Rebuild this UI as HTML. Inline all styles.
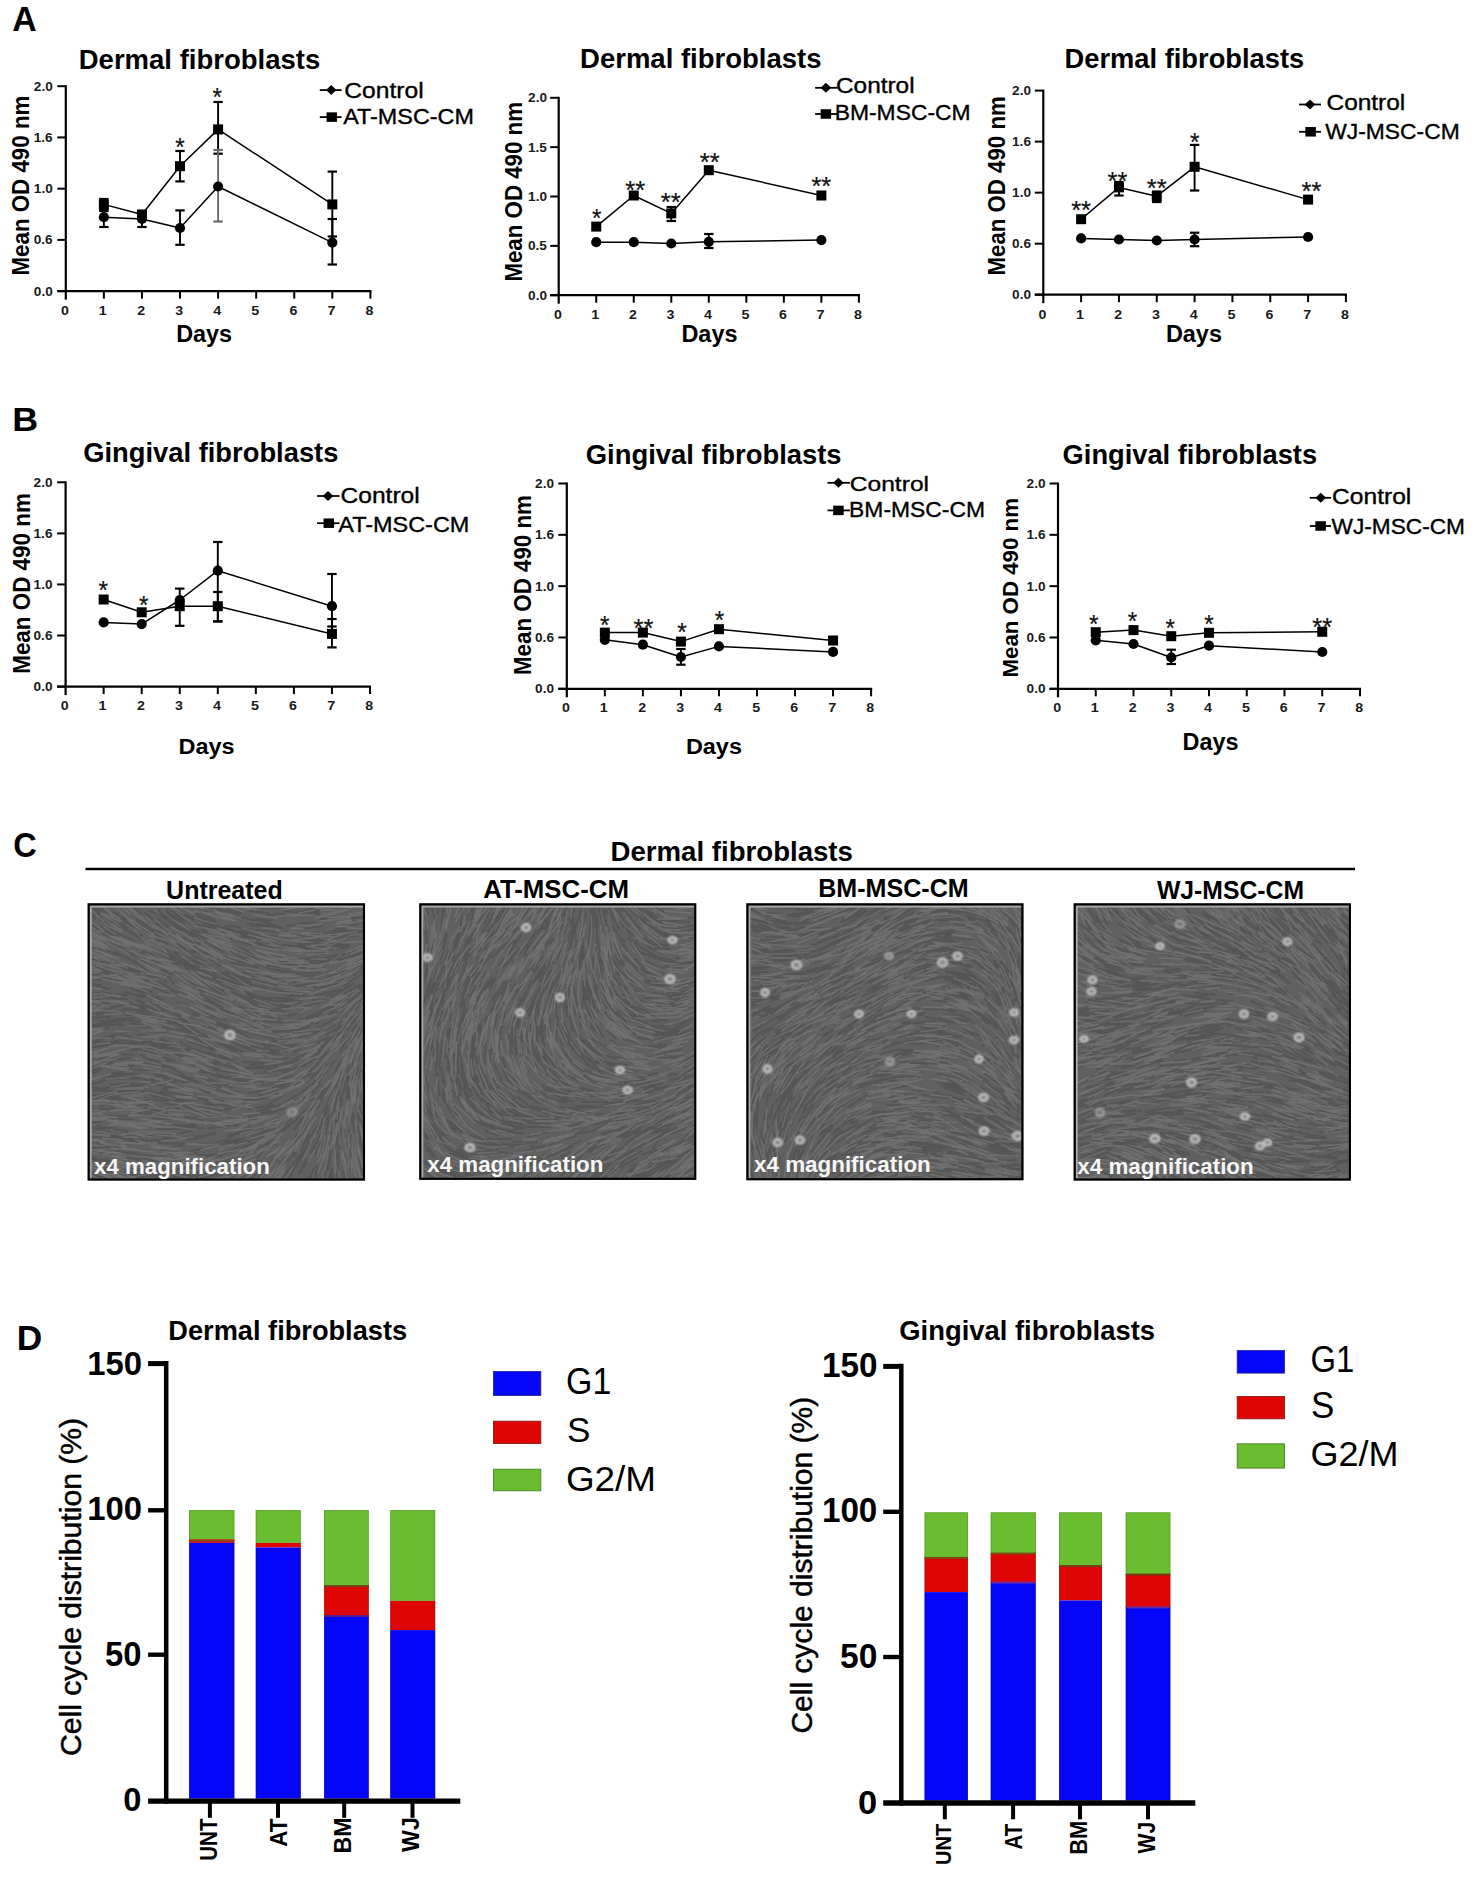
<!DOCTYPE html>
<html><head><meta charset="utf-8"><title>Figure</title>
<style>html,body{margin:0;padding:0;background:#fff;}body{width:1480px;height:1877px;overflow:hidden;font-family:"Liberation Sans", sans-serif;}svg text{font-family:"Liberation Sans", sans-serif;}</style>
</head><body>
<svg width="1480" height="1877" viewBox="0 0 1480 1877" style="display:block;font-family:'Liberation Sans', sans-serif">
<defs><filter id="soft2" x="-5%" y="-5%" width="110%" height="110%"><feGaussianBlur stdDeviation="1.1"/></filter><filter id="soft" x="-5%" y="-5%" width="110%" height="110%"><feGaussianBlur stdDeviation="0.6"/></filter><clipPath id="clip0"><rect x="89.7" y="905.4" width="273.3" height="273.1"/></clipPath><clipPath id="clip1"><rect x="421.3" y="905.4" width="272.9" height="272.4"/></clipPath><clipPath id="clip2"><rect x="748.4" y="905.4" width="273" height="272.8"/></clipPath><clipPath id="clip3"><rect x="1075.7" y="905.4" width="273.2" height="273.1"/></clipPath></defs>
<rect width="1480" height="1877" fill="#fff"/>
<text x="12.15" y="31.2" font-size="35.35" font-weight="bold" fill="#000" textLength="24.47" lengthAdjust="spacingAndGlyphs" >A</text>
<text x="12.18" y="430.5" font-size="32.58" font-weight="bold" fill="#000" textLength="25.93" lengthAdjust="spacingAndGlyphs" >B</text>
<text x="13.2" y="857.2" font-size="35.41" font-weight="bold" fill="#000" textLength="23.48" lengthAdjust="spacingAndGlyphs" >C</text>
<text x="16.82" y="1350.1" font-size="35.35" font-weight="bold" fill="#000" textLength="25.47" lengthAdjust="spacingAndGlyphs" >D</text>
<g>
<line x1="65.8" y1="85.2" x2="65.8" y2="299.6" stroke="#000" stroke-width="2.2" stroke-linecap="butt"/>
<line x1="57.3" y1="291.1" x2="371.5" y2="291.1" stroke="#000" stroke-width="2.2" stroke-linecap="butt"/>
<line x1="57.3" y1="291.1" x2="65.8" y2="291.1" stroke="#000" stroke-width="2.0" stroke-linecap="butt"/>
<text x="33.83" y="295.5" font-size="12.9" font-weight="bold" fill="#1a1a1a" textLength="18.92" lengthAdjust="spacingAndGlyphs" >0.0</text>
<line x1="57.3" y1="239.88" x2="65.8" y2="239.88" stroke="#000" stroke-width="2.0" stroke-linecap="butt"/>
<text x="33.76" y="244.28" font-size="12.9" font-weight="bold" fill="#1a1a1a" textLength="18.92" lengthAdjust="spacingAndGlyphs" >0.6</text>
<line x1="57.3" y1="188.65" x2="65.8" y2="188.65" stroke="#000" stroke-width="2.0" stroke-linecap="butt"/>
<text x="33.83" y="193.05" font-size="12.9" font-weight="bold" fill="#1a1a1a" textLength="18.92" lengthAdjust="spacingAndGlyphs" >1.0</text>
<line x1="57.3" y1="137.43" x2="65.8" y2="137.43" stroke="#000" stroke-width="2.0" stroke-linecap="butt"/>
<text x="33.76" y="141.83" font-size="12.9" font-weight="bold" fill="#1a1a1a" textLength="18.92" lengthAdjust="spacingAndGlyphs" >1.6</text>
<line x1="57.3" y1="86.2" x2="65.8" y2="86.2" stroke="#000" stroke-width="2.0" stroke-linecap="butt"/>
<text x="33.83" y="90.6" font-size="12.9" font-weight="bold" fill="#1a1a1a" textLength="18.92" lengthAdjust="spacingAndGlyphs" >2.0</text>
<text x="61.06" y="314.6" font-size="12.9" font-weight="bold" fill="#1a1a1a" textLength="7.89" lengthAdjust="spacingAndGlyphs" >0</text>
<line x1="103.88" y1="291.1" x2="103.88" y2="298.6" stroke="#000" stroke-width="2.0" stroke-linecap="butt"/>
<text x="98.83" y="314.6" font-size="13.09" font-weight="bold" fill="#1a1a1a" textLength="8.01" lengthAdjust="spacingAndGlyphs" >1</text>
<line x1="141.95" y1="291.1" x2="141.95" y2="298.6" stroke="#000" stroke-width="2.0" stroke-linecap="butt"/>
<text x="137.23" y="314.6" font-size="12.9" font-weight="bold" fill="#1a1a1a" textLength="7.89" lengthAdjust="spacingAndGlyphs" >2</text>
<line x1="180.02" y1="291.1" x2="180.02" y2="298.6" stroke="#000" stroke-width="2.0" stroke-linecap="butt"/>
<text x="175.37" y="314.6" font-size="12.9" font-weight="bold" fill="#1a1a1a" textLength="7.89" lengthAdjust="spacingAndGlyphs" >3</text>
<line x1="218.1" y1="291.1" x2="218.1" y2="298.6" stroke="#000" stroke-width="2.0" stroke-linecap="butt"/>
<text x="213.23" y="314.6" font-size="13.09" font-weight="bold" fill="#1a1a1a" textLength="8.01" lengthAdjust="spacingAndGlyphs" >4</text>
<line x1="256.17" y1="291.1" x2="256.17" y2="298.6" stroke="#000" stroke-width="2.0" stroke-linecap="butt"/>
<text x="251.36" y="314.6" font-size="13.09" font-weight="bold" fill="#1a1a1a" textLength="8.01" lengthAdjust="spacingAndGlyphs" >5</text>
<line x1="294.25" y1="291.1" x2="294.25" y2="298.6" stroke="#000" stroke-width="2.0" stroke-linecap="butt"/>
<text x="289.49" y="314.6" font-size="12.9" font-weight="bold" fill="#1a1a1a" textLength="7.89" lengthAdjust="spacingAndGlyphs" >6</text>
<line x1="332.32" y1="291.1" x2="332.32" y2="298.6" stroke="#000" stroke-width="2.0" stroke-linecap="butt"/>
<text x="327.53" y="314.6" font-size="13.09" font-weight="bold" fill="#1a1a1a" textLength="8.01" lengthAdjust="spacingAndGlyphs" >7</text>
<line x1="370.4" y1="291.1" x2="370.4" y2="298.6" stroke="#000" stroke-width="2.0" stroke-linecap="butt"/>
<text x="365.64" y="314.6" font-size="12.9" font-weight="bold" fill="#1a1a1a" textLength="7.89" lengthAdjust="spacingAndGlyphs" >8</text>
<text x="78.74" y="68.6" font-size="28" font-weight="bold" fill="#000" textLength="241.57" lengthAdjust="spacingAndGlyphs" >Dermal fibroblasts</text>
<text transform="translate(29.1,274) rotate(-90)" x="-1.51" y="0" font-size="23.23" font-weight="bold" fill="#000" textLength="179.87" lengthAdjust="spacingAndGlyphs" >Mean OD 490 nm</text>
<text x="176.22" y="341.7" font-size="23.27" font-weight="bold" fill="#000" textLength="55.83" lengthAdjust="spacingAndGlyphs" >Days</text>
<line x1="319.8" y1="90.1" x2="341.6" y2="90.1" stroke="#000" stroke-width="1.8" stroke-linecap="butt"/>
<path d="M325.95 90.1L331.2 85.1L336.45 90.1L331.2 95.1Z" fill="#000"/>
<line x1="319.8" y1="117.1" x2="341.6" y2="117.1" stroke="#000" stroke-width="1.8" stroke-linecap="butt"/>
<rect x="326.55" y="112.35" width="10.5" height="9.5" fill="#000"/>
<text x="344.37" y="97.6" font-size="22.21" font-weight="normal" fill="#000" textLength="79.26" lengthAdjust="spacingAndGlyphs" stroke="#000" stroke-width="0.35">Control</text>
<text x="343.24" y="124" font-size="22.22" font-weight="normal" fill="#000" textLength="130.67" lengthAdjust="spacingAndGlyphs" stroke="#000" stroke-width="0.35">AT-MSC-CM</text>
<line x1="103.88" y1="199" x2="103.88" y2="209.5" stroke="#000" stroke-width="1.9" stroke-linecap="butt"/>
<line x1="99.17" y1="199" x2="108.58" y2="199" stroke="#000" stroke-width="2.2" stroke-linecap="butt"/>
<line x1="99.17" y1="209.5" x2="108.58" y2="209.5" stroke="#000" stroke-width="2.2" stroke-linecap="butt"/>
<line x1="103.88" y1="211" x2="103.88" y2="227" stroke="#000" stroke-width="1.9" stroke-linecap="butt"/>
<line x1="99.17" y1="211" x2="108.58" y2="211" stroke="#000" stroke-width="2.2" stroke-linecap="butt"/>
<line x1="99.17" y1="227" x2="108.58" y2="227" stroke="#000" stroke-width="2.2" stroke-linecap="butt"/>
<line x1="141.95" y1="211" x2="141.95" y2="227" stroke="#000" stroke-width="1.9" stroke-linecap="butt"/>
<line x1="137.25" y1="211" x2="146.65" y2="211" stroke="#000" stroke-width="2.2" stroke-linecap="butt"/>
<line x1="137.25" y1="227" x2="146.65" y2="227" stroke="#000" stroke-width="2.2" stroke-linecap="butt"/>
<line x1="180.02" y1="151" x2="180.02" y2="181.4" stroke="#000" stroke-width="1.9" stroke-linecap="butt"/>
<line x1="175.32" y1="151" x2="184.72" y2="151" stroke="#000" stroke-width="2.2" stroke-linecap="butt"/>
<line x1="175.32" y1="181.4" x2="184.72" y2="181.4" stroke="#000" stroke-width="2.2" stroke-linecap="butt"/>
<line x1="180.02" y1="210.4" x2="180.02" y2="244.8" stroke="#000" stroke-width="1.9" stroke-linecap="butt"/>
<line x1="175.32" y1="210.4" x2="184.72" y2="210.4" stroke="#000" stroke-width="2.2" stroke-linecap="butt"/>
<line x1="175.32" y1="244.8" x2="184.72" y2="244.8" stroke="#000" stroke-width="2.2" stroke-linecap="butt"/>
<line x1="218.1" y1="102" x2="218.1" y2="153.7" stroke="#000" stroke-width="1.9" stroke-linecap="butt"/>
<line x1="213.4" y1="102" x2="222.8" y2="102" stroke="#000" stroke-width="2.2" stroke-linecap="butt"/>
<line x1="213.4" y1="153.7" x2="222.8" y2="153.7" stroke="#000" stroke-width="2.2" stroke-linecap="butt"/>
<line x1="218.1" y1="150" x2="218.1" y2="221.5" stroke="#6a6a6a" stroke-width="1.9" stroke-linecap="butt"/>
<line x1="213.4" y1="150" x2="222.8" y2="150" stroke="#6a6a6a" stroke-width="2.2" stroke-linecap="butt"/>
<line x1="213.4" y1="221.5" x2="222.8" y2="221.5" stroke="#6a6a6a" stroke-width="2.2" stroke-linecap="butt"/>
<line x1="332.32" y1="171.6" x2="332.32" y2="236.5" stroke="#000" stroke-width="1.9" stroke-linecap="butt"/>
<line x1="327.62" y1="171.6" x2="337.02" y2="171.6" stroke="#000" stroke-width="2.2" stroke-linecap="butt"/>
<line x1="327.62" y1="236.5" x2="337.02" y2="236.5" stroke="#000" stroke-width="2.2" stroke-linecap="butt"/>
<line x1="332.32" y1="219" x2="332.32" y2="264.5" stroke="#000" stroke-width="1.9" stroke-linecap="butt"/>
<line x1="327.62" y1="219" x2="337.02" y2="219" stroke="#000" stroke-width="2.2" stroke-linecap="butt"/>
<line x1="327.62" y1="264.5" x2="337.02" y2="264.5" stroke="#000" stroke-width="2.2" stroke-linecap="butt"/>
<polyline points="103.88,217.2 141.95,218.9 180.02,228 218.1,186.5 332.32,242.6" fill="none" stroke="#000" stroke-width="1.5" stroke-linejoin="round"/>
<polyline points="103.88,204.4 141.95,214.5 180.02,166.2 218.1,129.4 332.32,204.4" fill="none" stroke="#000" stroke-width="1.5" stroke-linejoin="round"/>
<circle cx="103.88" cy="217.2" r="5.1" fill="#000"/>
<circle cx="141.95" cy="218.9" r="5.1" fill="#000"/>
<circle cx="180.02" cy="228" r="5.1" fill="#000"/>
<circle cx="218.1" cy="186.5" r="5.1" fill="#000"/>
<circle cx="332.32" cy="242.6" r="5.1" fill="#000"/>
<rect x="98.88" y="199.4" width="10" height="10" fill="#000"/>
<rect x="136.95" y="209.5" width="10" height="10" fill="#000"/>
<rect x="175.02" y="161.2" width="10" height="10" fill="#000"/>
<rect x="213.1" y="124.4" width="10" height="10" fill="#000"/>
<rect x="327.32" y="199.4" width="10" height="10" fill="#000"/>
<text x="175.3" y="156.49" font-size="25.14" font-weight="normal" fill="#111" textLength="9.43" lengthAdjust="spacingAndGlyphs" stroke="#111" stroke-width="0.2">*</text>
<text x="212.38" y="105.89" font-size="25.14" font-weight="normal" fill="#111" textLength="9.43" lengthAdjust="spacingAndGlyphs" stroke="#111" stroke-width="0.2">*</text>
</g>
<g>
<line x1="558.7" y1="96.8" x2="558.7" y2="303.7" stroke="#000" stroke-width="2.2" stroke-linecap="butt"/>
<line x1="550.2" y1="295.2" x2="860" y2="295.2" stroke="#000" stroke-width="2.2" stroke-linecap="butt"/>
<line x1="550.2" y1="295.2" x2="558.7" y2="295.2" stroke="#000" stroke-width="2.0" stroke-linecap="butt"/>
<text x="528.13" y="299.6" font-size="12.9" font-weight="bold" fill="#1a1a1a" textLength="18.92" lengthAdjust="spacingAndGlyphs" >0.0</text>
<line x1="550.2" y1="245.85" x2="558.7" y2="245.85" stroke="#000" stroke-width="2.0" stroke-linecap="butt"/>
<text x="527.96" y="250.25" font-size="12.9" font-weight="bold" fill="#1a1a1a" textLength="18.92" lengthAdjust="spacingAndGlyphs" >0.5</text>
<line x1="550.2" y1="196.5" x2="558.7" y2="196.5" stroke="#000" stroke-width="2.0" stroke-linecap="butt"/>
<text x="528.13" y="200.9" font-size="12.9" font-weight="bold" fill="#1a1a1a" textLength="18.92" lengthAdjust="spacingAndGlyphs" >1.0</text>
<line x1="550.2" y1="147.15" x2="558.7" y2="147.15" stroke="#000" stroke-width="2.0" stroke-linecap="butt"/>
<text x="527.96" y="151.55" font-size="13.09" font-weight="bold" fill="#1a1a1a" textLength="18.92" lengthAdjust="spacingAndGlyphs" >1.5</text>
<line x1="550.2" y1="97.8" x2="558.7" y2="97.8" stroke="#000" stroke-width="2.0" stroke-linecap="butt"/>
<text x="528.13" y="102.2" font-size="12.9" font-weight="bold" fill="#1a1a1a" textLength="18.92" lengthAdjust="spacingAndGlyphs" >2.0</text>
<text x="553.96" y="319" font-size="12.9" font-weight="bold" fill="#1a1a1a" textLength="7.89" lengthAdjust="spacingAndGlyphs" >0</text>
<line x1="596.23" y1="295.2" x2="596.23" y2="302.7" stroke="#000" stroke-width="2.0" stroke-linecap="butt"/>
<text x="591.18" y="319" font-size="13.09" font-weight="bold" fill="#1a1a1a" textLength="8.01" lengthAdjust="spacingAndGlyphs" >1</text>
<line x1="633.75" y1="295.2" x2="633.75" y2="302.7" stroke="#000" stroke-width="2.0" stroke-linecap="butt"/>
<text x="629.03" y="319" font-size="12.9" font-weight="bold" fill="#1a1a1a" textLength="7.89" lengthAdjust="spacingAndGlyphs" >2</text>
<line x1="671.27" y1="295.2" x2="671.27" y2="302.7" stroke="#000" stroke-width="2.0" stroke-linecap="butt"/>
<text x="666.62" y="319" font-size="12.9" font-weight="bold" fill="#1a1a1a" textLength="7.89" lengthAdjust="spacingAndGlyphs" >3</text>
<line x1="708.8" y1="295.2" x2="708.8" y2="302.7" stroke="#000" stroke-width="2.0" stroke-linecap="butt"/>
<text x="703.93" y="319" font-size="13.09" font-weight="bold" fill="#1a1a1a" textLength="8.01" lengthAdjust="spacingAndGlyphs" >4</text>
<line x1="746.33" y1="295.2" x2="746.33" y2="302.7" stroke="#000" stroke-width="2.0" stroke-linecap="butt"/>
<text x="741.51" y="319" font-size="13.09" font-weight="bold" fill="#1a1a1a" textLength="8.01" lengthAdjust="spacingAndGlyphs" >5</text>
<line x1="783.85" y1="295.2" x2="783.85" y2="302.7" stroke="#000" stroke-width="2.0" stroke-linecap="butt"/>
<text x="779.09" y="319" font-size="12.9" font-weight="bold" fill="#1a1a1a" textLength="7.89" lengthAdjust="spacingAndGlyphs" >6</text>
<line x1="821.38" y1="295.2" x2="821.38" y2="302.7" stroke="#000" stroke-width="2.0" stroke-linecap="butt"/>
<text x="816.58" y="319" font-size="13.09" font-weight="bold" fill="#1a1a1a" textLength="8.01" lengthAdjust="spacingAndGlyphs" >7</text>
<line x1="858.9" y1="295.2" x2="858.9" y2="302.7" stroke="#000" stroke-width="2.0" stroke-linecap="butt"/>
<text x="854.14" y="319" font-size="12.9" font-weight="bold" fill="#1a1a1a" textLength="7.89" lengthAdjust="spacingAndGlyphs" >8</text>
<text x="580.04" y="68.1" font-size="27.86" font-weight="bold" fill="#000" textLength="241.47" lengthAdjust="spacingAndGlyphs" >Dermal fibroblasts</text>
<text transform="translate(522.4,280.1) rotate(-90)" x="-1.5" y="0" font-size="24.09" font-weight="bold" fill="#000" textLength="179.56" lengthAdjust="spacingAndGlyphs" >Mean OD 490 nm</text>
<text x="681.41" y="342" font-size="23.71" font-weight="bold" fill="#000" textLength="56.14" lengthAdjust="spacingAndGlyphs" >Days</text>
<line x1="815.1" y1="87.8" x2="837.2" y2="87.8" stroke="#000" stroke-width="1.8" stroke-linecap="butt"/>
<path d="M820.65 87.8L825.9 82.8L831.15 87.8L825.9 92.8Z" fill="#000"/>
<line x1="815.1" y1="114" x2="837.2" y2="114" stroke="#000" stroke-width="1.8" stroke-linecap="butt"/>
<rect x="820.65" y="109.25" width="10.5" height="9.5" fill="#000"/>
<text x="835.98" y="93" font-size="21.38" font-weight="normal" fill="#000" textLength="78.64" lengthAdjust="spacingAndGlyphs" stroke="#000" stroke-width="0.35">Control</text>
<text x="834.71" y="120" font-size="22.22" font-weight="normal" fill="#000" textLength="135.89" lengthAdjust="spacingAndGlyphs" stroke="#000" stroke-width="0.35">BM-MSC-CM</text>
<line x1="671.27" y1="207" x2="671.27" y2="221" stroke="#000" stroke-width="1.9" stroke-linecap="butt"/>
<line x1="666.57" y1="207" x2="675.98" y2="207" stroke="#000" stroke-width="2.2" stroke-linecap="butt"/>
<line x1="666.57" y1="221" x2="675.98" y2="221" stroke="#000" stroke-width="2.2" stroke-linecap="butt"/>
<line x1="708.8" y1="234" x2="708.8" y2="248" stroke="#000" stroke-width="1.9" stroke-linecap="butt"/>
<line x1="704.1" y1="234" x2="713.5" y2="234" stroke="#000" stroke-width="2.2" stroke-linecap="butt"/>
<line x1="704.1" y1="248" x2="713.5" y2="248" stroke="#000" stroke-width="2.2" stroke-linecap="butt"/>
<polyline points="596.23,242.2 633.75,242.2 671.27,243.5 708.8,241.8 821.38,240.1" fill="none" stroke="#000" stroke-width="1.5" stroke-linejoin="round"/>
<polyline points="596.23,226.6 633.75,195.5 671.27,213.4 708.8,170.2 821.38,195.5" fill="none" stroke="#000" stroke-width="1.5" stroke-linejoin="round"/>
<circle cx="596.23" cy="242.2" r="5.1" fill="#000"/>
<circle cx="633.75" cy="242.2" r="5.1" fill="#000"/>
<circle cx="671.27" cy="243.5" r="5.1" fill="#000"/>
<circle cx="708.8" cy="241.8" r="5.1" fill="#000"/>
<circle cx="821.38" cy="240.1" r="5.1" fill="#000"/>
<rect x="591.23" y="221.6" width="10" height="10" fill="#000"/>
<rect x="628.75" y="190.5" width="10" height="10" fill="#000"/>
<rect x="666.27" y="208.4" width="10" height="10" fill="#000"/>
<rect x="703.8" y="165.2" width="10" height="10" fill="#000"/>
<rect x="816.38" y="190.5" width="10" height="10" fill="#000"/>
<text x="592" y="226.89" font-size="25.14" font-weight="normal" fill="#111" textLength="9.43" lengthAdjust="spacingAndGlyphs" stroke="#111" stroke-width="0.2">*</text>
<text x="625.3" y="198.89" font-size="25.14" font-weight="normal" fill="#111" textLength="19.85" lengthAdjust="spacingAndGlyphs" stroke="#111" stroke-width="0.2">**</text>
<text x="660.83" y="210.89" font-size="25.14" font-weight="normal" fill="#111" textLength="19.85" lengthAdjust="spacingAndGlyphs" stroke="#111" stroke-width="0.2">**</text>
<text x="699.85" y="171.29" font-size="25.14" font-weight="normal" fill="#111" textLength="19.85" lengthAdjust="spacingAndGlyphs" stroke="#111" stroke-width="0.2">**</text>
<text x="811.43" y="194.89" font-size="25.14" font-weight="normal" fill="#111" textLength="19.85" lengthAdjust="spacingAndGlyphs" stroke="#111" stroke-width="0.2">**</text>
</g>
<g>
<line x1="1043.3" y1="89.6" x2="1043.3" y2="303.2" stroke="#000" stroke-width="2.2" stroke-linecap="butt"/>
<line x1="1034.8" y1="294.7" x2="1347" y2="294.7" stroke="#000" stroke-width="2.2" stroke-linecap="butt"/>
<line x1="1034.8" y1="294.7" x2="1043.3" y2="294.7" stroke="#000" stroke-width="2.0" stroke-linecap="butt"/>
<text x="1012.13" y="299.1" font-size="12.9" font-weight="bold" fill="#1a1a1a" textLength="18.92" lengthAdjust="spacingAndGlyphs" >0.0</text>
<line x1="1034.8" y1="243.67" x2="1043.3" y2="243.67" stroke="#000" stroke-width="2.0" stroke-linecap="butt"/>
<text x="1012.06" y="248.07" font-size="12.9" font-weight="bold" fill="#1a1a1a" textLength="18.92" lengthAdjust="spacingAndGlyphs" >0.6</text>
<line x1="1034.8" y1="192.65" x2="1043.3" y2="192.65" stroke="#000" stroke-width="2.0" stroke-linecap="butt"/>
<text x="1012.13" y="197.05" font-size="12.9" font-weight="bold" fill="#1a1a1a" textLength="18.92" lengthAdjust="spacingAndGlyphs" >1.0</text>
<line x1="1034.8" y1="141.62" x2="1043.3" y2="141.62" stroke="#000" stroke-width="2.0" stroke-linecap="butt"/>
<text x="1012.06" y="146.03" font-size="12.9" font-weight="bold" fill="#1a1a1a" textLength="18.92" lengthAdjust="spacingAndGlyphs" >1.6</text>
<line x1="1034.8" y1="90.6" x2="1043.3" y2="90.6" stroke="#000" stroke-width="2.0" stroke-linecap="butt"/>
<text x="1012.13" y="95" font-size="12.9" font-weight="bold" fill="#1a1a1a" textLength="18.92" lengthAdjust="spacingAndGlyphs" >2.0</text>
<text x="1038.56" y="319" font-size="12.9" font-weight="bold" fill="#1a1a1a" textLength="7.89" lengthAdjust="spacingAndGlyphs" >0</text>
<line x1="1081.12" y1="294.7" x2="1081.12" y2="302.2" stroke="#000" stroke-width="2.0" stroke-linecap="butt"/>
<text x="1076.08" y="319" font-size="13.09" font-weight="bold" fill="#1a1a1a" textLength="8.01" lengthAdjust="spacingAndGlyphs" >1</text>
<line x1="1118.95" y1="294.7" x2="1118.95" y2="302.2" stroke="#000" stroke-width="2.0" stroke-linecap="butt"/>
<text x="1114.23" y="319" font-size="12.9" font-weight="bold" fill="#1a1a1a" textLength="7.89" lengthAdjust="spacingAndGlyphs" >2</text>
<line x1="1156.78" y1="294.7" x2="1156.78" y2="302.2" stroke="#000" stroke-width="2.0" stroke-linecap="butt"/>
<text x="1152.13" y="319" font-size="12.9" font-weight="bold" fill="#1a1a1a" textLength="7.89" lengthAdjust="spacingAndGlyphs" >3</text>
<line x1="1194.6" y1="294.7" x2="1194.6" y2="302.2" stroke="#000" stroke-width="2.0" stroke-linecap="butt"/>
<text x="1189.73" y="319" font-size="13.09" font-weight="bold" fill="#1a1a1a" textLength="8.01" lengthAdjust="spacingAndGlyphs" >4</text>
<line x1="1232.42" y1="294.7" x2="1232.42" y2="302.2" stroke="#000" stroke-width="2.0" stroke-linecap="butt"/>
<text x="1227.61" y="319" font-size="13.09" font-weight="bold" fill="#1a1a1a" textLength="8.01" lengthAdjust="spacingAndGlyphs" >5</text>
<line x1="1270.25" y1="294.7" x2="1270.25" y2="302.2" stroke="#000" stroke-width="2.0" stroke-linecap="butt"/>
<text x="1265.49" y="319" font-size="12.9" font-weight="bold" fill="#1a1a1a" textLength="7.89" lengthAdjust="spacingAndGlyphs" >6</text>
<line x1="1308.08" y1="294.7" x2="1308.08" y2="302.2" stroke="#000" stroke-width="2.0" stroke-linecap="butt"/>
<text x="1303.28" y="319" font-size="13.09" font-weight="bold" fill="#1a1a1a" textLength="8.01" lengthAdjust="spacingAndGlyphs" >7</text>
<line x1="1345.9" y1="294.7" x2="1345.9" y2="302.2" stroke="#000" stroke-width="2.0" stroke-linecap="butt"/>
<text x="1341.14" y="319" font-size="12.9" font-weight="bold" fill="#1a1a1a" textLength="7.89" lengthAdjust="spacingAndGlyphs" >8</text>
<text x="1064.56" y="68.1" font-size="27.86" font-weight="bold" fill="#000" textLength="239.65" lengthAdjust="spacingAndGlyphs" >Dermal fibroblasts</text>
<text transform="translate(1005.2,274) rotate(-90)" x="-1.5" y="0" font-size="23.51" font-weight="bold" fill="#000" textLength="179.26" lengthAdjust="spacingAndGlyphs" >Mean OD 490 nm</text>
<text x="1165.92" y="342" font-size="23.71" font-weight="bold" fill="#000" textLength="56.04" lengthAdjust="spacingAndGlyphs" >Days</text>
<line x1="1299.1" y1="104.5" x2="1321" y2="104.5" stroke="#000" stroke-width="1.8" stroke-linecap="butt"/>
<path d="M1304.75 104.5L1310 99.5L1315.25 104.5L1310 109.5Z" fill="#000"/>
<line x1="1299.1" y1="131.8" x2="1321" y2="131.8" stroke="#000" stroke-width="1.8" stroke-linecap="butt"/>
<rect x="1305.35" y="127.05" width="10.5" height="9.5" fill="#000"/>
<text x="1326.48" y="109.9" font-size="21.79" font-weight="normal" fill="#000" textLength="78.84" lengthAdjust="spacingAndGlyphs" stroke="#000" stroke-width="0.35">Control</text>
<text x="1325.19" y="138.5" font-size="21.79" font-weight="normal" fill="#000" textLength="134.49" lengthAdjust="spacingAndGlyphs" stroke="#000" stroke-width="0.35">WJ-MSC-CM</text>
<line x1="1118.95" y1="182" x2="1118.95" y2="195.5" stroke="#000" stroke-width="1.9" stroke-linecap="butt"/>
<line x1="1114.25" y1="182" x2="1123.65" y2="182" stroke="#000" stroke-width="2.2" stroke-linecap="butt"/>
<line x1="1114.25" y1="195.5" x2="1123.65" y2="195.5" stroke="#000" stroke-width="2.2" stroke-linecap="butt"/>
<line x1="1156.78" y1="191.5" x2="1156.78" y2="202" stroke="#000" stroke-width="1.9" stroke-linecap="butt"/>
<line x1="1152.08" y1="191.5" x2="1161.48" y2="191.5" stroke="#000" stroke-width="2.2" stroke-linecap="butt"/>
<line x1="1152.08" y1="202" x2="1161.48" y2="202" stroke="#000" stroke-width="2.2" stroke-linecap="butt"/>
<line x1="1194.6" y1="144.9" x2="1194.6" y2="190.5" stroke="#000" stroke-width="1.9" stroke-linecap="butt"/>
<line x1="1189.9" y1="144.9" x2="1199.3" y2="144.9" stroke="#000" stroke-width="2.2" stroke-linecap="butt"/>
<line x1="1189.9" y1="190.5" x2="1199.3" y2="190.5" stroke="#000" stroke-width="2.2" stroke-linecap="butt"/>
<line x1="1194.6" y1="232.7" x2="1194.6" y2="246.2" stroke="#000" stroke-width="1.9" stroke-linecap="butt"/>
<line x1="1189.9" y1="232.7" x2="1199.3" y2="232.7" stroke="#000" stroke-width="2.2" stroke-linecap="butt"/>
<line x1="1189.9" y1="246.2" x2="1199.3" y2="246.2" stroke="#000" stroke-width="2.2" stroke-linecap="butt"/>
<polyline points="1081.12,238.4 1118.95,239.5 1156.78,240.5 1194.6,239.5 1308.08,237" fill="none" stroke="#000" stroke-width="1.5" stroke-linejoin="round"/>
<polyline points="1081.12,219.2 1118.95,187.4 1156.78,196.2 1194.6,166.8 1308.08,199.6" fill="none" stroke="#000" stroke-width="1.5" stroke-linejoin="round"/>
<circle cx="1081.12" cy="238.4" r="5.1" fill="#000"/>
<circle cx="1118.95" cy="239.5" r="5.1" fill="#000"/>
<circle cx="1156.78" cy="240.5" r="5.1" fill="#000"/>
<circle cx="1194.6" cy="239.5" r="5.1" fill="#000"/>
<circle cx="1308.08" cy="237" r="5.1" fill="#000"/>
<rect x="1076.12" y="214.2" width="10" height="10" fill="#000"/>
<rect x="1113.95" y="182.4" width="10" height="10" fill="#000"/>
<rect x="1151.78" y="191.2" width="10" height="10" fill="#000"/>
<rect x="1189.6" y="161.8" width="10" height="10" fill="#000"/>
<rect x="1303.08" y="194.6" width="10" height="10" fill="#000"/>
<text x="1071.18" y="219.29" font-size="25.14" font-weight="normal" fill="#111" textLength="19.85" lengthAdjust="spacingAndGlyphs" stroke="#111" stroke-width="0.2">**</text>
<text x="1107.5" y="190.49" font-size="25.14" font-weight="normal" fill="#111" textLength="19.85" lengthAdjust="spacingAndGlyphs" stroke="#111" stroke-width="0.2">**</text>
<text x="1146.83" y="196.59" font-size="25.14" font-weight="normal" fill="#111" textLength="19.85" lengthAdjust="spacingAndGlyphs" stroke="#111" stroke-width="0.2">**</text>
<text x="1189.88" y="150.89" font-size="25.14" font-weight="normal" fill="#111" textLength="9.43" lengthAdjust="spacingAndGlyphs" stroke="#111" stroke-width="0.2">*</text>
<text x="1301.63" y="199.89" font-size="25.14" font-weight="normal" fill="#111" textLength="19.85" lengthAdjust="spacingAndGlyphs" stroke="#111" stroke-width="0.2">**</text>
</g>
<g>
<line x1="65.6" y1="481.3" x2="65.6" y2="695.1" stroke="#000" stroke-width="2.2" stroke-linecap="butt"/>
<line x1="57.1" y1="686.6" x2="371.1" y2="686.6" stroke="#000" stroke-width="2.2" stroke-linecap="butt"/>
<line x1="57.1" y1="686.6" x2="65.6" y2="686.6" stroke="#000" stroke-width="2.0" stroke-linecap="butt"/>
<text x="33.63" y="691" font-size="12.9" font-weight="bold" fill="#1a1a1a" textLength="18.92" lengthAdjust="spacingAndGlyphs" >0.0</text>
<line x1="57.1" y1="635.52" x2="65.6" y2="635.52" stroke="#000" stroke-width="2.0" stroke-linecap="butt"/>
<text x="33.56" y="639.92" font-size="12.9" font-weight="bold" fill="#1a1a1a" textLength="18.92" lengthAdjust="spacingAndGlyphs" >0.6</text>
<line x1="57.1" y1="584.45" x2="65.6" y2="584.45" stroke="#000" stroke-width="2.0" stroke-linecap="butt"/>
<text x="33.63" y="588.85" font-size="12.9" font-weight="bold" fill="#1a1a1a" textLength="18.92" lengthAdjust="spacingAndGlyphs" >1.0</text>
<line x1="57.1" y1="533.38" x2="65.6" y2="533.38" stroke="#000" stroke-width="2.0" stroke-linecap="butt"/>
<text x="33.56" y="537.77" font-size="12.9" font-weight="bold" fill="#1a1a1a" textLength="18.92" lengthAdjust="spacingAndGlyphs" >1.6</text>
<line x1="57.1" y1="482.3" x2="65.6" y2="482.3" stroke="#000" stroke-width="2.0" stroke-linecap="butt"/>
<text x="33.63" y="486.7" font-size="12.9" font-weight="bold" fill="#1a1a1a" textLength="18.92" lengthAdjust="spacingAndGlyphs" >2.0</text>
<text x="60.86" y="709.8" font-size="12.9" font-weight="bold" fill="#1a1a1a" textLength="7.89" lengthAdjust="spacingAndGlyphs" >0</text>
<line x1="103.65" y1="686.6" x2="103.65" y2="694.1" stroke="#000" stroke-width="2.0" stroke-linecap="butt"/>
<text x="98.6" y="709.8" font-size="13.09" font-weight="bold" fill="#1a1a1a" textLength="8.01" lengthAdjust="spacingAndGlyphs" >1</text>
<line x1="141.7" y1="686.6" x2="141.7" y2="694.1" stroke="#000" stroke-width="2.0" stroke-linecap="butt"/>
<text x="136.98" y="709.8" font-size="12.9" font-weight="bold" fill="#1a1a1a" textLength="7.89" lengthAdjust="spacingAndGlyphs" >2</text>
<line x1="179.75" y1="686.6" x2="179.75" y2="694.1" stroke="#000" stroke-width="2.0" stroke-linecap="butt"/>
<text x="175.1" y="709.8" font-size="12.9" font-weight="bold" fill="#1a1a1a" textLength="7.89" lengthAdjust="spacingAndGlyphs" >3</text>
<line x1="217.8" y1="686.6" x2="217.8" y2="694.1" stroke="#000" stroke-width="2.0" stroke-linecap="butt"/>
<text x="212.93" y="709.8" font-size="13.09" font-weight="bold" fill="#1a1a1a" textLength="8.01" lengthAdjust="spacingAndGlyphs" >4</text>
<line x1="255.85" y1="686.6" x2="255.85" y2="694.1" stroke="#000" stroke-width="2.0" stroke-linecap="butt"/>
<text x="251.04" y="709.8" font-size="13.09" font-weight="bold" fill="#1a1a1a" textLength="8.01" lengthAdjust="spacingAndGlyphs" >5</text>
<line x1="293.9" y1="686.6" x2="293.9" y2="694.1" stroke="#000" stroke-width="2.0" stroke-linecap="butt"/>
<text x="289.14" y="709.8" font-size="12.9" font-weight="bold" fill="#1a1a1a" textLength="7.89" lengthAdjust="spacingAndGlyphs" >6</text>
<line x1="331.95" y1="686.6" x2="331.95" y2="694.1" stroke="#000" stroke-width="2.0" stroke-linecap="butt"/>
<text x="327.15" y="709.8" font-size="13.09" font-weight="bold" fill="#1a1a1a" textLength="8.01" lengthAdjust="spacingAndGlyphs" >7</text>
<line x1="370" y1="686.6" x2="370" y2="694.1" stroke="#000" stroke-width="2.0" stroke-linecap="butt"/>
<text x="365.24" y="709.8" font-size="12.9" font-weight="bold" fill="#1a1a1a" textLength="7.89" lengthAdjust="spacingAndGlyphs" >8</text>
<text x="83.21" y="461.6" font-size="28" font-weight="bold" fill="#000" textLength="255.2" lengthAdjust="spacingAndGlyphs" >Gingival fibroblasts</text>
<text transform="translate(30,672.3) rotate(-90)" x="-1.51" y="0" font-size="24.52" font-weight="bold" fill="#000" textLength="180.68" lengthAdjust="spacingAndGlyphs" >Mean OD 490 nm</text>
<text x="178.52" y="753.6" font-size="22.69" font-weight="bold" fill="#000" textLength="56.04" lengthAdjust="spacingAndGlyphs" >Days</text>
<line x1="317.1" y1="496" x2="339.5" y2="496" stroke="#000" stroke-width="1.8" stroke-linecap="butt"/>
<path d="M322.75 496L328 491L333.25 496L328 501Z" fill="#000"/>
<line x1="317.1" y1="523.2" x2="339.5" y2="523.2" stroke="#000" stroke-width="1.8" stroke-linecap="butt"/>
<rect x="323.55" y="518.45" width="10.5" height="9.5" fill="#000"/>
<text x="340.57" y="503.1" font-size="22.07" font-weight="normal" fill="#000" textLength="79.15" lengthAdjust="spacingAndGlyphs" stroke="#000" stroke-width="0.35">Control</text>
<text x="338.24" y="531.9" font-size="22.22" font-weight="normal" fill="#000" textLength="131.18" lengthAdjust="spacingAndGlyphs" stroke="#000" stroke-width="0.35">AT-MSC-CM</text>
<line x1="179.75" y1="588.6" x2="179.75" y2="625.8" stroke="#000" stroke-width="1.9" stroke-linecap="butt"/>
<line x1="175.05" y1="588.6" x2="184.45" y2="588.6" stroke="#000" stroke-width="2.2" stroke-linecap="butt"/>
<line x1="175.05" y1="625.8" x2="184.45" y2="625.8" stroke="#000" stroke-width="2.2" stroke-linecap="butt"/>
<line x1="217.8" y1="542" x2="217.8" y2="621.4" stroke="#000" stroke-width="1.9" stroke-linecap="butt"/>
<line x1="213.1" y1="542" x2="222.5" y2="542" stroke="#000" stroke-width="2.2" stroke-linecap="butt"/>
<line x1="213.1" y1="621.4" x2="222.5" y2="621.4" stroke="#000" stroke-width="2.2" stroke-linecap="butt"/>
<line x1="217.8" y1="592" x2="217.8" y2="621.4" stroke="#000" stroke-width="1.9" stroke-linecap="butt"/>
<line x1="213.1" y1="592" x2="222.5" y2="592" stroke="#000" stroke-width="2.2" stroke-linecap="butt"/>
<line x1="213.1" y1="621.4" x2="222.5" y2="621.4" stroke="#000" stroke-width="2.2" stroke-linecap="butt"/>
<line x1="331.95" y1="574" x2="331.95" y2="626.5" stroke="#000" stroke-width="1.9" stroke-linecap="butt"/>
<line x1="327.25" y1="574" x2="336.65" y2="574" stroke="#000" stroke-width="2.2" stroke-linecap="butt"/>
<line x1="327.25" y1="626.5" x2="336.65" y2="626.5" stroke="#000" stroke-width="2.2" stroke-linecap="butt"/>
<line x1="331.95" y1="619" x2="331.95" y2="647.4" stroke="#000" stroke-width="1.9" stroke-linecap="butt"/>
<line x1="327.25" y1="619" x2="336.65" y2="619" stroke="#000" stroke-width="2.2" stroke-linecap="butt"/>
<line x1="327.25" y1="647.4" x2="336.65" y2="647.4" stroke="#000" stroke-width="2.2" stroke-linecap="butt"/>
<polyline points="103.65,622.4 141.7,624.1 179.75,600 217.8,570.7 331.95,606.2" fill="none" stroke="#000" stroke-width="1.5" stroke-linejoin="round"/>
<polyline points="103.65,599.5 141.7,612.3 179.75,606.2 217.8,606.2 331.95,633.9" fill="none" stroke="#000" stroke-width="1.5" stroke-linejoin="round"/>
<circle cx="103.65" cy="622.4" r="5.1" fill="#000"/>
<circle cx="141.7" cy="624.1" r="5.1" fill="#000"/>
<circle cx="179.75" cy="600" r="5.1" fill="#000"/>
<circle cx="217.8" cy="570.7" r="5.1" fill="#000"/>
<circle cx="331.95" cy="606.2" r="5.1" fill="#000"/>
<rect x="98.65" y="594.5" width="10" height="10" fill="#000"/>
<rect x="136.7" y="607.3" width="10" height="10" fill="#000"/>
<rect x="174.75" y="601.2" width="10" height="10" fill="#000"/>
<rect x="212.8" y="601.2" width="10" height="10" fill="#000"/>
<rect x="326.95" y="628.9" width="10" height="10" fill="#000"/>
<text x="98.43" y="598.89" font-size="25.14" font-weight="normal" fill="#111" textLength="9.43" lengthAdjust="spacingAndGlyphs" stroke="#111" stroke-width="0.2">*</text>
<text x="138.98" y="613.89" font-size="25.14" font-weight="normal" fill="#111" textLength="9.43" lengthAdjust="spacingAndGlyphs" stroke="#111" stroke-width="0.2">*</text>
</g>
<g>
<line x1="566.8" y1="482.5" x2="566.8" y2="697.3" stroke="#000" stroke-width="2.2" stroke-linecap="butt"/>
<line x1="558.3" y1="688.8" x2="872.2" y2="688.8" stroke="#000" stroke-width="2.2" stroke-linecap="butt"/>
<line x1="558.3" y1="688.8" x2="566.8" y2="688.8" stroke="#000" stroke-width="2.0" stroke-linecap="butt"/>
<text x="535.13" y="693.2" font-size="12.9" font-weight="bold" fill="#1a1a1a" textLength="18.92" lengthAdjust="spacingAndGlyphs" >0.0</text>
<line x1="558.3" y1="637.47" x2="566.8" y2="637.47" stroke="#000" stroke-width="2.0" stroke-linecap="butt"/>
<text x="535.06" y="641.87" font-size="12.9" font-weight="bold" fill="#1a1a1a" textLength="18.92" lengthAdjust="spacingAndGlyphs" >0.6</text>
<line x1="558.3" y1="586.15" x2="566.8" y2="586.15" stroke="#000" stroke-width="2.0" stroke-linecap="butt"/>
<text x="535.13" y="590.55" font-size="12.9" font-weight="bold" fill="#1a1a1a" textLength="18.92" lengthAdjust="spacingAndGlyphs" >1.0</text>
<line x1="558.3" y1="534.83" x2="566.8" y2="534.83" stroke="#000" stroke-width="2.0" stroke-linecap="butt"/>
<text x="535.06" y="539.23" font-size="12.9" font-weight="bold" fill="#1a1a1a" textLength="18.92" lengthAdjust="spacingAndGlyphs" >1.6</text>
<line x1="558.3" y1="483.5" x2="566.8" y2="483.5" stroke="#000" stroke-width="2.0" stroke-linecap="butt"/>
<text x="535.13" y="487.9" font-size="12.9" font-weight="bold" fill="#1a1a1a" textLength="18.92" lengthAdjust="spacingAndGlyphs" >2.0</text>
<text x="562.06" y="712" font-size="12.9" font-weight="bold" fill="#1a1a1a" textLength="7.89" lengthAdjust="spacingAndGlyphs" >0</text>
<line x1="604.84" y1="688.8" x2="604.84" y2="696.3" stroke="#000" stroke-width="2.0" stroke-linecap="butt"/>
<text x="599.79" y="712" font-size="13.09" font-weight="bold" fill="#1a1a1a" textLength="8.01" lengthAdjust="spacingAndGlyphs" >1</text>
<line x1="642.88" y1="688.8" x2="642.88" y2="696.3" stroke="#000" stroke-width="2.0" stroke-linecap="butt"/>
<text x="638.15" y="712" font-size="12.9" font-weight="bold" fill="#1a1a1a" textLength="7.89" lengthAdjust="spacingAndGlyphs" >2</text>
<line x1="680.91" y1="688.8" x2="680.91" y2="696.3" stroke="#000" stroke-width="2.0" stroke-linecap="butt"/>
<text x="676.26" y="712" font-size="12.9" font-weight="bold" fill="#1a1a1a" textLength="7.89" lengthAdjust="spacingAndGlyphs" >3</text>
<line x1="718.95" y1="688.8" x2="718.95" y2="696.3" stroke="#000" stroke-width="2.0" stroke-linecap="butt"/>
<text x="714.08" y="712" font-size="13.09" font-weight="bold" fill="#1a1a1a" textLength="8.01" lengthAdjust="spacingAndGlyphs" >4</text>
<line x1="756.99" y1="688.8" x2="756.99" y2="696.3" stroke="#000" stroke-width="2.0" stroke-linecap="butt"/>
<text x="752.17" y="712" font-size="13.09" font-weight="bold" fill="#1a1a1a" textLength="8.01" lengthAdjust="spacingAndGlyphs" >5</text>
<line x1="795.02" y1="688.8" x2="795.02" y2="696.3" stroke="#000" stroke-width="2.0" stroke-linecap="butt"/>
<text x="790.27" y="712" font-size="12.9" font-weight="bold" fill="#1a1a1a" textLength="7.89" lengthAdjust="spacingAndGlyphs" >6</text>
<line x1="833.06" y1="688.8" x2="833.06" y2="696.3" stroke="#000" stroke-width="2.0" stroke-linecap="butt"/>
<text x="828.27" y="712" font-size="13.09" font-weight="bold" fill="#1a1a1a" textLength="8.01" lengthAdjust="spacingAndGlyphs" >7</text>
<line x1="871.1" y1="688.8" x2="871.1" y2="696.3" stroke="#000" stroke-width="2.0" stroke-linecap="butt"/>
<text x="866.34" y="712" font-size="12.9" font-weight="bold" fill="#1a1a1a" textLength="7.89" lengthAdjust="spacingAndGlyphs" >8</text>
<text x="585.8" y="464.2" font-size="28.14" font-weight="bold" fill="#000" textLength="255.8" lengthAdjust="spacingAndGlyphs" >Gingival fibroblasts</text>
<text transform="translate(531.4,673.5) rotate(-90)" x="-1.51" y="0" font-size="23.8" font-weight="bold" fill="#000" textLength="179.97" lengthAdjust="spacingAndGlyphs" >Mean OD 490 nm</text>
<text x="685.92" y="753.6" font-size="22.69" font-weight="bold" fill="#000" textLength="56.04" lengthAdjust="spacingAndGlyphs" >Days</text>
<line x1="827.5" y1="482.8" x2="849.9" y2="482.8" stroke="#000" stroke-width="1.8" stroke-linecap="butt"/>
<path d="M833.15 482.8L838.4 477.8L843.65 482.8L838.4 487.8Z" fill="#000"/>
<line x1="827.5" y1="510.4" x2="849.9" y2="510.4" stroke="#000" stroke-width="1.8" stroke-linecap="butt"/>
<rect x="833.15" y="505.65" width="10.5" height="9.5" fill="#000"/>
<text x="849.77" y="490.5" font-size="20.97" font-weight="normal" fill="#000" textLength="79.26" lengthAdjust="spacingAndGlyphs" stroke="#000" stroke-width="0.35">Control</text>
<text x="849.11" y="517.3" font-size="22.22" font-weight="normal" fill="#000" textLength="135.89" lengthAdjust="spacingAndGlyphs" stroke="#000" stroke-width="0.35">BM-MSC-CM</text>
<line x1="680.91" y1="649" x2="680.91" y2="664.7" stroke="#000" stroke-width="1.9" stroke-linecap="butt"/>
<line x1="676.21" y1="649" x2="685.61" y2="649" stroke="#000" stroke-width="2.2" stroke-linecap="butt"/>
<line x1="676.21" y1="664.7" x2="685.61" y2="664.7" stroke="#000" stroke-width="2.2" stroke-linecap="butt"/>
<polyline points="604.84,639.8 642.88,644.7 680.91,657 718.95,646.4 833.06,651.9" fill="none" stroke="#000" stroke-width="1.5" stroke-linejoin="round"/>
<polyline points="604.84,632.6 642.88,632.6 680.91,641.6 718.95,629.2 833.06,640.5" fill="none" stroke="#000" stroke-width="1.5" stroke-linejoin="round"/>
<circle cx="604.84" cy="639.8" r="5.1" fill="#000"/>
<circle cx="642.88" cy="644.7" r="5.1" fill="#000"/>
<circle cx="680.91" cy="657" r="5.1" fill="#000"/>
<circle cx="718.95" cy="646.4" r="5.1" fill="#000"/>
<circle cx="833.06" cy="651.9" r="5.1" fill="#000"/>
<rect x="599.84" y="627.6" width="10" height="10" fill="#000"/>
<rect x="637.88" y="627.6" width="10" height="10" fill="#000"/>
<rect x="675.91" y="636.6" width="10" height="10" fill="#000"/>
<rect x="713.95" y="624.2" width="10" height="10" fill="#000"/>
<rect x="828.06" y="635.5" width="10" height="10" fill="#000"/>
<text x="600.11" y="634.49" font-size="25.14" font-weight="normal" fill="#111" textLength="9.43" lengthAdjust="spacingAndGlyphs" stroke="#111" stroke-width="0.2">*</text>
<text x="633.53" y="636.89" font-size="25.14" font-weight="normal" fill="#111" textLength="19.85" lengthAdjust="spacingAndGlyphs" stroke="#111" stroke-width="0.2">**</text>
<text x="677.19" y="641.39" font-size="25.14" font-weight="normal" fill="#111" textLength="9.43" lengthAdjust="spacingAndGlyphs" stroke="#111" stroke-width="0.2">*</text>
<text x="714.83" y="629.29" font-size="25.14" font-weight="normal" fill="#111" textLength="9.43" lengthAdjust="spacingAndGlyphs" stroke="#111" stroke-width="0.2">*</text>
</g>
<g>
<line x1="1058" y1="482.5" x2="1058" y2="697.3" stroke="#000" stroke-width="2.2" stroke-linecap="butt"/>
<line x1="1049.5" y1="688.8" x2="1361.1" y2="688.8" stroke="#000" stroke-width="2.2" stroke-linecap="butt"/>
<line x1="1049.5" y1="688.8" x2="1058" y2="688.8" stroke="#000" stroke-width="2.0" stroke-linecap="butt"/>
<text x="1026.63" y="693.2" font-size="12.9" font-weight="bold" fill="#1a1a1a" textLength="18.92" lengthAdjust="spacingAndGlyphs" >0.0</text>
<line x1="1049.5" y1="637.47" x2="1058" y2="637.47" stroke="#000" stroke-width="2.0" stroke-linecap="butt"/>
<text x="1026.56" y="641.87" font-size="12.9" font-weight="bold" fill="#1a1a1a" textLength="18.92" lengthAdjust="spacingAndGlyphs" >0.6</text>
<line x1="1049.5" y1="586.15" x2="1058" y2="586.15" stroke="#000" stroke-width="2.0" stroke-linecap="butt"/>
<text x="1026.63" y="590.55" font-size="12.9" font-weight="bold" fill="#1a1a1a" textLength="18.92" lengthAdjust="spacingAndGlyphs" >1.0</text>
<line x1="1049.5" y1="534.83" x2="1058" y2="534.83" stroke="#000" stroke-width="2.0" stroke-linecap="butt"/>
<text x="1026.56" y="539.23" font-size="12.9" font-weight="bold" fill="#1a1a1a" textLength="18.92" lengthAdjust="spacingAndGlyphs" >1.6</text>
<line x1="1049.5" y1="483.5" x2="1058" y2="483.5" stroke="#000" stroke-width="2.0" stroke-linecap="butt"/>
<text x="1026.63" y="487.9" font-size="12.9" font-weight="bold" fill="#1a1a1a" textLength="18.92" lengthAdjust="spacingAndGlyphs" >2.0</text>
<text x="1053.26" y="712" font-size="12.9" font-weight="bold" fill="#1a1a1a" textLength="7.89" lengthAdjust="spacingAndGlyphs" >0</text>
<line x1="1095.75" y1="688.8" x2="1095.75" y2="696.3" stroke="#000" stroke-width="2.0" stroke-linecap="butt"/>
<text x="1090.7" y="712" font-size="13.09" font-weight="bold" fill="#1a1a1a" textLength="8.01" lengthAdjust="spacingAndGlyphs" >1</text>
<line x1="1133.5" y1="688.8" x2="1133.5" y2="696.3" stroke="#000" stroke-width="2.0" stroke-linecap="butt"/>
<text x="1128.78" y="712" font-size="12.9" font-weight="bold" fill="#1a1a1a" textLength="7.89" lengthAdjust="spacingAndGlyphs" >2</text>
<line x1="1171.25" y1="688.8" x2="1171.25" y2="696.3" stroke="#000" stroke-width="2.0" stroke-linecap="butt"/>
<text x="1166.6" y="712" font-size="12.9" font-weight="bold" fill="#1a1a1a" textLength="7.89" lengthAdjust="spacingAndGlyphs" >3</text>
<line x1="1209" y1="688.8" x2="1209" y2="696.3" stroke="#000" stroke-width="2.0" stroke-linecap="butt"/>
<text x="1204.13" y="712" font-size="13.09" font-weight="bold" fill="#1a1a1a" textLength="8.01" lengthAdjust="spacingAndGlyphs" >4</text>
<line x1="1246.75" y1="688.8" x2="1246.75" y2="696.3" stroke="#000" stroke-width="2.0" stroke-linecap="butt"/>
<text x="1241.94" y="712" font-size="13.09" font-weight="bold" fill="#1a1a1a" textLength="8.01" lengthAdjust="spacingAndGlyphs" >5</text>
<line x1="1284.5" y1="688.8" x2="1284.5" y2="696.3" stroke="#000" stroke-width="2.0" stroke-linecap="butt"/>
<text x="1279.74" y="712" font-size="12.9" font-weight="bold" fill="#1a1a1a" textLength="7.89" lengthAdjust="spacingAndGlyphs" >6</text>
<line x1="1322.25" y1="688.8" x2="1322.25" y2="696.3" stroke="#000" stroke-width="2.0" stroke-linecap="butt"/>
<text x="1317.45" y="712" font-size="13.09" font-weight="bold" fill="#1a1a1a" textLength="8.01" lengthAdjust="spacingAndGlyphs" >7</text>
<line x1="1360" y1="688.8" x2="1360" y2="696.3" stroke="#000" stroke-width="2.0" stroke-linecap="butt"/>
<text x="1355.24" y="712" font-size="12.9" font-weight="bold" fill="#1a1a1a" textLength="7.89" lengthAdjust="spacingAndGlyphs" >8</text>
<text x="1062.61" y="464.2" font-size="28.14" font-weight="bold" fill="#000" textLength="254.49" lengthAdjust="spacingAndGlyphs" >Gingival fibroblasts</text>
<text transform="translate(1017.7,676) rotate(-90)" x="-1.5" y="0" font-size="22.94" font-weight="bold" fill="#000" textLength="179.46" lengthAdjust="spacingAndGlyphs" >Mean OD 490 nm</text>
<text x="1182.62" y="749.6" font-size="23.42" font-weight="bold" fill="#000" textLength="56.04" lengthAdjust="spacingAndGlyphs" >Days</text>
<line x1="1309.8" y1="497.8" x2="1331" y2="497.8" stroke="#000" stroke-width="1.8" stroke-linecap="butt"/>
<path d="M1315.45 497.8L1320.7 492.8L1325.95 497.8L1320.7 502.8Z" fill="#000"/>
<line x1="1309.8" y1="526" x2="1331" y2="526" stroke="#000" stroke-width="1.8" stroke-linecap="butt"/>
<rect x="1315.35" y="521.25" width="10.5" height="9.5" fill="#000"/>
<text x="1332.07" y="503.5" font-size="21.38" font-weight="normal" fill="#000" textLength="79.26" lengthAdjust="spacingAndGlyphs" stroke="#000" stroke-width="0.35">Control</text>
<text x="1331.49" y="534" font-size="21.51" font-weight="normal" fill="#000" textLength="133.48" lengthAdjust="spacingAndGlyphs" stroke="#000" stroke-width="0.35">WJ-MSC-CM</text>
<line x1="1171.25" y1="649.7" x2="1171.25" y2="664" stroke="#000" stroke-width="1.9" stroke-linecap="butt"/>
<line x1="1166.55" y1="649.7" x2="1175.95" y2="649.7" stroke="#000" stroke-width="2.2" stroke-linecap="butt"/>
<line x1="1166.55" y1="664" x2="1175.95" y2="664" stroke="#000" stroke-width="2.2" stroke-linecap="butt"/>
<polyline points="1095.75,640.3 1133.5,644 1171.25,657.5 1209,645.7 1322.25,652" fill="none" stroke="#000" stroke-width="1.5" stroke-linejoin="round"/>
<polyline points="1095.75,632.2 1133.5,630.1 1171.25,636.2 1209,632.8 1322.25,631.8" fill="none" stroke="#000" stroke-width="1.5" stroke-linejoin="round"/>
<circle cx="1095.75" cy="640.3" r="5.1" fill="#000"/>
<circle cx="1133.5" cy="644" r="5.1" fill="#000"/>
<circle cx="1171.25" cy="657.5" r="5.1" fill="#000"/>
<circle cx="1209" cy="645.7" r="5.1" fill="#000"/>
<circle cx="1322.25" cy="652" r="5.1" fill="#000"/>
<rect x="1090.75" y="627.2" width="10" height="10" fill="#000"/>
<rect x="1128.5" y="625.1" width="10" height="10" fill="#000"/>
<rect x="1166.25" y="631.2" width="10" height="10" fill="#000"/>
<rect x="1204" y="627.8" width="10" height="10" fill="#000"/>
<rect x="1317.25" y="626.8" width="10" height="10" fill="#000"/>
<text x="1089.03" y="632.89" font-size="25.14" font-weight="normal" fill="#111" textLength="9.43" lengthAdjust="spacingAndGlyphs" stroke="#111" stroke-width="0.2">*</text>
<text x="1127.78" y="630.49" font-size="25.14" font-weight="normal" fill="#111" textLength="9.43" lengthAdjust="spacingAndGlyphs" stroke="#111" stroke-width="0.2">*</text>
<text x="1165.53" y="637.29" font-size="25.14" font-weight="normal" fill="#111" textLength="9.43" lengthAdjust="spacingAndGlyphs" stroke="#111" stroke-width="0.2">*</text>
<text x="1204.28" y="632.89" font-size="25.14" font-weight="normal" fill="#111" textLength="9.43" lengthAdjust="spacingAndGlyphs" stroke="#111" stroke-width="0.2">*</text>
<text x="1312.3" y="635.59" font-size="25.14" font-weight="normal" fill="#111" textLength="19.85" lengthAdjust="spacingAndGlyphs" stroke="#111" stroke-width="0.2">**</text>
</g>
<line x1="85.5" y1="869" x2="1355" y2="869" stroke="#000" stroke-width="2.3" stroke-linecap="butt"/>
<text x="610.54" y="860.7" font-size="26.76" font-weight="bold" fill="#000" textLength="242.38" lengthAdjust="spacingAndGlyphs" >Dermal fibroblasts</text>
<text x="166.1" y="899" font-size="25.52" font-weight="bold" fill="#000" textLength="116.63" lengthAdjust="spacingAndGlyphs" >Untreated</text>
<text x="483.15" y="898.4" font-size="25.52" font-weight="bold" fill="#000" textLength="145.91" lengthAdjust="spacingAndGlyphs" >AT-MSC-CM</text>
<text x="818.21" y="896.6" font-size="25.81" font-weight="bold" fill="#000" textLength="150.45" lengthAdjust="spacingAndGlyphs" >BM-MSC-CM</text>
<text x="1157" y="899" font-size="26.24" font-weight="bold" fill="#000" textLength="147.03" lengthAdjust="spacingAndGlyphs" >WJ-MSC-CM</text>
<rect x="87.7" y="903.4" width="277.3" height="277.1" fill="#606060"/>
<g clip-path="url(#clip0)"><g filter="url(#soft)"><path d="M99 1021l27 -0M192 1177l12 -5M303 954l22 -1M135 1091l20 1M270 969l22 3M108 1020l26 -2M238 1149l17 -6M343 1045l13 -20M155 1010l24 1M293 939l16 1M329 1144l7 -27M123 948l13 9M194 1001l20 9M90 1151l26 4M257 919l13 3M122 926l15 11M177 1002l13 5M108 997l17 2M122 1054l12 1M177 945l24 9M363 1153l-5 -26M91 904l10 14M365 1177l-6 -18M336 1146l3 -20M297 1118l15 -14M186 1006l23 17M298 944l27 -0M81 1167l21 11M138 969l15 8M331 1006l18 -8M230 1046l11 5M208 1103l22 3M235 970l16 5M200 1071l21 5M347 1111l4 -27M117 933l18 8M324 947l25 -2M346 1023l11 -17M174 953l15 10M169 1074l21 4M149 911l25 8M148 936l23 17M193 917l26 12M319 1033l16 -8M148 929l12 9M161 1039l14 6M231 952l19 7M310 1017l19 -10M256 1012l17 7M122 918l21 17M206 942l17 10M348 995l15 -11M220 902l16 5M142 1064l21 3M171 1179l14 -5M248 1109l26 -4M306 1074l22 -18M176 926l23 14M76 1126l25 -4M150 920l14 9M182 1035l24 2M149 1109l17 1M271 1093l17 -5M129 1173l29 4M148 959l29 5M114 1129l21 4M90 895l9 19M308 903l26 1M159 1004l18 5M90 923l21 17M126 1003l28 8M234 1104l13 -2M94 1160l14 1M152 1082l16 6M333 1047l11 -11M106 998l14 1M192 1014l20 7M111 1043l23 0M198 1170l27 -5M213 1064l11 4M150 931l14 5M289 1033l21 -6M166 933l12 12M242 1008l15 6M257 1153l18 -9M82 1045l23 -7M88 1000l19 -5M136 1173l18 -1M347 1047l10 -11M182 959l29 7M327 1120l11 -28M87 1087l19 2M178 1169l14 -1M199 911l17 11M83 1018l27 -1M145 1109l28 3M278 991l17 0M84 967l20 2M217 1163l15 -4M170 990l18 5M99 904l13 18M101 927l20 7M261 1114l26 -7M183 1107l16 1M166 1005l25 17M103 1038l26 -6M129 1171l22 3M301 1172l5 -13M134 969l20 10M131 988l15 4M234 1079l13 2M342 995l19 -11M135 1107l15 -4M326 1035l13 -8M250 1005l21 2M209 1128l29 -3M93 1159l19 2M136 1013l27 5M187 933l14 9M91 1135l14 2M238 1018l23 6M140 1114l26 3M198 925l18 8M297 1048l12 -5M367 1119l-6 -26M119 1121l29 2M157 1129l15 0M170 909l12 9M295 938l21 -5M318 936l29 -6M235 1000l25 7M143 1079l30 3M119 1074l20 -0M89 897l11 15M134 1074l20 5M253 1151l23 -12M175 1080l19 5M229 1011l13 10M117 954l21 9M159 910l25 13M207 1108l20 2M284 1103l23 -14M222 973l22 9M139 1108l29 2M335 1090l8 -23M314 1030l22 -12M334 944l12 -0M88 1096l23 -2M307 1142l15 -24M139 932l12 5M161 929l13 5M148 976l22 12M249 911l19 2M141 1141l13 3M348 905l21 0M304 976l29 -1M251 926l26 0M190 1151l13 -2M215 1001l24 14M258 998l18 3M198 1119l22 -2M158 1097l27 3M125 992l15 5M181 1176l26 -1M139 1009l12 5M205 939l22 6M287 1022l16 -3M267 1085l19 -7M277 1080l16 -4M334 958l22 -8M226 943l24 9M275 1046l24 -1M265 1009l25 7M190 903l17 9M287 1172l13 -17M295 1137l15 -18M252 1132l26 -3M178 1139l17 -0M280 980l16 2M175 1161l27 -1M315 1084l7 -10M115 965l25 6M330 1084l11 -24M268 1054l24 -7M120 1040l13 -0M313 906l27 -1M198 1172l12 -6M333 1002l26 -15M248 994l27 7M198 1016l20 9M148 1042l29 4M237 1077l26 5M164 901l14 7M246 1076l23 -3M208 1115l14 -0M177 1134l25 -6M194 1076l27 11M238 1162l18 -9M213 1016l13 4M263 935l29 4M147 1106l15 2M99 1082l23 -8M86 897l9 22M321 1041l12 -6M297 1006l23 -3M297 1063l16 -6M247 1185l17 -21M264 1071l28 -1M237 1133l27 -8M151 1141l26 -4M296 959l25 -0M133 971l25 6M139 1060l27 7M130 948l22 11M92 1176l17 8M177 1046l12 3M150 1119l20 -0M91 959l15 -0M352 1162l-3 -13M230 1076l28 9M357 967l12 -5M89 1123l24 -4M347 1099l3 -17M115 1036l15 1M130 905l23 18M198 927l28 6M213 1075l14 4M320 981l18 -8M211 986l26 10M138 1034l17 4M336 929l17 3M83 1128l18 -2M201 1159l15 -5M137 921l10 10M274 1134l19 -12M94 1129l18 -2M212 1146l17 -3M242 903l21 4M316 995l24 -5M215 1041l19 10M103 970l26 6M243 1062l21 1M111 1042l21 -4M315 945l22 -2M194 1139l21 -6M166 1020l28 8M220 1177l23 -17M97 1025l21 -4M251 1133l25 -12M149 1051l28 5M156 984l22 9M210 1049l14 5M147 921l17 14M274 1032l22 -2M220 1004l20 11M210 977l28 11M201 917l17 8M284 945l18 2M219 1110l25 -3M117 1145l12 -1M190 1120l28 2M159 1007l20 9M202 952l17 4M164 1137l27 0M90 1061l21 -2M222 1093l19 0M225 926l16 10M212 1022l22 7M163 1176l27 -3M366 1158l-8 -18M127 1078l23 1M294 990l24 -3M131 1042l22 -0M195 934l14 5M306 1082l21 -17M178 947l16 6M182 913l26 11M87 1157l26 8M348 1054l11 -27M321 1047l19 -18M162 1057l13 4M309 1003l16 -4M172 940l21 12M317 1133l5 -14M346 1049l11 -12M243 1003l16 4M226 974l24 9M99 948l26 9M221 982l11 7M187 1155l26 0M267 1089l18 -3M178 1076l15 3M91 947l15 3M126 1135l22 2M75 1133l26 3M143 929l24 11M183 1110l27 2M267 1114l24 -12M223 1163l14 -4M230 1180l18 -16M137 987l14 5M202 1164l18 -3M302 1061l23 -11M310 936l17 -3M275 1027l14 1M79 1173l23 11M216 1021l14 6M346 1092l3 -16M160 949l20 12M286 993l15 3M312 970l13 -1M346 1050l8 -19M118 1025l29 2M75 1135l27 3M197 991l16 12M202 1057l17 6M337 1158l4 -29M246 983l21 6M326 912l15 -2M239 1014l20 9M227 930l26 9M231 962l21 8M94 1027l27 -3M274 932l27 -0M119 1119l13 -0M161 1098l19 3M317 953l25 -7M177 1109l29 -2M296 936l29 -2M243 933l12 5M271 1007l14 4M84 1000l14 -4M308 1099l12 -15M248 924l18 1M177 1029l21 8M79 1034l29 -6M216 972l21 8M294 1156l14 -22M327 1175l4 -24M175 1054l19 4M184 965l11 12M203 1058l16 6M232 1166l17 -6M352 1011l19 -18M159 972l11 6M129 1070l28 0M96 1131l27 -7M258 1163l14 -8M173 915l18 8M153 1030l11 5M282 994l14 1M194 1049l21 7M146 1100l26 1M150 1049l29 -2M180 1179l16 -2M220 1055l14 5M337 949l12 -2M173 1125l20 1M254 1010l26 9M254 962l15 6M252 981l28 10M149 1108l26 8M267 1070l20 -2M298 1148l11 -11M344 906l28 1M99 996l28 3M303 1099l9 -9M351 1000l22 -17M265 942l25 6M172 955l24 17M100 908l15 15M258 1053l22 1M162 1016l29 7M75 1075l28 -6M107 1135l26 4M226 986l28 9M354 975l20 -13M249 1093l18 -3M330 1042l20 -15M224 1044l20 8M252 1136l27 -7M115 941l14 9M97 1015l30 -5M120 1092l19 1M82 955l21 7M148 1135l14 -0M253 1004l12 5M260 1133l16 -9M273 1006l24 0M214 1158l24 -10M190 1028l25 12M287 1015l13 -1M137 920l25 10M267 1105l18 -10M311 1152l7 -13M153 987l15 6M159 1143l26 1M182 1028l19 9M233 916l17 3M296 986l24 -4M321 919l20 0M127 1158l22 2M139 1136l15 -1M343 1027l17 -17M267 915l27 -1M122 1155l18 1M86 1014l21 -10M200 1090l13 4M225 982l18 4M321 1078l13 -17M145 1158l12 4M92 993l20 5M100 1058l14 0M219 927l23 6M121 943l25 15M107 1147l14 0M228 1040l17 8M318 1051l22 -17M266 965l25 4M162 1150l14 1M94 971l23 2M172 1129l20 -1M100 969l25 4M135 990l28 10M337 1123l5 -23M279 1001l15 -2M350 1167l-4 -25M301 1152l8 -16M293 974l27 -2M336 1105l8 -24M311 1019l12 -7M297 904l21 2M207 994l15 6M153 1097l20 1M307 954l17 0M326 1016l20 -7M127 1049l12 0M176 925l19 12M261 921l22 7M181 1042l21 12M311 1100l17 -14M90 994l14 -2M88 1012l25 1M193 1179l22 -8M272 978l14 5M224 1149l14 -5M179 1173l29 -4M202 930l15 6M330 1038l19 -19M207 1053l22 10M160 1075l15 7M341 981l14 -9M303 936l17 -4M185 1168l24 -7M323 1059l14 -17M190 1036l24 13M315 1134l13 -24M336 1123l3 -27M252 977l12 6M99 1091l30 0M168 899l20 11M298 914l27 0M233 960l25 7M293 913l21 -4M188 1042l22 6M172 1177l13 -1M207 994l13 8M199 951l20 15M289 1179l13 -25M322 1114l11 -21M167 911l11 10M105 942l25 8M309 940l14 -2M335 1114l10 -27M315 942l12 -3M300 1034l12 -4M324 1045l18 -15M244 937l15 3M100 1106l13 -3M258 1099l19 -7M353 971l17 -8M101 1172l26 3M264 1167l21 -11M105 1170l24 7M298 1162l16 -23M246 1068l26 -0M84 1111l12 -2M138 1021l14 3M321 1145l5 -13M360 1122l-3 -12M203 1013l22 7M318 1108l4 -12M340 1034l18 -17M199 1178l23 -5M154 972l19 2M294 1130l15 -23M252 1001l20 9M338 1026l20 -20M331 907l17 0M267 1114l24 -8M148 1170l24 1M100 919l10 7M266 976l25 6M204 1104l13 3M137 1140l26 1M120 1086l23 0M183 1081l21 6M345 1012l19 -16M106 968l25 9M139 1008l18 3M313 970l12 -2M113 1036l15 0M207 1166l21 -6M357 1148l-5 -13M140 921l13 10M165 955l22 10M80 1087l21 -5M214 1070l24 3M182 1155l15 -2M91 1026l14 -3M262 909l29 -3M363 1083l0 -16M346 998l16 -11M306 904l23 -1M141 930l26 13M96 967l15 3M324 1177l5 -16M84 983l17 2M303 1091l17 -13M338 1178l-2 -15M150 965l17 7M206 1086l25 7M125 1169l26 -1M356 1161l-4 -16M141 961l16 4M239 1170l20 -10M85 1092l15 -2M250 1104l27 -11M241 1143l27 -8M158 919l10 7M281 1182l7 -10M224 988l18 8M101 1077l24 -2M129 1161l22 0M138 1125l26 -1M300 967l14 2M109 1079l16 -0M280 964l17 1M166 1087l17 0M356 1132l-6 -17M94 1047l15 -2M220 1044l17 7M187 1035l16 6M291 1006l20 0M258 979l12 3M161 915l20 16M346 918l17 -0M228 1135l15 -2M148 1172l14 1M352 1079l1 -17M340 936l26 -6M120 1138l17 4M311 1153l10 -20M165 1140l27 -3M105 961l27 10M344 1141l-2 -30M186 1137l14 -1M322 1154l2 -14M323 1063l12 -17M175 971l13 3M99 1110l15 -2M256 1159l13 -15M104 1064l27 4M137 1000l17 7M241 1017l22 12M175 959l23 11M179 1101l29 -2M229 1036l21 12M128 1154l22 2M80 1043l28 -1M114 1079l26 -1M224 1030l12 6M151 1046l15 0M284 1106l22 -11M204 925l12 5M354 1004l21 -16M165 944l13 9M208 1017l25 16M122 947l12 6M176 1092l18 5M278 1001l23 0M258 1111l28 -8M261 998l29 -0M301 911l18 0M224 1163l23 -5M151 1002l17 8M303 949l24 -3M145 914l13 11M330 932l28 -8M101 1147l25 -3M82 1101l23 -3M344 1012l25 -17M364 1107l-1 -15M229 1090l12 3M245 994l18 5M124 1009l24 2M298 1023l22 -10M341 1082l9 -15M314 1190l3 -24M318 1043l15 -8M286 1069l25 -13M109 979l14 2M257 930l21 1M345 1180l-4 -30M316 1024l23 -18M92 1174l21 6M303 914l20 -3M205 1101l25 3M111 950l19 9M149 1156l16 -0M226 1143l19 -5M139 1031l27 1M194 946l12 8M292 1069l14 -4M242 1177l15 -12M156 1076l22 5M226 1143l24 -1M352 920l12 3M259 1096l28 -7M197 1174l17 -5M308 906l16 1M325 1051l15 -10M347 937l25 -5M365 1190l-4 -23M331 977l13 -7M216 1060l22 4M145 1112l16 2M173 1114l16 3M249 951l13 4M160 1040l27 11M276 1021l15 2M251 920l21 -0M125 1091l20 -3M192 955l12 6M138 1011l23 8M332 932l21 -1M155 1164l26 -3M266 1066l29 -4M90 1068l24 -6M355 1029l8 -9M328 1109l4 -14M330 1188l1 -18M259 1174l15 -16M222 1064l15 5M131 1050l17 1M340 1053l8 -17M280 964l20 -3M134 962l22 13M98 1004l12 -2M144 997l14 0M209 1099l28 4M351 956l14 -4M329 1027l12 -10M191 1064l15 8M287 996l24 -1M157 952l24 13M86 995l24 -2M191 997l24 14M245 1004l11 7M352 917l19 3M188 1126l14 -2M211 959l10 7M158 1095l21 5M313 964l27 -5M102 1167l18 3M313 1000l18 -6M263 1025l19 3M283 911l16 1M131 947l22 8M126 1044l18 0M163 1089l21 4M308 1069l19 -17M111 1074l12 -2M126 1133l21 -0M228 1144l15 -3M101 1077l14 -2M325 1187l7 -19M138 922l25 13M206 1122l20 -1M147 1093l18 6M214 908l25 6M282 1089l18 -7M293 960l25 -3M212 1002l20 11M309 1063l18 -14M296 1101l19 -19M195 1042l14 5M238 952l19 7M339 960l12 -4M165 1104l16 2M259 1095l15 -1M95 970l13 4M204 1000l23 12M105 1097l26 -1M339 1018l14 -11M295 1142l12 -16M232 1028l22 6M332 1181l0 -12M158 1100l25 1M199 990l21 7M159 1052l26 5M281 1005l15 2M161 1172l19 -0M307 1017l24 -9M131 1023l25 5M326 973l21 -7M244 1100l13 0M184 932l16 13M134 1046l14 2M94 1109l14 0M94 1098l22 -5M157 1064l17 4M143 929l17 13M150 1174l28 2M133 1176l22 8M152 1072l15 4M208 1079l23 8M179 1094l25 4M354 1183l-6 -25M279 1175l15 -23M176 1126l27 -2M140 994l13 5M315 988l17 -1M321 1010l11 -4M274 1066l21 -4M320 940l27 -4M303 949l21 -5M293 1082l21 -9M182 928l16 8M294 1031l19 -8M143 1090l27 6M358 1038l13 -23M203 905l19 7M242 965l16 8M251 1185l11 -12M311 1109l17 -24M154 1074l13 2M282 1132l17 -15M88 1148l24 -3M239 1007l17 2M234 1160l21 -7M354 1086l4 -20M170 1148l13 -3M182 962l23 8M299 1174l9 -14M228 1117l29 2M311 1018l20 -8M161 1095l22 5M301 965l29 -3M102 1116l26 -0M332 996l21 -12M225 937l26 8M299 1123l10 -15M124 929l17 8M265 925l16 3M171 964l22 14M187 981l15 7M256 1034l18 5M153 972l12 6M210 1002l23 15M340 1094l7 -16M338 1170l1 -21M196 1180l12 -4M287 1033l19 -0M140 1005l19 4M109 916l18 12M191 945l26 13M211 1020l26 13M301 1157l8 -14M94 1090l24 -4M233 1085l16 0M158 1024l15 6M173 1128l23 -1M262 1051l23 -1M198 1143l26 3M276 998l25 6M84 1146l12 2M294 1062l22 -13M76 975l24 0M134 1050l22 4M174 1103l22 6M104 969l20 7M272 1060l16 -2M129 1020l28 5M157 959l13 6M202 982l18 11M236 1030l15 9M321 914l25 -2M261 956l23 2M158 931l11 10M319 940l16 -3M342 1008l22 -19M319 1130l8 -24M276 991l24 1M298 1038l25 -8M321 1099l11 -17M284 1073l12 -4M87 1158l17 2M116 1151l24 3M191 911l25 16M270 1042l21 -4M197 974l15 7M223 1182l13 -9M87 1156l20 6M279 962l22 -3M308 1181l6 -13M294 1052l19 -12M291 1065l13 -7M188 1017l16 9M203 1064l18 6M210 991l13 4M299 1036l18 -5M244 1186l17 -19M304 1094l16 -13M191 966l26 12M166 1019l24 12M172 1068l12 7M115 1060l15 -2M238 976l25 7M135 935l13 9M184 1118l28 -1M269 1005l15 7M227 957l13 8M200 919l15 7M160 978l17 7M113 912l13 7M142 1177l25 -2M111 1085l18 -1M358 1094l3 -24M251 997l14 7M262 1044l15 2M208 1052l23 10M166 937l19 12M105 1091l26 4M126 1015l14 0M98 994l29 1M238 935l16 2M103 1098l26 2M271 1005l18 3M165 1041l24 9M290 1061l17 -8M135 1170l13 0M228 925l28 6M276 1167l7 -11M291 947l21 -2M354 1132l-1 -24M328 1102l9 -18M334 1111l5 -20M179 1179l24 -1M154 1025l13 5M241 996l28 8M175 934l18 9M88 979l13 1M159 1107l24 -0M210 1072l15 5M124 977l25 3M240 931l26 6M351 1079l9 -25M102 1011l29 -9M152 1057l18 4M306 910l19 -3M277 1086l13 -3M96 1177l26 6M149 1044l29 6M310 962l27 -7M201 951l18 8M111 971l26 7M248 1002l12 4M102 1098l13 -4M211 945l18 8M247 1027l28 4M248 1117l19 -6M203 1052l27 8M280 971l24 3M319 962l18 -4M252 1167l21 -12M226 1077l15 4M226 972l24 9M87 983l22 6M190 1020l28 10M86 1135l24 -3M84 996l18 4M192 930l24 8M100 1137l27 1M79 1172l18 7M347 1177l-3 -13M97 1024l14 -0M169 1015l25 7M237 1011l19 12M276 1111l21 -10M236 1011l16 4M154 1044l13 0M251 1065l26 2M107 962l23 6M188 957l11 6M167 900l21 17M202 954l24 12M165 1072l23 6M315 1156l10 -26M321 1143l10 -25M146 1006l13 6M251 1046l27 5M121 920l15 10M228 909l13 4M243 1047l17 6M363 1127l-3 -21M138 1060l20 1M194 1095l23 9M216 1168l18 -8M110 1038l13 -0M190 937l10 7M280 1041l26 -2M185 1172l20 -1M167 908l27 12M252 977l27 9M216 1178l13 -6M279 1127l12 -8M213 972l14 5M317 944l21 2M217 1065l24 14M145 935l18 12M224 983l25 11M201 969l23 11M203 928l19 8M84 1074l14 -2M145 913l11 8M87 1049l21 -5M273 936l14 2M315 942l25 -9M138 934l20 11M148 971l25 11M78 1075l22 -8M103 928l14 9M141 1055l25 11M129 1066l18 -2M244 1134l19 -6M139 1113l20 5M146 919l22 8M268 947l19 1M149 905l19 13M222 978l19 7M250 1043l20 4M243 1084l21 1M111 1154l22 0M301 929l20 -3M83 913l14 17M131 994l14 3M287 926l27 -4M125 1174l21 4M207 974l16 12M92 975l29 7M327 1125l5 -12M131 1096l14 1M214 1006l20 8M256 943l26 7M151 1135l22 -1M97 1143l24 6M268 1052l21 -2M339 1181l-2 -17M353 1124l-0 -19M96 1163l22 8M331 997l10 -6M328 1010l17 -11M280 947l26 0M228 1138l23 -12M322 1128l8 -15M344 1008l15 -11M344 986l18 -12M195 913l25 14M148 1016l24 8M345 958l14 -3M180 1161l17 -2M193 1098l17 3M105 932l14 5M145 969l15 5M264 1021l23 2M185 1078l13 4M151 958l12 7M351 1142l-2 -12M202 1019l14 5M320 987l22 -4M170 919l16 13M299 968l23 -0M210 1168l17 -8M240 997l16 6M235 957l12 3M122 1084l23 0M217 1142l13 -2M238 959l22 11M160 1092l19 1" stroke="#4a4a4a" stroke-width="1.9" stroke-linecap="round" fill="none" opacity="0.55"/><path d="M97 1044l13 -1M111 964l22 2M317 986l17 -4M258 1005l13 3M162 1063l26 4M219 1150l28 -8M117 1036l25 5M267 1072l26 -8M92 1102l25 -9M88 1032l13 -2M185 1144l22 1M150 1016l29 5M146 1037l12 1M353 1107l-2 -24M329 1131l2 -14M140 946l11 5M87 1145l16 1M323 1185l0 -14M307 946l21 4M226 1178l16 -6M222 1121l26 -3M309 1116l11 -15M146 1092l28 7M138 961l21 10M255 1129l27 -8M122 1123l29 -1M275 949l28 3M360 1093l-1 -14M223 1170l22 -16M147 1065l14 2M241 1161l16 -14M204 949l12 9M171 1046l14 2M289 1051l25 -14M219 1096l21 -0M339 984l21 -17M96 965l24 9M263 940l15 6M364 1144l-4 -21M282 910l12 -2M99 1174l13 5M150 935l26 8M234 1097l24 1M257 1127l13 -2M231 1165l19 -9M89 956l25 6M173 902l22 13M336 934l21 -2M272 1186l13 -21M96 934l13 10M325 1097l8 -15M153 1169l16 3M81 1011l15 -5M104 1014l17 0M288 1091l16 -10M275 1084l28 -4M113 1052l26 -6M270 1098l14 -4M232 1077l21 1M215 1048l24 8M280 960l21 1M294 1078l13 -7M233 904l23 6M218 1028l26 9M83 1031l20 -2M132 1062l29 6M330 1108l8 -19M205 982l15 9M306 935l28 2M365 1075l0 -17M156 1163l21 0M333 1143l1 -29M282 1029l17 -1M205 993l27 12M235 1009l14 6M340 1187l-1 -15M141 973l25 4M180 989l25 16M318 965l19 -4M316 908l28 4M182 1161l29 -1M221 1089l23 7M87 1120l24 0M254 1098l21 -3M240 905l29 2M145 967l15 10M197 972l15 5M267 956l21 4M306 968l17 -2M142 1018l15 1M117 908l20 20M335 1000l23 -11M184 991l15 8M343 967l24 -13M177 1159l28 -2M286 914l29 1M175 974l14 10M74 1112l29 2M356 1177l-5 -19M302 1116l16 -16M296 925l16 1M170 1174l17 3M273 1027l23 0M261 935l22 4M147 966l19 12M215 961l26 14M318 1163l5 -13M339 1011l14 -9M246 1074l14 2M257 956l23 7M300 1059l17 -8M124 1097l18 -1M180 1013l14 12M80 1153l19 0M86 1059l12 -6M121 982l14 -1M135 931l14 15M332 1087l12 -23M307 955l21 -2M279 1160l19 -17M244 1055l19 2M203 1019l17 12M208 950l13 5M217 912l24 6M215 1001l24 13M127 1178l28 -5M92 1001l28 -0M217 1161l20 -6M125 1163l15 1M254 999l21 8M248 1009l29 8M198 947l24 12M244 1087l13 0M218 1154l23 -5M106 1001l23 2M118 1162l14 2M190 970l18 14M347 1113l1 -13M90 1117l29 4M220 1079l17 4M294 1108l22 -13M143 928l15 10M272 977l26 -1M348 966l16 -6M286 993l16 1M266 1185l12 -21M240 986l12 5M111 1160l12 2M272 1110l18 -5M99 1141l13 5M320 1140l5 -23M292 960l12 -0M179 985l22 16M198 1118l22 -1M302 951l26 -0M215 1124l18 0M160 960l13 6M273 1127l16 -11M320 911l28 -1M140 1031l26 0M123 1137l15 -0M115 1031l15 1M121 942l19 10M357 1112l2 -14M284 1024l14 -0M187 1122l23 0M189 1106l22 5M278 1157l19 -20M162 1073l25 8M194 1025l23 8M298 1014l11 -6M342 1056l13 -17M312 1054l11 -12M113 1174l17 4M196 1096l16 2M141 1125l14 0M209 1056l17 7M205 980l25 11M186 971l11 5M160 1034l24 4M96 1131l14 3M84 1165l13 4M178 941l12 9M267 1156l13 -9M201 1150l16 -4M207 940l21 6M208 1057l18 4M252 1078l24 3M218 1033l23 10M181 1033l15 3M307 986l21 -3M261 1127l16 -8M92 1104l13 0M339 1086l8 -27M269 1071l23 -5M129 906l18 16M235 972l17 6M90 1062l26 -3M78 1016l28 -11M261 961l12 3M100 1143l25 3M89 1119l25 -2M203 1165l24 -7M307 926l15 -2M182 1062l14 2M248 1018l29 2M96 1171l17 4M245 988l19 2M302 982l20 -1M88 1133l22 3M270 1164l15 -16M337 973l18 -10M294 1032l26 -3M329 1054l9 -13M181 1058l14 3M106 1079l23 -1M87 1173l20 10M349 1124l2 -16M102 913l18 9M246 1009l14 8M259 1011l29 3M147 994l23 14M258 1185l19 -17M243 1114l17 -1M143 937l22 12M142 1160l14 4M313 1088l16 -22M143 915l12 8M124 976l14 5M109 1169l21 11M145 956l29 6M321 921l29 -3M122 898l10 12M235 937l23 9M245 1038l23 5M134 914l20 14M317 1157l8 -27M130 1134l19 0M200 1039l23 14M180 1107l27 10M229 907l15 5M91 927l10 6M276 931l13 3M155 932l20 10M285 947l19 3M189 1165l16 -2M308 1162l6 -11M146 1018l21 4M82 933l23 17M321 914l24 -3M246 971l29 4M113 1067l17 1M114 936l15 8M316 1079l9 -13M250 1032l16 3M80 1002l22 -1M156 1116l27 4M195 1104l29 5M172 1090l27 1M284 1038l28 -5M292 1073l17 -15M244 1006l25 4M185 987l18 11M114 1064l29 -2M348 963l10 -7M346 1128l-7 -20M175 1067l24 3M184 1057l29 4M360 1005l8 -13M218 928l24 12M123 983l15 2M176 1181l19 -3M77 987l24 2M151 1085l22 -5M288 932l21 1M97 898l16 19M105 1153l20 1M243 1175l12 -11M164 1152l23 1M147 1009l17 5M142 945l27 12M229 1008l13 5M129 978l23 7M104 976l20 4M178 1104l16 -1M200 934l26 11M246 959l20 7M185 1084l19 3M168 1084l18 6M167 961l14 10M331 1148l3 -12M189 1083l27 6M113 1155l13 2M161 1003l21 11M277 975l18 -1M162 911l10 8M134 1156l24 2M154 919l22 18M253 1025l18 7M291 916l17 -1M230 968l17 9M274 1093l20 -7M162 1147l18 2M122 1089l26 -2M181 956l13 8M171 1031l13 4M104 1101l14 1M227 902l22 8M146 933l20 18M318 1173l9 -26M308 995l18 -6M231 1074l28 6M119 984l24 4M103 907l20 15M296 1024l20 -6M265 1136l15 -8M129 919l25 15M352 1087l5 -24M348 1045l9 -16M267 1025l18 4M232 1007l25 12M149 925l19 9M109 1047l19 -2M225 1101l30 1M186 943l21 15M146 1003l14 7M326 1087l17 -23M175 1115l14 0M277 916l22 -1M262 971l26 6M110 1124l17 2M321 1064l18 -23M219 1147l15 -3M207 941l25 13M140 1151l15 1M188 996l15 11M92 941l16 6M224 1173l20 -9M250 1081l26 -3M160 1114l23 2M94 998l20 -3M177 934l15 14M124 915l21 14M338 1075l11 -19M192 1144l28 1M124 975l19 5M256 956l22 4M171 934l24 15M166 1110l24 1M89 1080l22 -6M339 1070l11 -20M119 937l23 13M229 1085l25 1M293 989l20 -1M114 898l21 15M291 928l13 1M338 1012l21 -15M292 969l23 2M171 1153l13 2M91 1065l27 -11M148 1020l25 7M134 1058l27 7M159 994l15 2M240 1151l17 -6M327 1186l1 -14M117 1106l24 2M281 1153l12 -11M222 965l11 5M114 1038l15 1M213 931l27 8M330 1114l5 -16M189 1053l23 8M272 1182l14 -13M181 1004l28 12M151 1072l15 2M328 918l23 -2M77 1110l23 -0M283 1009l21 -2M254 1053l17 2M219 1030l26 11M303 970l20 -0M315 918l26 -6M106 1001l20 2M268 1030l25 -5M223 966l18 6M95 950l17 6M252 1147l23 -12M202 1001l17 8M181 1058l27 11M170 918l18 11M82 1072l25 -9M198 1037l24 5M269 1057l14 -0M111 924l11 7M88 1099l29 -8M174 1042l13 11M322 1062l8 -10M315 977l21 -5M236 1000l27 10M227 1014l16 5M304 1075l13 -15M254 915l23 3M302 1046l15 -8M330 964l25 -6M153 1154l13 0M159 964l21 8M311 945l19 0M138 1051l24 6M304 933l28 8M286 1043l20 -3M100 936l25 11M245 1180l17 -17M148 1107l17 3M235 1123l12 -3M112 1065l24 -3M172 1136l15 2M219 1049l13 7M135 1014l16 3M81 1164l22 2M120 973l20 8M236 966l24 4M347 917l26 -5M333 906l19 2M268 945l15 2M369 1135l-10 -24M136 1075l13 3M355 1103l1 -27M314 1138l9 -25M348 1064l13 -26M142 955l20 7M182 1119l29 4M257 1143l22 -15M83 928l19 12M179 1138l14 -1M265 1129l12 -4M344 1011l18 -14M346 1055l14 -23M128 1166l16 -1M318 1057l18 -22M200 1173l22 -9M336 1047l6 -11M199 1108l25 6M353 1162l-1 -22M255 978l21 5M304 1101l14 -21M240 1134l14 -3M284 950l17 1M131 986l17 6M190 1006l13 8M252 1124l24 -9M286 982l21 -4M292 914l18 1M97 1057l19 -3M258 1181l17 -20M176 1009l14 7M268 1157l11 -8M265 1065l17 -3M116 1089l28 0M257 1152l22 -11M247 1135l15 -5M297 1006l26 -6M116 976l21 8M110 964l18 4M139 1135l12 2M194 918l22 6M136 1140l28 8M208 938l24 6M190 976l18 11M128 975l29 5M282 1105l11 -5M147 996l27 12M179 1153l14 -0M208 1180l20 -4M238 1042l12 4M352 1036l14 -22M134 1064l27 3M326 1059l17 -16M139 968l12 6M205 1064l20 4M211 1011l15 6M119 1154l16 2M303 1137l6 -11M92 911l12 11M331 981l24 -9M133 1126l14 2M78 1141l21 -2M101 913l16 11M313 1139l9 -22M355 1067l7 -24M179 982l20 11M99 930l19 10M257 1166l22 -18M271 1145l10 -11M151 985l13 4M343 1127l6 -25M85 964l17 7M300 1053l17 -5M346 953l20 -9M273 1178l12 -13M279 1187l14 -20M150 970l13 9M243 1086l17 -2M176 935l24 17M127 925l21 12M335 1006l23 -15M260 977l27 7M257 950l29 6M145 916l9 11M115 1121l21 1M160 1006l14 6M254 1032l24 5M203 934l13 3M143 1023l18 5M94 962l27 7M343 1061l13 -24M337 1039l13 -15M182 932l12 9M87 1035l16 -4M115 1123l27 6M143 1068l16 3M131 1113l19 -4M142 1037l21 -2M311 959l16 0M176 1086l14 5M152 1029l14 1M116 937l26 9M238 1028l24 2M343 1020l12 -7M360 1157l-9 -26M107 969l26 5M97 1151l24 2M222 1088l22 7M79 1039l22 -7M143 1020l18 6M284 1004l14 -2M91 939l13 5M176 1097l21 2M179 1172l23 -3M129 1115l27 1M240 953l23 11M127 1095l17 2M111 1160l17 5M214 971l13 7M150 1122l21 2M90 942l23 9M101 1066l26 -1M260 1060l22 1M153 1020l12 1M258 1098l15 -5M120 962l23 9M169 1101l13 4M347 1153l-2 -14M280 1051l13 -2M261 963l25 3M346 1172l-3 -20M362 1167l-4 -23M295 1025l14 -1M293 941l15 1M129 1116l14 -1M150 1105l20 6M209 1101l15 2M168 965l27 13M126 1110l20 0M77 1119l28 -8M152 1002l18 5M194 1076l15 7M280 1119l20 -13M225 991l24 12M348 1116l-0 -13M174 1119l16 2M173 907l11 7M208 1010l15 9M335 1118l4 -22M220 1036l24 4M352 1102l3 -12M194 926l26 5M300 962l19 4M136 985l15 3M115 1164l25 9M295 1151l7 -14M340 1179l-6 -21M196 1067l19 6M81 999l16 -2M244 1160l22 -11M149 1134l29 3M299 1098l19 -14M146 953l20 11M104 955l15 4M212 1170l21 -9M277 1180l10 -17M116 1142l27 2M335 1022l16 -15M117 1002l22 6M227 1009l26 11M212 1039l18 4M208 991l25 9M179 1158l18 -3M87 954l13 7M281 1106l21 -7M200 953l17 8M247 1178l12 -8M108 943l21 11M195 1005l26 13M131 943l12 5M196 1124l28 -2M349 1149l0 -15M83 1125l12 0M232 1110l28 -9M182 970l21 16M169 1113l15 2M336 926l15 1M238 1017l24 9M319 1033l21 -14M279 963l19 0M197 1058l18 8M208 932l22 9M285 940l16 -1M102 1138l20 2M170 1163l27 -1M170 941l21 15M332 1082l14 -18M103 1154l25 6M356 1170l-2 -22M208 1036l20 8M326 1006l14 -2M233 987l13 7M352 1105l-2 -23M180 1069l16 3M228 956l26 8M363 1098l-1 -13M234 907l23 -1M129 1132l16 5M347 1026l17 -21M149 939l27 11M260 947l18 3M124 943l14 4M193 1050l18 8M307 971l19 -1M262 1144l22 -18M101 993l19 4M143 940l25 13M94 933l12 8M171 927l19 10M263 928l16 2M272 1189l14 -20M195 938l25 17M211 953l25 9M208 938l23 8M91 1102l18 -2M176 1096l17 1M106 1104l15 1M184 1087l18 5M336 1136l7 -29M133 1047l19 0M153 1041l24 3M295 1103l13 -10M158 1012l20 6M175 984l24 8M261 1093l16 -5M351 1062l7 -26M304 1115l10 -14M322 1153l3 -17M152 1158l27 2M292 1007l20 1M84 1013l18 -3M250 951l21 9M332 972l16 -8M246 1042l17 5M112 1175l16 4M303 1137l11 -17M140 1075l22 4M153 1114l13 -3M104 923l18 10M351 954l17 -8M179 994l16 6M111 1087l18 -3M344 1012l17 -17M143 1124l19 -3M354 1103l-0 -21M269 974l23 2M233 939l14 2M249 1123l19 -7M179 1021l19 14M348 1186l-3 -27M80 1151l24 -1M331 1000l12 -5M118 982l28 5M296 980l25 2M229 1070l24 6M129 1167l27 2M141 958l18 11M289 1154l11 -15M224 941l19 10M174 1127l23 3M141 1021l15 7M248 935l27 6M202 1088l13 4M141 1143l15 0M231 1024l12 2M289 1067l23 -12M240 1083l13 -0M227 1104l27 4M150 923l15 8M279 935l18 1M354 963l19 -4M98 1165l20 2M126 1013l23 6M147 1056l18 4M254 1078l14 1M138 1082l12 -0M169 933l24 12M114 1105l12 3M187 1039l20 7M199 960l20 13M154 925l22 17M151 940l27 11M195 911l17 3M338 935l12 -2M86 943l13 5M303 1024l25 -9M346 1022l8 -11M278 980l20 -0M154 1078l20 7M213 1103l28 -0M366 1176l-7 -22M305 1061l14 -5M209 1099l13 4M91 952l18 8M260 1014l15 1M357 1044l12 -22M323 980l17 -5M315 1098l14 -17M122 1102l18 1M191 905l12 4M348 969l13 -5M143 976l26 14M83 1101l22 -1M151 1010l21 8M344 1143l-2 -29M276 1173l16 -24M285 990l26 2M110 936l27 11M256 950l13 4M190 1173l24 -10M216 1010l17 6M173 901l16 11M313 1072l14 -13M231 1006l13 4M107 1067l25 4M156 1157l16 2M286 1082l25 -15M350 914l25 -4M257 1051l12 0M299 913l16 -3M220 1069l29 5M224 1008l14 5M86 980l15 -3M338 922l14 -2M108 1126l27 -1M299 965l27 4M251 1139l26 -9M271 1144l12 -11M328 973l13 -5M102 979l26 5M325 948l14 0M267 1150l9 -8M281 1126l10 -10M279 963l28 0M346 1177l-6 -27M212 1115l30 2M323 1013l23 -10M217 979l27 9M341 943l28 -2M321 1138l3 -16M127 1124l30 2M239 1152l18 -5M241 1023l17 8M243 1053l18 2M235 957l17 7M298 1028l12 -5M187 1158l13 -1M88 1038l23 0M128 948l22 12M254 1010l29 4M109 995l12 1M278 986l17 2M232 1131l30 -4M232 1008l14 6M214 910l19 7M290 1087l18 -15M283 958l14 0M128 1105l14 3M150 1147l25 3M352 1177l-1 -18M80 1134l28 2M180 931l19 11M294 1114l17 -20M111 1148l29 2M144 1049l20 5M199 1177l12 -3M223 947l22 9M290 1035l19 -2M329 962l12 -7M242 928l25 7M193 1108l18 7M165 1052l12 5M360 1178l-5 -24M339 1032l10 -14M93 936l13 10M243 940l12 0M111 1166l12 4M114 1045l28 1M205 1083l21 0M83 995l19 -1M328 1105l7 -16M240 1120l27 -4M136 927l20 12M341 1093l5 -20M197 1017l18 6M348 928l19 1M148 901l11 13M334 1147l3 -24M146 1123l14 3M210 940l11 8M335 1173l0 -23M279 936l22 1M124 1104l29 -3M195 1075l12 3M165 1072l16 6M123 976l15 1M170 1009l19 8M195 1161l21 -4M115 1149l20 0M169 1090l24 5M138 1132l16 -0M301 1132l13 -20M150 1047l19 6M171 908l22 16M322 990l25 -8M161 975l10 8M197 1164l23 -5M320 935l21 -1M330 1036l11 -6M292 940l24 -2M194 944l13 6M182 1053l26 6M325 1171l4 -26M104 1145l22 1M303 1159l11 -23M121 1135l18 -3M320 1008l24 -13M157 1148l13 1M305 1056l15 -12M104 937l24 10M80 967l21 4M337 1119l2 -17M163 1107l18 -1M238 1129l11 -6M310 947l26 -6M93 932l14 11M340 1144l-1 -18M353 1112l0 -14M363 1142l-3 -16M223 983l21 8M279 1035l13 -2M323 1157l7 -20M352 935l18 -1M174 1156l15 -1M91 1057l28 -6M223 1175l26 -13M240 1164l16 -5M342 978l14 -8M336 924l14 -2M205 1121l21 6M280 1093l21 -8M81 1056l27 -8M240 1018l23 9M324 1160l5 -25M200 968l15 3M141 1022l17 5M275 992l14 2M110 1111l14 -1M211 1093l15 1M362 1069l4 -23M357 1020l16 -17M348 923l25 -3M84 919l9 9M314 1022l22 -8M78 972l21 0M301 934l21 -1M343 1165l-1 -15M252 987l21 5M101 1172l11 6M309 1127l7 -10M223 964l16 8M297 1137l10 -24M281 967l30 -1M360 1053l8 -25M274 1159l16 -19M104 927l11 7M137 1102l16 2M121 1144l15 -1M160 1053l22 0M184 899l11 9M118 903l12 11M151 968l17 7M278 1041l28 -2M328 939l14 -4M256 1075l12 -0M101 1116l16 1M182 1165l24 -3M297 954l24 0M288 962l16 -1M328 1095l12 -20M237 1067l15 6M342 1024l17 -21M274 1080l26 -0M141 1119l21 2M365 1192l-6 -23M179 907l16 6M125 1026l22 0M235 1177l15 -10M81 936l17 9M237 1179l21 -17M227 1061l17 8M183 975l14 9M133 1122l26 5M322 1008l25 -12M215 912l20 9M206 929l23 9M349 1075l7 -13M237 1028l24 6M349 1168l-1 -19M326 948l25 -13M216 1122l30 -1M282 1021l28 -1M96 1010l25 2M102 1067l26 -5M88 977l29 -2M292 1035l14 -1M248 1148l27 -13M107 1121l23 3M290 1050l23 -6M300 1062l18 -14M178 1023l23 3M210 1099l17 5M252 981l21 6M174 965l24 17M85 1140l20 1M300 1097l12 -11M239 1166l15 -14M342 1044l10 -12M344 1127l3 -24M91 1029l13 -1M122 1096l23 6M300 999l25 -2M349 1085l6 -22M203 913l27 7M227 1169l22 -12M330 1050l15 -20M274 965l23 4M151 1116l21 2M273 1080l20 -9M161 1141l25 -2M80 997l27 9M153 1127l25 -0M292 1143l12 -14M215 1051l17 7M146 960l27 11M220 929l20 6M151 1158l27 6M182 1017l26 9M298 1087l11 -8M347 961l21 -8M358 1145l-3 -25M253 1089l18 -1M357 920l13 0M318 1058l14 -14M209 936l23 12M119 1146l14 4M200 1016l16 6M229 996l22 9M197 987l22 9M205 1055l19 6M125 949l26 10M114 1094l26 -2M256 1022l28 7M297 1152l10 -19M265 1041l27 8M113 1170l22 8M230 974l19 12M154 1132l22 2M224 1131l17 -2M91 922l12 8M229 1015l26 9M128 1160l22 4M285 948l12 0M363 1101l-2 -29M313 1038l12 -6M121 1096l29 -3" stroke="#7c7c7c" stroke-width="1.4" stroke-linecap="round" fill="none" opacity="0.6"/>
</g><g filter="url(#soft2)">
<ellipse cx="230" cy="1035" rx="4.5" ry="4.1" fill="#8a8a8a" stroke="#cdcdcd" stroke-width="2" opacity="1"/>
<ellipse cx="292" cy="1112" rx="4.4" ry="3.8" fill="#8a8a8a" stroke="#cdcdcd" stroke-width="2" opacity="0.5"/>
</g></g>
<path d="M90.7 1178.5V906.4H363" fill="none" stroke="#a9a9a9" stroke-width="2"/>
<rect x="88.7" y="904.4" width="275.3" height="275.1" fill="none" stroke="#000" stroke-width="2.1"/>
<text x="94.03" y="1174.3" font-size="22.48" font-weight="bold" fill="#f6f6f6" textLength="175.82" lengthAdjust="spacingAndGlyphs" >x4 magnification</text>
<rect x="419.3" y="903.4" width="276.9" height="276.4" fill="#606060"/>
<g clip-path="url(#clip1)"><g filter="url(#soft)"><path d="M629 1087l21 -5M641 921l24 14M572 1049l25 15M446 1081l9 27M556 1152l25 -11M475 986l-7 20M543 958l-15 14M675 987l21 -7M649 1046l13 0M549 959l-13 19M495 1104l21 10M637 914l14 14M622 973l18 14M644 944l16 8M678 958l13 1M524 918l-12 17M453 1153l27 7M472 1064l3 18M553 1074l14 9M497 1109l12 4M545 1110l13 1M474 1150l19 1M671 1080l14 -3M591 910l2 27M432 1130l13 10M685 1173l20 -10M487 965l-17 21M600 896l7 19M637 905l21 16M534 1170l21 -7M635 965l26 14M431 1124l19 18M617 1057l14 5M450 1146l13 7M587 996l6 29M589 1152l23 -9M447 1056l5 26M585 1003l6 19M476 922l-12 25M682 1180l17 -5M544 1089l13 7M635 1149l11 -6M443 902l-2 29M597 932l3 24M582 1093l23 3M545 1113l22 -1M653 1105l15 -5M601 1153l18 -11M518 1031l-1 17M462 1063l3 29M634 1016l18 4M470 1000l-3 12M597 1010l7 15M654 983l16 3M437 972l-6 19M614 1133l24 -10M479 940l-16 24M518 1126l14 1M441 1094l10 18M611 934l7 24M608 952l1 13M518 1035l3 23M430 1045l-3 19M651 1029l27 1M454 1170l23 -2M653 1090l25 -6M587 950l-5 13M618 1082l28 -2M444 1008l-8 23M659 1168l16 -9M665 1061l28 -7M451 1122l10 10M603 1010l8 11M442 1041l-3 29M607 1069l16 4M528 1181l16 -10M610 949l13 19M422 1140l7 12M538 1142l12 -5M554 1064l20 14M677 1094l18 -9M459 1149l18 6M547 960l-8 21M531 1039l9 28M577 945l-4 26M574 930l-5 20M546 910l-12 20M607 1063l21 2M681 1001l26 -8M455 960l-5 11M561 921l-10 24M546 1184l10 -10M495 979l-19 19M434 1029l-0 16M505 909l-12 26M496 946l-13 20M600 1170l9 -9M597 1177l16 -16M660 920l29 2M585 958l-0 13M481 1143l23 5M505 1114l27 8M622 986l24 18M664 1027l16 -6M582 1102l25 0M568 1041l9 13M438 1074l1 21M659 936l27 -2M521 1037l13 23M578 1108l19 -1M644 974l15 8M618 1012l7 10M551 905l-10 13M566 1090l20 8M621 1167l16 -9M542 1019l1 21M486 1163l16 -5M460 960l-9 12M425 926l2 17M679 1023l23 -6M453 1151l24 4M634 989l10 6M637 1177l15 -12M612 1181l17 -12M615 1099l27 -1M565 996l-0 12M624 1091l24 -3M565 1129l19 -8M623 1003l23 8M518 1012l-2 23M569 1188l17 -18M655 1105l15 -5M677 1082l27 -12M567 1108l17 -1M690 984l11 -6M519 1183l14 -13M519 1005l-10 25M489 1111l27 8M591 1017l12 20M571 985l-4 16M420 1129l15 16M679 1079l16 -10M527 1050l13 24M454 968l-11 19M513 1083l10 11M601 908l7 28M503 1148l28 -4M556 1000l1 27M538 1007l2 16M572 1117l14 0M487 979l-7 16M477 1016l-3 29M562 908l-15 19M486 1063l6 11M566 1118l14 -1M683 1149l16 -8M637 967l18 12M454 1134l19 11M517 938l-11 21M545 1026l1 12M537 941l-13 16M675 928l24 -3M659 1158l23 -14M429 953l-2 14M546 926l-14 12M428 1147l8 11M678 1062l28 -8M422 1081l8 25M639 1015l29 6M650 1153l17 -7M631 1080l26 -7M593 974l8 28M656 1108l21 -9M476 1077l8 12M618 1020l17 14M433 924l-3 24M684 1093l24 -17M444 994l-3 25M444 1097l6 15M583 1049l20 12M506 1148l13 -3M644 1028l17 2M478 986l-8 11M691 1064l10 -8M427 1173l16 11M612 1122l24 -5M586 1183l9 -9M583 978l3 25M561 1107l29 6M496 1172l20 -9M573 1129l18 -6M506 907l-12 19M444 989l-3 12M593 1149l25 -9M503 986l-14 16M534 999l-3 19M418 1160l14 7M586 912l-1 12M527 1096l16 6M564 911l-9 16M464 1142l12 6M585 1152l15 -9M531 981l-8 23M657 1033l26 -2M479 968l-16 19M483 1095l15 15M653 1129l21 -5M650 940l20 9M598 1074l13 4M549 1156l13 -5M655 1121l20 -6M594 903l4 23M568 988l-4 22M512 1023l-0 19M485 1157l18 -3M601 1134l22 -5M493 1111l21 6M601 1000l22 19M655 1138l21 -9M585 990l5 22M549 1019l1 13M546 1055l10 13M451 976l-6 14M633 901l13 18M567 990l1 21M423 1003l-2 26M422 1091l4 14M620 1149l13 -8M673 1029l18 -9M463 927l-8 21M609 934l1 13M633 1089l26 -8M588 1037l13 15M658 1179l19 -6M481 1173l16 -3M534 1025l-2 16M531 1106l21 5M441 1000l-6 25M452 1015l-4 16M536 1179l15 -10M637 1056l25 3M516 897l-14 22M612 902l12 25M529 1116l20 1M549 1057l15 13M570 1165l13 -10M624 903l19 19M473 916l-9 14M582 932l1 23M561 1165l19 -14M622 1093l16 -3M521 950l-12 12M586 1004l5 24M528 973l-15 24M634 1134l27 -9M515 1095l13 10M631 1115l20 -3M576 997l-1 17M466 960l-8 13M640 1017l19 5M644 1162l12 -8M563 1049l9 13M544 932l-16 15M476 1095l23 16M501 1060l6 21M571 1070l25 13M572 1134l22 -3M652 1049l29 -5M490 900l-13 22M623 955l21 20M669 959l13 -1M491 1086l14 17M604 1094l18 2M420 903l-0 27M498 1169l13 -3M658 1004l28 -8M517 1117l22 -1M648 972l27 7M636 1176l25 -16M638 1092l17 -3M516 953l-19 20M576 901l-5 20M631 1166l28 -10M486 1018l-8 20M448 1036l-4 23M573 985l5 23M520 962l-7 12M525 1178l19 -11M562 993l-1 15M581 923l-7 25M454 1047l-3 17M459 960l-13 25M683 993l13 -3M455 966l-16 23M591 909l-1 21M613 1090l20 2M572 1084l19 8M549 1184l15 -22M545 966l-12 17M492 904l-7 19M436 1029l-3 28M626 1008l11 8M530 903l-6 14M559 898l-13 26M606 1146l25 -11M488 911l-17 22M593 954l1 28M503 1172l28 -10M527 1163l24 -11M479 920l-12 26M539 1040l4 14M473 1141l25 8M635 959l15 14M539 1051l7 20M622 1139l20 -14M628 1108l14 -2M483 1125l23 5M617 1070l29 7M491 1122l26 5M589 1172l20 -15M535 910l-13 17M582 960l4 24M589 986l6 23M480 1025l-2 16M473 1087l9 15M520 1178l22 -12M597 922l-0 21M534 1003l-5 12M662 1006l21 -3M538 1052l5 13M561 1030l7 23M606 1001l12 15M571 1025l8 12M499 923l-15 22M437 1135l13 16M526 1023l1 18M520 1046l8 26M499 1133l24 0M626 1143l25 -16M557 1019l2 13M569 900l-6 16M633 1004l21 12M427 1133l8 13M599 972l5 21M664 960l22 3M644 1177l19 -8M433 1101l4 17M545 898l-4 13M663 959l29 3M615 1126l24 -9M625 922l12 19M576 1051l23 16M666 966l17 3M457 1096l8 14M450 1154l26 5M542 931l-15 23M491 1034l-1 29M422 1074l-1 14M509 1155l24 -6M658 1044l21 3M562 1158l11 -9M636 970l17 9M539 961l-10 16M464 1005l-1 30M592 908l-2 27M563 925l-9 16M454 1071l3 13M446 1147l13 7M639 1094l13 -2M592 1107l18 -1M617 1081l29 -2M603 1061l27 7M561 971l-9 17M605 1160l19 -13M421 1089l10 25M460 952l-8 13M542 930l-15 24M685 1145l17 -9M550 1100l23 2M645 981l19 4M662 984l24 4M573 946l-1 21M641 948l23 12M490 1109l11 7M418 1156l18 15M463 1146l23 7M435 939l-5 25M592 1066l12 9M482 1174l17 -4M512 900l-16 23M420 1165l16 19M473 1120l11 6M530 1119l28 0M667 996l23 -0M643 937l12 10M484 1035l1 12M536 1087l12 11M634 1094l27 -5M467 962l-5 13M480 1149l27 4M478 900l-5 11M648 1006l18 2M611 1157l11 -6M499 929l-14 14M503 1165l24 -10M583 1049l16 14M436 1169l20 8M538 1003l-4 25M543 951l-12 17M510 924l-14 22M640 1125l21 -9M495 1003l-11 22M456 988l-5 13M481 1112l13 8M614 960l7 13M448 1094l10 21M564 1022l5 16M586 970l-2 16M453 1136l18 8M610 1040l19 16M652 1140l25 -13M471 978l-9 17M438 1023l-7 27M435 1049l1 27M453 1045l2 22M540 987l-12 24M437 999l-7 19M561 1176l18 -17M510 941l-18 16M462 1088l16 24M542 959l-14 19M446 893l-3 24M531 1013l-0 18M448 1066l0 16M547 957l-7 11M653 1035l27 -2M576 1166l19 -8M483 911l-3 12M681 982l14 -7M635 1132l25 -12M651 955l20 6M600 1096l20 -4M593 1052l26 7M423 926l-3 14M586 1015l7 15M573 958l-2 17M450 947l-7 18M464 971l-10 20M587 984l-2 17M430 900l6 25M601 1163l15 -14M630 1173l12 -11M509 977l-17 23M423 912l-2 18M526 992l-6 11M535 1135l14 -3M681 918l25 -0M444 945l-11 21M564 1139l12 -3M677 1089l21 -12M644 998l16 0M478 1029l-5 29M671 1036l21 -6M660 1076l26 -10M523 1007l-6 23M496 897l-7 15M478 957l-13 27M536 1008l-2 28M458 1031l-3 12M553 981l-4 12M561 1098l12 4M599 953l9 25M515 1041l7 25M482 1015l-4 13M484 1055l8 23M464 1073l3 29M585 1070l26 9M460 1071l6 16M620 1081l12 3M574 924l-9 27M432 949l-6 20M606 983l6 14M507 1105l13 9M553 950l-12 23M468 1081l4 14M439 1039l-4 13M566 1033l16 23M523 1046l4 15M430 1038l-3 18M594 914l1 13M610 1006l16 15M630 1185l24 -17M517 928l-17 15M443 1141l24 15M586 1065l27 9M606 983l7 12M519 948l-14 18M452 1029l-3 21M485 1131l12 4M680 932l28 -6M623 1039l17 4M569 917l-5 17M464 1160l28 1M609 907l5 14M635 900l18 13M590 1073l14 4M522 900l-7 14M605 1135l15 -5M567 957l-4 16M542 1056l14 18M430 983l-6 20M662 933l22 5M581 911l-8 22M580 1039l20 16M574 1064l15 12M494 1064l12 25M534 898l-8 16M509 1122l14 2M689 938l13 -2M507 999l-12 10M436 1169l27 7M544 895l-8 21M628 1101l29 0M510 980l-16 22M471 1104l11 11M463 977l-14 26M653 993l15 2M551 952l-9 15M615 900l16 25M676 907l27 1M646 980l14 5M528 944l-9 10M553 1079l17 7M681 1113l24 -12M611 1162l24 -11M657 1055l25 -6M572 1181l12 -9M647 947l26 11M458 964l-12 27M530 1051l16 25M604 1077l15 4M606 1178l18 -12M452 1002l-7 12M473 1037l-0 25M471 1018l-11 27M481 1138l14 2M456 1155l14 5M661 968l30 -4M561 955l-22 17M455 1128l23 10M623 1096l19 -1M611 1138l24 -7M451 1128l20 17M581 1165l18 -8M500 1093l17 15M592 1183l8 -10M598 897l6 22M613 918l6 11M569 1042l15 15M522 1127l29 0M636 1091l20 -4M600 1007l13 14M529 1107l20 7M616 994l20 16M670 1134l25 -10M552 1049l4 12M457 1177l15 -2M626 1103l12 -4M581 908l-7 27M611 1113l15 -3M494 913l-12 21M622 939l10 9M462 907l-1 19M457 1077l5 13M689 1058l13 -6M438 1044l-1 22M534 910l-20 22M458 1045l-0 29M483 960l-13 14M463 927l-4 11M476 1056l3 19M559 911l-7 14M511 917l-14 12M528 1137l20 -5M583 1091l20 3M681 1067l16 -9M644 961l22 10M548 1146l13 -6M542 1179l12 -14M611 1140l21 -12M596 948l3 16M432 940l-5 17M688 1138l14 -6M477 1076l16 23M642 1085l12 -2M541 1043l7 22M588 980l3 13M481 943l-13 13M491 1076l8 12M643 1091l16 -3M438 909l-2 15M460 1146l27 8M611 897l15 19M576 1072l11 5M622 1081l14 -3M515 984l-6 14M614 987l16 24M595 1017l17 17M436 939l-8 18M619 912l10 20M514 962l-9 12M623 1081l16 -3M627 1172l25 -14M461 929l-6 13M554 1139l12 -1M437 1165l21 9M474 903l-9 20M602 1105l22 -4M505 1012l-5 21M430 982l-9 25M447 1009l-10 19M672 1099l20 -14M486 1152l21 2M543 1086l18 7M470 948l-13 19M620 994l16 14M479 973l-12 18M632 1003l15 9M473 1040l-2 18M439 976l-8 18M551 952l-17 20M428 962l-3 16M500 1057l5 15M545 1098l20 4M584 901l-2 15M632 1183l21 -15M610 1134l16 -9M646 1118l23 -10M602 929l-0 15M433 1135l20 10M551 970l-14 24M651 1171l22 -13M447 934l-6 26M442 1080l2 16M540 1014l-0 23M465 1174l26 -6M636 1105l25 -6M556 1117l15 0M472 939l-9 13M432 962l-9 22M463 931l-10 18M434 993l-5 27M500 1079l15 20M464 1090l9 10M611 1175l19 -20M550 922l-9 11M568 1031l2 15M665 1168l13 -8M552 990l-8 24M615 978l18 20M518 1179l21 -13M455 986l-9 27M584 962l-1 28M575 1120l15 -7M463 1145l23 2M564 1085l18 6M607 1064l15 6M505 927l-14 20M656 1006l25 0M563 1071l14 10M602 897l4 28M579 1006l2 21M492 1118l18 8M666 1037l26 -6M621 1066l15 4M427 1022l-6 18M422 905l2 25M421 1085l0 25M564 1097l14 0M638 1116l12 -3M507 1040l2 17M513 1142l18 -1M580 955l-3 15M422 908l1 26M528 1097l12 7M633 1091l29 -8M585 1038l8 11M583 1096l25 0M470 1056l5 23M615 971l12 15M451 1008l-3 13M626 1181l10 -8M662 1011l24 -1M677 1029l18 -7M427 896l1 18M487 949l-9 16M486 973l-9 17M516 1171l18 -10M590 1183l13 -11M648 923l16 6M520 1020l-7 24M519 1147l17 -6M494 1007l-14 24M502 1169l12 -5M471 1167l27 -6M649 930l22 7M417 1116l14 22M657 927l17 1M618 1007l12 13M563 948l-10 15M547 1157l25 -10M615 1158l18 -8M546 920l-10 12M438 949l-3 12M557 921l-6 13M540 1015l1 17M517 1090l15 6M488 1026l-7 21M613 926l14 25M553 938l-13 15M586 974l1 16M582 906l-1 21M582 1174l11 -9M610 1015l11 10M623 1010l16 10M480 1166l17 -4M462 977l-4 12M507 984l-7 15M649 1078l27 -4M560 975l-4 21M574 918l-11 24M459 1080l1 16M498 920l-11 12M561 1088l21 8M662 1151l18 -8M499 1004l-6 29M521 1122l28 2M636 1111l12 -4M494 927l-9 11M494 980l-9 21M615 1117l11 -5M521 936l-14 20M589 1125l29 -6M558 1092l26 7M546 1131l17 -2M498 925l-14 24M427 1109l11 21M494 1107l22 11M492 978l-12 17M447 1120l8 10M560 1040l7 18M649 1163l10 -8M464 1027l-3 15M600 957l2 26M480 1106l21 17M626 1079l19 1M588 1143l15 -3M540 1030l7 26M457 1023l-5 14M580 1088l14 3M512 1100l15 9M566 1002l1 15M514 1175l22 -10M635 1149l10 -7M546 930l-15 23M622 994l15 15M609 936l3 14M579 1175l18 -12M645 919l11 8M583 945l-1 16M574 1050l18 18M523 1171l19 -12M621 906l19 23M620 916l11 21M572 921l-6 15M640 1166l13 -10M448 953l-9 26M553 1052l10 20M475 1121l19 5M420 900l7 21M608 950l6 29M505 906l-8 15M620 1180l11 -7M662 1035l27 -4M441 1068l4 19M467 955l-10 16M500 1119l21 10M548 927l-5 11M472 1056l4 12M596 1114l27 -1M571 1135l15 -7M478 923l-13 25M592 1131l14 -7M670 1024l15 -2M550 1071l10 11M586 970l-0 13M666 993l26 -3M537 1055l8 13M421 1129l8 14M481 1066l9 23M611 1113l25 -6M439 983l-6 13M618 1138l17 -8M606 909l7 22M453 1116l15 12M496 928l-18 24M429 1071l-2 24M458 937l-7 11M594 986l9 25M553 994l-3 13M552 1054l12 13M561 983l-8 20M556 1114l15 -1M481 992l-12 25M528 1093l25 8M636 1022l21 5M531 945l-14 22M526 994l-5 21M439 1163l18 3M475 918l-9 17M632 1115l15 -4M590 1007l4 11M524 930l-17 17M536 1143l17 -6M639 1183l13 -13M646 994l27 3M669 1166l21 -18M564 1172l14 -11M596 900l8 28M613 942l11 24M630 1018l18 5M667 1104l27 -8M476 1066l6 22M562 1027l7 17M596 1184l17 -15M552 955l-11 27M670 998l22 -4M426 1077l1 12M468 984l-8 22M598 991l11 20M522 1031l-2 23M550 1069l15 16M650 916l13 8M651 1133l16 -9M491 1128l25 4M610 1172l18 -9M544 1087l21 14M416 1137l17 20M445 929l-1 14M644 1129l27 -13M557 1110l25 4M569 1071l14 8M650 962l15 11M560 920l-15 24M536 1028l2 29M504 916l-18 22M663 1105l11 -5M592 895l1 20M465 971l-5 15M589 1021l7 11M602 1014l9 9M678 946l12 2M508 1072l11 14M599 895l2 20M534 931l-10 26M494 1031l1 23M446 1042l0 14M563 1182l21 -17M601 1081l27 5M639 1027l21 5M492 1050l3 13M659 1026l19 -2M558 1017l-2 26M543 926l-16 18M654 1029l22 0M409 1171l21 14M581 946l-1 24M506 1074l7 12M532 1148l13 -2M592 1039l19 11M461 1065l8 26M428 1102l4 14M476 1080l10 22M431 979l-3 19M485 1039l1 19M452 1101l4 14M628 1134l20 -10M662 1009l29 -2M604 1026l11 12M437 1008l-6 14M648 1168l10 -6M649 944l30 1M452 1019l-5 29M501 1028l-3 22M642 1155l20 -9M621 1162l21 -11M683 1121l23 -19M512 1041l8 22M668 1155l20 -20M450 1085l6 11M523 1127l18 0M647 906l13 9M516 1115l22 2M510 985l-14 24M669 1107l16 -6M508 1176l25 -15M659 1039l21 -5M422 1052l-2 17M454 957l-5 20M436 1118l9 18M539 1066l8 10M509 1035l3 20M590 933l-2 15M636 1057l30 1M515 1129l14 -2M536 1023l4 23M609 893l12 25M545 1168l18 -15M633 1126l18 -6M669 1057l25 -2M465 1004l-7 28M450 1024l-3 12M656 1165l16 -7M595 1079l16 7M468 1102l17 23M478 1072l10 21M651 1141l17 -12M569 1010l3 21M451 951l-6 20M642 953l26 9M522 1027l0 21M460 1052l4 25M496 1139l15 -0M615 1015l10 13M550 973l-4 21M540 975l-7 14M591 1159l23 -16M473 970l-15 18M476 894l-4 21M576 1106l14 -0M622 1001l24 15M545 986l-10 26M502 1144l30 2M610 982l12 20M540 1040l5 20M629 938l13 16M611 957l11 23M521 1179l24 -15M597 956l5 15M503 1058l7 25M597 1124l13 -4M681 963l14 -5M613 985l9 12M685 1142l20 -10M668 1004l27 -12M683 1129l14 -9M468 994l-9 16M587 979l3 28M533 1054l4 12M472 1078l12 18M441 963l-6 11M604 1133l21 -5M604 996l11 17M516 947l-17 18M681 1061l22 -13M499 912l-11 24M570 893l-5 24M624 986l19 17M470 1032l-2 18M626 1099l18 -2M673 995l24 -6M630 983l14 8M656 947l22 5M539 1180l9 -9M584 955l-3 21M678 1076l16 -8M504 1013l-2 14M653 1133l17 -5M645 902l19 10M605 917l4 20M669 996l28 -4M604 1069l16 5M626 1177l21 -19M669 963l12 -1M580 1036l19 23M479 1138l26 10M477 1086l13 24M645 982l27 8M520 999l-3 25M585 983l-3 25M524 982l-12 17M566 985l-1 15M666 1162l26 -12M590 1180l20 -20M650 1153l12 -18M638 1128l21 -11M635 905l23 13M561 1164l13 -8M628 938l22 15M638 1038l24 3" stroke="#4a4a4a" stroke-width="1.9" stroke-linecap="round" fill="none" opacity="0.55"/><path d="M598 1139l18 -7M655 909l12 7M487 932l-11 16M552 1043l15 19M623 1052l13 3M461 1100l18 21M612 1023l16 10M611 999l8 9M677 961l15 -1M495 1031l-2 28M452 1036l-2 22M659 1075l24 -7M501 1020l-6 25M522 1027l3 15M650 1180l9 -9M626 942l9 11M502 1106l27 4M571 1042l9 13M618 1059l27 5M607 1010l10 11M586 1048l17 12M563 968l-4 15M657 1109l11 -5M557 1027l12 26M650 987l28 2M629 1099l24 -11M612 1090l21 -3M643 1100l21 -7M680 962l16 -4M632 1148l16 -9M607 927l2 14M604 946l6 21M571 1093l18 3M488 1025l-4 20M613 1129l28 -11M483 1169l17 -4M456 1178l27 -1M626 1089l17 0M562 1060l12 12M660 939l28 -1M440 965l-5 16M457 989l-6 12M630 1143l23 -13M474 1156l14 1M601 954l10 26M428 1140l16 16M496 1035l0 21M552 1058l16 14M628 1092l18 -1M684 1115l22 -18M516 1147l14 -2M536 1099l23 12M479 991l-7 12M606 982l7 25M611 933l3 22M676 946l29 -6M473 965l-9 10M632 978l11 9M631 1053l13 2M622 948l18 21M433 1020l-6 24M583 1091l27 9M667 1089l17 -12M516 1000l-9 24M455 1037l-3 19M598 990l5 19M566 1109l22 6M604 1106l21 -3M440 1108l8 20M653 923l14 3M484 933l-14 20M533 1081l9 9M501 1042l2 14M553 999l-3 15M624 924l22 20M537 1043l6 12M550 1110l19 3M427 944l-6 25M671 1175l23 -18M629 1083l13 -1M469 1047l-1 27M535 1024l0 17M649 1059l25 1M497 1130l17 5M684 1003l21 -3M542 1111l24 6M439 947l-6 13M485 958l-5 11M540 898l-7 17M632 1130l24 -13M556 1019l-2 19M566 943l-6 14M487 1120l12 3M447 1076l0 27M456 964l-6 13M622 1029l11 11M579 1040l11 14M560 930l-13 24M579 1177l11 -9M665 1090l25 -7M618 1023l13 10M618 1134l17 -9M492 1092l19 16M614 986l9 12M522 1043l4 12M523 1141l12 -1M572 893l-15 23M558 1141l21 -11M495 1160l25 -4M435 1043l0 18M600 1159l16 -13M522 1075l12 17M524 1050l3 22M508 1076l10 14M617 1073l20 5M642 962l25 10M526 962l-7 11M494 1050l14 26M545 976l-4 13M459 1008l-5 29M456 1065l-1 14M623 912l15 20M616 1186l13 -13M472 1181l17 -5M641 1015l29 -2M669 1170l10 -7M686 992l17 -6M560 920l-11 17M549 1029l5 17M514 1153l19 -2M431 1040l-5 28M605 1115l27 -7M553 1037l10 18M660 951l22 3M601 995l12 20M654 1053l26 -9M612 1138l17 -9M426 1171l21 11M524 1028l3 27M472 897l-3 15M617 997l14 13M574 1093l12 -0M660 1157l20 -11M451 1133l10 7M668 951l24 -1M432 1057l-1 13M608 941l4 13M616 1081l24 -2M504 1007l-3 18M509 1119l17 4M557 948l-6 15M657 1149l18 -9M448 1004l-7 16M553 1126l17 -3M673 1106l11 -7M442 1084l9 17M557 1059l21 13M564 1056l11 17M618 1110l12 -5M485 902l-10 19M568 966l-5 14M461 1101l7 11M618 1031l22 11M539 1037l3 16M665 992l23 -7M493 1170l14 -9M628 1068l20 -0M665 1010l23 -6M477 924l-8 11M614 1015l18 14M424 1074l3 26M447 1163l14 4M495 1029l3 17M676 1151l11 -6M591 988l13 24M680 1167l24 -15M463 1102l21 19M630 1030l23 9M527 941l-12 17M671 933l16 -1M473 1027l-5 16M549 1039l5 13M553 908l-17 19M506 1034l3 27M455 1083l2 13M566 1062l14 13M472 1022l-5 17M605 1028l12 7M609 1009l16 19M479 1083l17 23M680 1153l18 -9M661 963l15 1M587 1001l8 23M456 1133l15 11M677 1179l18 -18M644 924l18 14M612 1022l11 8M635 1012l19 6M489 1147l19 -0M517 1030l2 25M578 958l-1 19M661 929l19 1M441 947l-10 23M566 1162l21 -12M447 1072l5 17M606 1163l22 -15M547 903l-10 18M685 905l13 -2M497 1002l-5 14M679 934l18 -2M570 1071l18 10M442 994l-8 17M605 927l7 15M536 986l-16 25M649 1004l22 2M670 1067l25 -14M592 930l-3 23M496 1183l25 -12M664 1092l11 -6M540 1125l16 1M654 1018l27 -1M449 895l-2 18M590 1077l16 6M421 1115l13 23M642 1082l26 -8M555 944l-9 22M456 1034l-2 18M576 1038l20 22M612 1001l14 13M613 932l9 27M490 1013l-8 24M583 912l-4 28M565 973l-10 22M661 1007l26 2M463 1027l-1 26M490 1131l16 4M642 1166l11 -6M677 1181l17 -10M512 944l-10 21M635 1018l17 1M560 1079l18 8M569 1095l18 3M562 1029l5 13M553 1176l15 -11M609 1185l19 -16M673 1180l11 -8M625 966l17 15M568 959l-6 25M591 1006l8 17M596 954l6 29M470 1098l18 16M676 1165l22 -20M558 938l-6 11M493 1022l-4 27M519 1039l5 27M490 909l-13 18M586 1011l4 15M551 953l-11 15M455 1104l20 19M562 1116l24 4M452 963l-13 25M530 1135l12 -2M486 1065l10 26M506 926l-10 14M512 1055l9 21M432 925l-2 22M573 1116l29 2M545 936l-11 24M527 897l-10 24M462 1135l20 7M436 933l-2 23M567 987l2 28M490 1156l15 -2M450 1056l3 24M647 922l25 11M657 919l25 -0M662 978l16 2M665 1025l16 -4M635 1061l14 1M483 1166l27 -8M453 944l-9 21M525 899l-8 10M580 1042l21 20M518 1047l7 14M680 1000l27 -7M637 993l29 3M609 1092l25 -2M575 941l-5 18M568 1004l7 20M483 920l-10 17M534 1069l20 13M615 996l23 19M435 1004l-4 26M484 892l-10 26M580 1006l4 15M636 897l19 13M505 1069l16 14M547 1085l17 3M574 978l-3 19M579 924l-2 15M602 1013l9 9M606 1019l18 15M486 1089l20 20M657 1101l18 -5M572 963l-11 26M601 910l4 19M600 980l8 12M634 1171l14 -11M684 1163l22 -18M501 995l-7 15M686 1138l18 -16M489 991l-6 15M665 1124l25 -11M584 895l-2 24M521 919l-12 16M633 1174l19 -6M583 919l-3 19M493 1101l18 14M605 1027l14 9M676 1100l20 -14M532 973l-13 14M656 979l24 2M572 1181l19 -21M469 945l-15 22M634 1069l16 -2M449 1001l-1 19M548 1003l-3 20M464 1057l7 25M474 1061l9 28M600 986l11 18M555 974l-10 22M527 1181l18 -13M520 964l-11 13M611 1042l23 17M448 1087l3 13M534 1179l20 -15M489 975l-14 24M608 933l-1 27M432 994l-8 28M507 1155l14 -0M583 1124l25 -5M667 982l28 -5M426 914l2 14M437 916l-5 22M510 1058l3 12M475 1014l-7 25M571 986l1 29M585 968l0 18M664 926l13 1M533 1057l12 17M606 933l4 12M502 940l-18 17M440 999l-7 18M662 1109l22 -13M639 919l8 10M488 1122l24 6M612 963l12 15M447 958l-2 30M479 926l-5 29M434 1148l12 8M473 1024l-5 29M613 1067l20 5M641 1086l25 -6M448 1128l18 16M422 990l-5 16M544 944l-12 14M561 916l-4 22M460 898l-3 17M598 1130l16 -8M610 933l9 19M439 1017l-9 21M676 1111l15 -7M628 990l11 9M587 1075l27 7M593 1152l11 -6M532 950l-11 23M622 966l8 13M428 1011l-4 15M651 1159l21 -8M679 953l20 -0M570 1179l18 -16M655 1154l20 -13M682 1168l15 -6M479 988l-12 19M604 963l5 23M663 1111l18 -5M521 917l-9 13M481 1180l24 -8M643 1162l11 -8M499 1036l-4 26M632 1117l23 -6M464 1149l12 2M478 911l-10 24M680 959l17 -6M481 1095l19 16M467 1108l22 15M513 1063l8 14M597 1004l12 21M593 1120l21 -3M454 999l-9 25M471 1059l2 16M637 1145l11 -5M607 1047l13 6M481 1038l-0 21M634 937l20 10M684 993l24 -13M658 1000l16 1M627 1026l27 6M649 1188l21 -17M511 965l-14 19M624 1101l21 -5M595 944l-2 12M605 1146l15 -6M673 1069l25 -13M500 932l-12 19M561 1006l2 15M596 1078l28 3M518 1179l10 -10M507 1000l-7 26M628 1008l21 10M676 1111l16 -6M541 1010l-3 15M527 1020l-3 21M595 1168l10 -7M518 932l-13 16M608 1156l17 -6M544 918l-6 11M422 927l-5 29M534 908l-16 18M669 971l16 2M480 963l-10 13M489 971l-7 11M436 1028l-6 16M437 938l-5 17M548 1093l26 4M607 999l9 12M646 969l15 7M526 1173l23 -10M667 1054l16 -1M485 1181l20 -5M524 957l-8 22M664 1064l19 -5M554 1126l19 2M488 1020l-4 24M572 1119l22 -3M523 958l-16 19M597 1145l15 -6M611 1162l15 -11M563 940l-9 21M622 900l17 16M473 1012l-4 17M518 1083l22 19M603 947l5 29M686 1117l10 -8M476 1141l21 -0M539 1168l13 -4M443 949l-12 22M632 942l14 22M470 1014l-7 20M522 916l-10 15M587 952l1 14M591 1142l20 -8M430 1011l-7 22M606 1143l14 -5M455 1116l10 11M670 1025l18 -7M610 1128l18 -7M578 1007l7 16M651 983l29 1M546 1020l1 21M514 993l-9 13M547 1070l20 19M616 1032l26 12M468 1026l-6 29M668 1046l20 -5M573 1062l10 7M644 966l20 11M656 989l24 3M690 1092l10 -10M553 926l-13 19M571 1070l15 9M517 1110l20 7M456 996l-4 16M423 1167l14 10M652 1108l25 -15M686 1129l13 -11M538 1142l15 -5M468 1025l-2 15M508 1040l-0 18M453 1022l-4 25M557 1065l15 11M478 1065l10 24M606 1027l16 12M605 1118l23 -4M591 967l6 17M623 1092l22 -7M578 951l-9 27M501 1182l15 -9M497 1082l20 14M492 900l-16 22M423 1083l3 28M465 917l-4 15M601 932l7 27M672 985l29 -7M454 992l-10 15M538 914l-21 21M543 1157l17 -12M480 917l-19 23M646 1007l17 4M611 1123l18 -2M663 1062l20 -4M427 1012l-10 26M558 909l-8 18M586 942l6 27M533 1095l24 7M509 1078l14 12M467 1073l13 20M555 1069l17 16M654 1042l21 -6M586 955l-3 21M496 934l-14 13M436 1140l19 7M477 1145l18 3M578 996l2 14M423 1030l-4 24M655 988l15 3M525 1006l-4 13M463 1099l14 20M519 965l-11 15M577 1079l26 9M481 912l-12 24M555 1109l14 4M572 975l-10 23M541 1044l16 22M512 914l-16 21M508 906l-13 24M608 1045l26 4M621 1054l22 4M684 960l17 -7M647 1171l10 -8M438 1077l-3 15M548 1014l-1 13M529 1033l2 24M609 895l9 26M670 1149l18 -7M421 1087l8 19M605 972l10 25M665 917l23 1M565 1130l24 -6M564 1184l20 -15M450 910l-7 25M671 945l17 1M505 1054l9 20M626 918l17 20M484 1022l-4 26M430 1032l-9 26M544 948l-14 20M514 966l-8 14M653 1162l25 -4M671 1177l18 -12M591 915l1 22M457 1159l12 4M531 971l-13 17M468 966l-8 22M584 960l-6 27M583 963l-0 17M453 953l-6 12M634 1064l14 2M670 987l21 -6M567 921l-6 19M488 1175l21 -8M452 936l-3 13M423 903l2 12M516 948l-15 18M462 1178l24 -2M591 1093l27 -0M663 1124l20 -10M553 930l-16 24M619 1066l26 2M575 1156l21 -14M572 1059l13 8M553 1161l10 -9M476 1002l-9 15M625 1051l23 7M462 959l-7 13M594 1011l11 16M583 1183l18 -20M509 989l-14 25M538 905l-13 16M512 934l-16 14M448 1073l2 20M599 1184l17 -12M606 928l10 24M566 1067l17 8M597 1083l22 5M546 1131l29 -4M645 1027l19 4M559 902l-11 28M550 934l-12 18M550 1139l13 -3M657 951l23 -0M671 1158l20 -12M627 1121l18 -5M533 1183l20 -15M487 964l-12 20M487 1052l6 24M532 1058l4 12M505 899l-13 24M603 984l9 20M445 1036l-2 25M687 1074l14 -7M491 1036l-2 13M417 1133l8 15M647 1141l14 -8M512 910l-8 14M610 1046l22 15M597 950l-3 25M508 993l-8 12M675 1038l16 -6M448 1084l6 22M613 997l18 21M608 947l7 25M507 969l-10 20M677 1091l26 -15M568 940l-7 24M537 1151l26 -7M537 893l-15 23M606 1082l12 1M478 1033l-3 14M443 1138l13 12M604 965l13 20M667 969l21 1M464 1125l22 14M661 1050l20 -9M580 971l-2 29M578 1039l5 12M671 1014l24 -10M628 1067l23 3M462 941l-5 12M495 1047l3 16M666 1104l15 -5M659 951l17 9M514 1069l12 17M497 1093l15 9M476 1019l1 25M458 975l-5 22M486 999l-10 13M578 965l-4 12M536 1042l8 22M670 1155l18 -7M413 1159l23 18M509 982l-5 19M544 912l-10 16M436 931l-8 25M605 954l3 20M592 1072l14 4M599 1014l9 14M682 1119l26 -12M466 921l-7 11M431 1093l3 19M685 969l21 -8M683 1133l21 -11M680 955l22 -7M533 1118l21 0M424 1117l15 22M674 1060l14 -5M434 1142l10 13M516 961l-11 19M480 1169l24 -6M506 1181l11 -6M535 1006l-3 22M493 1025l-3 19M430 1171l26 7M451 1047l0 30M603 980l4 15M628 1179l12 -16M664 1050l19 -4M429 957l-0 16M446 1153l23 13M595 995l5 12M565 896l-8 28M657 903l25 6M458 1019l-7 20M561 1020l6 13M608 933l11 26M434 952l-6 27M678 1150l13 -6M443 1022l-4 20M539 945l-9 13M447 1039l0 13M444 1131l19 10M443 1121l7 11M507 1181l26 -15M629 994l20 14M520 1057l9 28M451 1104l17 24M550 952l-11 13M593 1119l15 -2M607 1139l23 -12M673 1041l21 -5M548 1131l14 -1M554 1142l20 -8M476 961l-13 21M670 967l30 -3M604 1163l13 -7M484 991l-6 15M533 1020l-3 26M421 955l-3 21M637 1126l19 -7M622 1098l16 -4M540 920l-9 15M511 932l-20 16M469 922l-4 13M566 1079l14 8M418 921l3 28M606 1180l14 -12M470 898l-15 25M451 893l-1 21M479 1013l-11 28M606 1020l10 11M678 1076l19 -14M580 1165l15 -9M627 1176l18 -11M457 1028l-4 18M432 1104l14 20M663 922l21 4M513 915l-9 9M543 1143l28 -9M580 1019l13 27M550 1030l8 21M467 1075l3 13M420 1119l9 16M637 1034l16 3M485 937l-11 20M544 1141l12 -3M644 1057l18 3M553 990l-9 27M667 1114l25 -15M589 1092l20 3M550 900l-8 15M607 1014l21 17M526 924l-19 22M474 994l-6 20M584 1010l15 23M601 1157l21 -18M452 1136l22 5M494 939l-10 20M503 1161l12 -6M607 1094l12 3M449 1013l-7 17M466 1150l18 -0M685 1018l17 -7M573 1114l25 -4M650 1126l18 -12M590 1188l19 -18M460 1097l11 15M598 1130l21 -5M539 1095l19 10M446 1093l9 18M549 933l-12 16M643 1003l22 7M637 1166l17 -10M586 922l-7 29M591 1163l15 -14M665 911l26 2M478 1153l20 -1M488 989l-9 14M676 1084l25 -7M462 896l-7 21M449 999l-7 11M514 964l-11 15M500 904l-7 14M610 904l16 23M416 1104l16 24M454 1015l-5 12M624 979l21 11M457 1178l29 1M443 1137l11 9M648 909l20 8M483 1112l18 11M430 1069l-2 12M546 1032l9 28M518 1056l7 25M602 1143l14 -6M487 1062l5 16M480 982l-11 20M680 1106l26 -13M561 1162l24 -17M614 1027l12 12M449 916l-3 15M562 1111l18 1M523 898l-9 18M501 1172l19 -8M572 965l-6 25M472 978l-7 20M524 1014l-5 22M584 935l-13 22M646 1078l19 -2M484 902l-6 15M553 1052l14 22M572 993l5 19M546 935l-13 18M571 950l-6 17M674 1151l13 -9M486 950l-7 11M624 1073l23 3M502 1081l14 8M644 929l14 10M545 931l-15 19M434 1012l-5 14M642 1127l19 -11M632 1046l26 3M608 944l4 19M472 1031l-4 14M588 975l2 12M677 909l20 -2M624 1148l11 -8M600 928l11 25M522 1179l27 -13M486 1056l11 27M641 1130l13 -7M594 1157l21 -14M499 1090l20 17M599 1068l20 8M490 999l-8 13M632 1096l12 -3M644 1147l24 -13M495 1160l27 -5M442 936l-8 18M503 950l-11 18M515 1003l-12 22M554 1140l20 -5M534 1022l0 18M612 1112l23 -2M509 985l-8 20M685 996l18 -10M434 1120l12 13M528 1083l12 7M565 974l-3 12M608 1135l12 -3M473 1000l-11 27M624 997l14 10M675 1004l27 -8M473 1112l23 13M638 970l16 10M563 1047l8 10M542 1060l12 10M512 926l-16 21M552 1153l15 -7M597 1096l18 2M415 1163l13 8M608 915l7 26M628 1116l19 -6M483 903l-10 19M585 1037l21 19M523 1139l14 0M657 1128l19 -10M682 1172l22 -12M423 912l2 18M575 971l-3 16M533 971l-13 20M570 926l-6 14M424 1127l9 16M539 1077l20 13M646 1070l15 -4M571 1151l22 -12M626 963l17 16M583 1126l22 -7M606 992l6 15M437 1028l-3 16M452 1048l-0 18M680 1015l24 -9M590 976l4 23M620 976l9 10M515 987l-8 14M497 1172l22 -10M485 1010l-12 23M584 932l-10 27M652 1155l21 -13M505 930l-11 12M530 1052l10 16M481 1060l4 13M498 1034l-1 21M672 998l22 -4M434 920l-3 22M494 1020l-3 20M613 1120l25 -4M655 1116l24 -13M631 1098l17 -4M452 1120l16 15M651 1058l12 -3M562 1120l28 1M683 1086l18 -9M607 1025l16 12M525 1059l13 16M624 982l10 11M484 934l-8 12M684 1122l14 -4M467 970l-11 18M476 997l-8 26M511 908l-12 21M683 937l21 -1M490 1016l-6 15M453 996l-8 14M445 919l-6 19M457 1042l-2 26M458 1121l18 11M562 897l-11 26M594 1073l29 7M668 1014l17 -3M641 926l24 13M544 996l-5 29M526 910l-23 19M512 905l-9 16M512 912l-16 22M609 1097l20 -4M646 995l15 2M435 942l-4 17M508 1171l23 -10M604 949l9 26M526 1000l-13 26M665 1135l23 -10M544 946l-10 22M515 1007l-6 25M491 1108l10 11M452 1161l22 4M639 1163l23 -10M670 1174l20 -11M479 1007l-4 24M627 974l13 12M572 903l-1 14M662 1011l25 -2M636 909l24 17M681 1058l24 -11M589 1141l12 -5M597 1065l15 8M484 1025l-6 29M620 1161l16 -9M459 927l-6 11M680 949l24 -8M678 1127l23 -13M589 1038l12 15M528 922l-13 17M543 930l-16 23M644 1184l21 -12M528 1054l10 17M469 1158l29 3M562 922l-8 15M563 1086l18 4M495 1009l-4 12M624 1017l27 10M538 980l-8 12M571 1011l8 27M611 904l7 17M584 1073l27 10M497 923l-16 23M567 911l-2 15M518 985l-13 16M624 1057l20 -0M561 921l-8 11M533 1010l-3 13M493 945l-15 26M623 1077l14 2M453 1170l19 2M546 895l-14 24M422 952l-3 14M593 993l8 15M673 952l24 -6M505 1117l28 2M433 1112l6 13M556 993l-2 17M583 1024l15 17M536 1121l20 -0M497 1046l2 15M508 954l-10 20M622 986l10 19M462 1160l12 2M548 1019l4 29M485 1029l-3 13M680 1067l24 -10M558 941l-10 16M427 1024l-5 17M614 1098l14 1M601 926l1 25M666 1155l25 -10M433 996l-11 20M540 1175l25 -17M648 975l21 5M493 1019l-1 29M628 1126l24 -10M432 1098l12 19M463 962l-12 26M502 1000l-12 27M608 1175l11 -10M679 1033l20 -14M653 1000l16 3M556 966l-12 21M649 937l13 10M562 912l-11 16M631 1107l24 -4" stroke="#7c7c7c" stroke-width="1.4" stroke-linecap="round" fill="none" opacity="0.6"/>
</g><g filter="url(#soft2)">
<ellipse cx="526" cy="927.5" rx="4.1" ry="3.5" fill="#8a8a8a" stroke="#cdcdcd" stroke-width="2" opacity="1"/>
<ellipse cx="672.5" cy="940" rx="3.9" ry="3.1" fill="#8a8a8a" stroke="#cdcdcd" stroke-width="2" opacity="1"/>
<ellipse cx="670" cy="979" rx="4.5" ry="3.8" fill="#8a8a8a" stroke="#cdcdcd" stroke-width="2" opacity="1"/>
<ellipse cx="427.5" cy="957.5" rx="3.9" ry="3.2" fill="#8a8a8a" stroke="#cdcdcd" stroke-width="2" opacity="1"/>
<ellipse cx="560" cy="997.5" rx="3.9" ry="3.4" fill="#8a8a8a" stroke="#cdcdcd" stroke-width="2" opacity="1"/>
<ellipse cx="520" cy="1012.5" rx="3.8" ry="3.2" fill="#8a8a8a" stroke="#cdcdcd" stroke-width="2" opacity="1"/>
<ellipse cx="627.5" cy="1090" rx="4.0" ry="3.3" fill="#8a8a8a" stroke="#cdcdcd" stroke-width="2" opacity="1"/>
<ellipse cx="620" cy="1070" rx="4.0" ry="3.0" fill="#8a8a8a" stroke="#cdcdcd" stroke-width="2" opacity="1"/>
<ellipse cx="470" cy="1147.5" rx="4.5" ry="3.6" fill="#8a8a8a" stroke="#cdcdcd" stroke-width="2" opacity="1"/>
</g></g>
<path d="M422.3 1177.8V906.4H694.2" fill="none" stroke="#a9a9a9" stroke-width="2"/>
<rect x="420.3" y="904.4" width="274.9" height="274.4" fill="none" stroke="#000" stroke-width="2.1"/>
<text x="427.33" y="1172" font-size="22.62" font-weight="bold" fill="#f6f6f6" textLength="176.03" lengthAdjust="spacingAndGlyphs" >x4 magnification</text>
<rect x="746.4" y="903.4" width="277" height="276.8" fill="#606060"/>
<g clip-path="url(#clip2)"><g filter="url(#soft)"><path d="M915 1010l25 -1M899 1132l15 1M783 1129l7 -23M947 994l27 6M909 922l18 -4M786 1115l6 -18M957 1119l17 9M909 1043l28 1M868 1072l15 -4M1014 1174l18 -2M1013 1000l2 21M753 997l21 -1M811 923l27 -5M971 1134l14 8M803 1174l10 -21M912 1123l29 1M757 1035l14 -8M1005 1004l11 24M753 952l28 3M841 1176l11 -7M905 1146l22 2M844 1122l18 -8M785 1066l16 -14M782 1059l19 -10M912 978l24 -6M737 1012l24 -9M884 1138l14 -0M991 1179l30 -2M888 930l26 -5M798 954l27 -6M943 1075l16 11M859 1163l25 -4M805 983l22 -15M752 1095l2 -16M959 1157l27 1M898 931l15 -4M862 1069l21 -13M828 1086l18 -12M903 1149l14 -1M789 947l16 -1M869 930l27 -12M801 953l15 -4M996 1145l14 3M765 980l13 -3M829 1162l12 -11M995 904l18 17M939 1017l28 5M760 988l14 -2M889 930l11 -7M792 967l28 -6M875 1163l25 4M1007 1006l10 26M802 921l17 -6M773 982l24 -3M914 1149l27 2M847 1118l16 -6M816 1138l18 -18M774 952l18 -3M887 1075l12 -4M832 978l22 -9M948 945l24 7M906 952l18 -3M887 1105l13 0M932 948l30 0M926 1029l18 -2M894 1158l26 4M812 1101l21 -21M994 980l7 14M857 1128l18 -11M956 919l21 7M792 955l27 -5M803 1140l7 -18M1011 979l7 23M895 1063l15 -1M1011 919l9 12M807 1130l8 -11M956 972l27 10M740 1011l19 -9M862 996l18 -9M837 984l17 -8M939 1082l17 5M783 1096l10 -13M819 1060l13 -14M798 928l24 -0M827 1055l20 -17M999 953l9 23M865 1025l11 -7M786 923l22 0M755 955l15 5M906 1024l29 -3M954 951l25 12M999 1147l29 7M993 1116l16 7M742 1071l15 -18M746 958l21 4M794 1168l13 -25M831 992l23 -12M895 1109l12 -2M999 918l10 13M806 1080l18 -17M867 915l11 -6M769 1153l6 -18M883 1088l25 -2M969 958l21 15M796 910l22 -1M997 970l13 15M757 1085l4 -12M818 1173l12 -19M901 1121l30 -1M964 993l14 10M998 987l12 26M772 1125l7 -20M794 917l22 -7M930 969l17 -1M804 913l26 -6M933 1153l16 7M929 999l20 -0M861 968l22 -8M950 988l28 2M979 1158l24 6M899 1133l23 4M994 1063l15 20M788 916l12 -0M780 1126l9 -13M759 1049l13 -14M830 1134l22 -15M867 1000l26 -15M756 1117l3 -29M999 1000l10 11M768 1037l18 -14M883 999l24 -10M860 1081l27 -9M921 1028l15 -1M865 1176l28 -10M876 1065l15 -9M893 907l11 -6M907 950l19 -10M1021 917l4 25M929 934l23 -0M777 975l26 -2M843 919l23 -9M968 1099l26 14M769 1048l16 -15M1010 943l5 15M915 1141l28 6M769 1062l23 -17M925 913l28 -7M919 930l17 -2M843 1087l26 -14M774 1082l19 -20M783 1126l4 -13M950 978l20 2M765 1060l14 -13M752 910l27 10M752 1061l15 -15M875 1017l25 -11M903 1002l17 -2M969 1171l25 5M803 907l20 -7M973 1175l19 2M881 926l26 -14M927 1041l15 -0M971 991l15 8M849 1025l11 -7M927 951l20 0M955 944l21 6M983 1138l20 8M774 1069l8 -14M1006 1171l23 4M895 938l15 -6M941 1086l20 8M774 1174l1 -20M895 1050l18 -0M931 1118l14 4M878 1117l14 -2M856 1182l20 -6M875 977l23 -10M851 1176l13 -5M753 1179l-4 -19M822 973l18 -10M773 961l27 -2M985 1149l18 5M753 968l17 -1M835 1004l20 -9M909 1100l28 2M841 1000l13 -9M965 969l22 17M940 1035l19 2M927 935l26 -4M825 1065l24 -10M795 1038l17 -16M784 995l26 -12M871 1040l23 -5M848 1142l14 -6M878 1076l24 -4M955 924l23 5M776 1113l13 -23M812 1072l10 -7M813 945l27 -11M789 1011l17 -12M766 1139l2 -13M768 1083l19 -21M790 1112l11 -13M971 1010l19 13M1016 894l11 24M849 986l24 -13M884 1071l15 -4M1015 999l6 19M778 1128l17 -22M923 1028l24 8M981 1134l28 11M770 960l15 1M796 959l13 -5M879 991l12 -6M792 1123l3 -13M892 1044l26 -4M776 982l21 -2M886 1069l21 -8M953 981l22 5M776 1102l13 -16M864 1062l28 -11M948 1133l11 4M847 1051l15 -4M834 945l10 -7M754 1032l11 -9M939 1162l15 1M985 1093l24 16M873 1032l18 -5M786 1087l14 -17M882 987l23 -3M911 1116l13 2M937 1160l20 5M804 1052l14 -13M884 994l17 -10M936 928l16 1M978 1135l20 10M951 1087l13 5M774 907l25 1M916 1113l18 3M914 944l24 -5M1014 1173l17 -2M786 1136l7 -20M766 920l21 4M758 1154l4 -24M956 1164l29 -1M835 1143l16 -9M760 1003l19 -7M772 921l14 2M764 1044l22 -17M758 918l19 7M794 1020l26 -13M893 1179l13 -2M909 1111l13 -2M994 961l11 12M904 1009l14 -1M978 1105l16 9M925 981l22 -5M857 997l23 -12M764 1119l4 -25M804 1107l21 -19M928 994l27 1M958 1139l14 3M914 1174l21 4M824 1006l25 -12M905 1042l24 -4M763 986l19 -0M866 1137l26 -7M997 919l9 13M979 986l18 20M911 909l28 -10M1010 1142l20 4M782 1087l10 -9M762 1035l23 -14M1012 1080l11 12M787 931l25 -6M814 1003l13 -5M946 958l29 1M942 938l30 1M818 1162l15 -18M894 1077l25 1M870 916l25 -15M872 992l22 -12M844 1148l19 -7M748 1000l25 -3M845 967l13 -12M752 1014l18 -6M862 1118l15 -5M959 1055l22 15M915 1137l19 4M832 1051l16 -16M955 1133l13 3M933 912l18 -1M827 1094l20 -12M820 1036l13 -5M793 914l17 -1M929 1173l12 2M1006 1110l13 11M938 1074l22 5M835 1111l21 -15M1002 1096l16 14M1009 919l11 17M926 1017l29 6M781 953l13 -2M999 1167l27 -3M756 1173l-6 -16M777 1144l7 -29M816 974l26 -13M793 1163l4 -19M886 929l26 -10M757 1003l21 -4M843 1030l13 -9M849 1025l22 -14M778 1123l3 -23M969 1176l15 -0M750 926l12 7M1012 1169l14 0M994 1021l11 14M834 984l12 -9M825 1003l22 -18M820 934l17 -6M835 1169l15 -12M916 1031l29 2M812 937l28 -9M819 915l18 -2M887 949l20 -14M771 1047l13 -8M959 1116l13 10M806 911l26 -6M843 907l14 -7M995 952l17 24M1011 1030l12 24M928 1115l16 7M848 1107l19 -12M1017 928l8 28M917 923l14 -3M893 1102l26 -5M836 1036l17 -7M987 1139l13 4M964 1033l20 13M1007 1083l14 14M942 1009l13 2M1005 1051l14 17M989 1093l13 12M845 1078l25 -10M978 985l21 20M879 960l27 -9M996 1133l12 7M758 1150l-1 -14M880 1176l29 -1M958 1087l13 6M980 1013l18 16M807 1002l17 -10M779 1020l11 -8M996 1088l10 10M773 1157l2 -19M766 1014l15 -9M864 1037l14 -7M805 1117l9 -11M749 1051l16 -13M854 1012l17 -11M819 1094l21 -17M929 1145l28 4M791 1150l11 -27M845 991l12 -10M753 1081l8 -11M947 1153l19 2M847 934l13 -7M984 1024l11 10M813 1088l23 -16M753 1128l1 -20M880 927l26 -14M777 1042l14 -10M885 919l27 -11M776 1159l-2 -27M862 1144l22 -3M952 904l13 5M992 991l9 10M776 1174l-1 -29M831 1005l23 -12M869 989l14 -9M979 1039l13 12M803 916l23 -9M778 995l18 -2M753 1030l26 -14M751 1042l8 -9M776 1086l15 -24M992 1095l16 16M844 998l17 -10M894 922l20 -10M825 986l19 -14M884 1152l25 -1M899 961l14 -2M1006 1057l16 21M823 1134l20 -14M796 925l13 -3M778 1167l-4 -21M904 998l22 0M872 1112l22 0M993 992l8 13M871 943l15 -7M775 991l21 -6M896 1145l17 0M798 935l23 -4M764 1043l21 -16M767 1169l2 -26M786 932l21 -2M980 955l18 12M759 924l20 8M788 1078l13 -10M942 1115l15 0M849 942l11 -6M1020 975l3 20M831 1183l18 -18M983 1029l17 19M972 1120l23 8M980 999l16 18M822 1169l9 -10M902 948l11 -5M983 929l10 8M822 1173l12 -15M788 1106l11 -17M1007 1079l10 15M766 1052l12 -12M856 1065l16 -8M737 954l28 5M983 1054l9 9M827 917l14 -7M822 1030l10 -10M835 1081l18 -10M862 1144l26 -4M919 914l27 -6M832 1002l24 -12M825 1066l25 -12M797 1180l1 -14M1018 961l7 25M999 1149l29 5M781 1100l15 -21M767 913l14 1M936 1061l17 3M892 1095l22 -2M990 981l15 21M966 1062l21 16M957 992l14 2M947 1010l13 6M828 1057l13 -14M761 940l15 0M754 1140l-1 -23M786 1080l16 -17M985 1078l20 12M846 1155l20 -5M756 1124l3 -25M969 1153l23 11M1013 1056l12 19M909 1176l15 0M979 1076l22 18M909 1143l16 1M773 1040l18 -15M843 1073l16 -10M986 918l15 13M811 1139l10 -13M789 1161l5 -14M895 977l15 -7M783 903l17 1M766 1057l20 -17M999 1160l28 8M877 1000l13 -9M953 961l19 7M1019 956l3 23M912 977l15 -6M851 990l21 -10M838 968l11 -6M910 972l23 -6M946 1014l22 7M880 1000l21 -5M952 1116l13 3M906 920l24 -3M870 1061l16 -6M936 1046l24 6M945 1132l17 1M942 918l18 1M878 974l16 -7M910 1037l29 1M950 1095l15 8M821 1134l11 -9M743 1027l16 -10M737 1023l23 -7M797 936l15 -2M950 1108l23 5M982 1111l17 11M817 969l24 -8M921 1153l27 5M764 1162l-2 -17M821 1099l16 -16M1007 946l10 22M762 921l24 -0M792 1020l22 -11M758 983l25 -6M865 1085l29 -3M802 1021l10 -6M762 930l22 -2M860 1002l20 -12M908 1016l14 -1M930 910l27 -1M820 949l16 -8M949 1008l13 2M857 1021l14 -6M963 1116l20 5M946 980l13 -2M770 1096l5 -16M823 1013l19 -9M882 913l19 -9M963 1027l12 10M858 1085l23 -5M750 925l15 4M866 1154l15 -4M827 1019l17 -12M948 1151l13 3M908 1161l25 3M753 1155l-3 -12M885 991l18 -7M830 946l19 -10M1011 1047l9 24M787 1036l24 -15M961 973l15 4M971 1113l22 14M889 1090l17 -5M743 989l21 -2M772 1064l7 -10M927 1134l19 9M954 1072l14 7M902 1177l25 4M940 1044l23 3M753 1016l16 -10M834 1025l19 -11M939 933l16 -1M744 929l18 3M848 1143l26 -14M787 1104l8 -25M981 1087l10 8M898 1037l26 -6M924 1027l12 0M842 1132l16 -8M778 983l12 -4M845 983l25 -7M983 1116l23 10M779 1077l12 -15M912 916l20 -5M833 1056l20 -21M747 1020l20 -5M880 983l19 -10M776 1146l9 -27M818 1131l16 -17M917 992l27 -6M847 1167l19 -5M934 1029l18 6M779 1091l15 -24M785 1142l7 -18M895 1169l26 -2M802 906l29 -3M766 1063l12 -13M969 1019l14 12M986 1010l12 19M739 973l19 1M801 975l20 -7M969 950l22 19M851 1123l24 -9M991 981l15 21M967 916l26 7M814 1049l22 -12M861 1132l11 -6M938 1105l23 12M827 1003l25 -13M798 1135l9 -17M946 1069l12 5M853 915l22 -15M929 923l30 -5M884 997l12 -9M830 1038l22 -10M946 996l13 3M989 899l15 17M862 1087l22 -8M912 1091l14 -1M891 1134l29 -1M981 923l16 13M796 1030l15 -11M923 925l18 -6M950 913l12 -1M962 995l25 10M904 1075l13 -2M831 915l24 -7M911 1063l13 0M777 1175l3 -18M892 933l24 -8M997 980l6 13M743 899l27 11M946 972l24 7M821 1045l22 -15M972 1126l21 10M994 1107l19 17M874 1022l26 -10M818 952l23 -12M765 1157l-3 -19M747 940l13 6M882 1099l28 -7M792 1038l19 -12M967 1030l19 9M945 1084l15 5M835 1136l26 -10M938 941l21 1M874 1150l29 -0M849 1001l18 -9M940 1033l21 4M846 1123l24 -13M849 934l25 -13M741 963l26 1M766 937l19 0M918 1000l22 -7M940 940l13 1M772 956l20 1M878 1045l24 -13M929 978l24 -1M833 985l19 -9M969 1163l15 6M978 943l13 10M899 1148l14 1M805 1132l11 -10M818 1159l14 -19M1000 960l11 26M930 928l19 -1M776 1018l19 -9M948 988l14 0M822 940l24 -6M788 915l29 0M877 1076l11 -5M751 1103l2 -18M1016 1053l9 20M1020 1017l3 12M761 1061l20 -19M937 950l21 -0M876 928l14 -5M1019 970l7 21M1003 986l5 18M864 1008l22 -19M980 965l17 15M802 1071l7 -10M1005 1080l16 24M999 942l14 13M926 1108l25 5M872 931l16 -11M834 1002l21 -13M1000 1063l13 10M899 910l15 -8M743 906l16 6M963 1141l20 9M872 1019l11 -5M838 1071l23 -18M878 973l25 -11M999 1153l16 3M980 997l16 14M1009 1022l6 11M770 946l18 -1M974 997l13 7M961 1015l19 12M947 1165l23 3M806 1182l14 -19M988 1109l23 17M847 961l15 -8M1007 1111l19 11M843 926l18 -10M911 936l18 -8M911 1141l22 4M1007 1025l5 15M889 996l12 -2M923 1095l29 3M947 971l20 3M778 1063l11 -17M799 1122l6 -13M913 960l16 -1M770 993l19 -3M937 1097l26 2M860 1032l22 -6M767 1127l1 -13M977 1138l25 13M990 1117l21 15M935 1057l13 1M1006 984l4 12M976 1011l11 12M836 1159l24 -15M1009 928l13 22M1010 1092l21 15M827 1136l13 -7M915 1125l29 4M1008 1168l23 4M750 994l21 -5M816 1183l7 -10M753 1179l-6 -16M995 1104l15 12M927 942l23 -7M797 1162l4 -21M936 1081l21 4M927 923l18 -4M1019 1039l7 14M946 1177l26 0M787 1092l19 -21M782 1112l13 -21M889 1082l29 -8M906 1038l18 -5M752 1145l-4 -12M967 1156l17 4M889 989l14 -7M933 990l27 5M819 992l18 -4M780 1033l17 -8M742 998l16 -3M878 954l24 -11M852 931l16 -13M826 1064l16 -14M989 976l15 21M923 954l28 -11M917 923l12 -5M821 1124l15 -12M795 1131l9 -14M798 1151l19 -22M988 923l18 19M780 1062l9 -11M881 1017l20 -12M817 1107l22 -18M787 1193l5 -29M771 1014l19 -13M933 1000l22 3M922 916l17 -6M922 1058l13 2M776 926l13 2M887 953l25 -15M862 1132l22 -6M812 994l12 -7M952 1079l12 4M772 1054l10 -17M923 994l21 -4M863 908l15 -6M747 1077l11 -17M790 1023l22 -15M805 1089l15 -12M859 933l21 -9M936 905l12 -0M796 1008l16 -8M957 981l18 4M918 933l25 -14M926 1089l28 10M927 971l17 -5M995 990l9 12M970 1045l7 9M807 958l25 -7M833 1120l18 -10M829 1175l19 -10M782 1005l16 -9M904 912l16 -5M885 917l25 -15M957 988l15 9M763 1097l8 -21M811 1046l22 -17M889 1016l25 -8M972 918l22 14M830 1143l11 -12M784 1130l6 -14M825 1078l18 -20M1017 927l8 27M953 1101l28 9M851 931l18 -9M1008 948l14 24M754 1077l16 -25M755 1060l11 -16M955 1051l27 11M985 1074l18 17M784 935l19 -4M960 973l21 13M794 982l16 -2M963 1124l13 5M884 1048l15 -5M1010 1096l13 16M993 1080l11 9M903 945l19 -8M1021 995l2 23M946 1169l18 2M965 902l18 6M765 1011l13 -3M988 1048l16 21M946 919l27 -1M761 1078l10 -13M862 1062l11 -5M843 1166l13 -8M918 1148l18 9M919 936l19 -0M879 1165l26 -0M961 994l12 6M892 931l20 -10M825 1014l23 -12M794 954l16 -2M991 1043l19 21M975 1054l9 9M749 1137l-1 -12M841 1052l27 -13M913 1144l14 0M870 983l18 -11M801 913l21 -6M772 929l15 5M916 994l15 -5M1007 1171l22 -1M993 964l17 24M790 954l16 -3M962 945l25 7M970 920l25 10M871 1010l14 -7M751 1109l4 -15M831 1062l12 -7M802 1104l17 -23M911 923l15 -8M781 954l27 -5M788 1077l8 -12M757 1129l0 -12M894 1171l20 1M900 1133l26 10M796 973l27 -3M873 923l20 -9M968 958l16 8M832 959l12 -9M984 1104l14 11M870 912l15 -9M885 961l20 -13M989 1147l26 8M904 937l11 -6M905 1015l19 -2M889 1029l21 -8M797 988l26 -13M801 1086l11 -9M984 1080l11 10M759 989l20 -4M864 1131l20 -11M898 1072l22 -3M786 1114l9 -23M796 1137l12 -19M879 1081l28 -7M905 978l15 -3M863 1022l18 -13M908 941l17 -9M938 953l30 -1M803 1082l22 -16M958 1144l20 3M911 954l15 -2M752 1003l17 -6M950 1004l22 10M835 1171l9 -10M928 1159l15 5M883 929l12 -8M951 982l18 6M936 960l26 2M814 1030l19 -10M944 1039l17 6M760 950l29 6M941 1134l15 5M754 1150l-5 -18M800 1159l8 -19M766 1058l10 -10M888 1164l16 -2M771 943l13 -1M922 918l29 -1M812 1071l17 -12M949 972l22 8M963 912l13 3M886 1062l13 -6M971 1095l20 11M791 1173l3 -20M867 1009l20 -9M797 1151l12 -15M829 1159l10 -9M833 1003l20 -8M863 920l25 -16M986 1162l30 -2M913 924l17 -3M925 1112l17 2M846 1070l16 -10M770 1168l-6 -28M984 999l16 13M797 1113l10 -17M917 949l16 -6M804 1160l7 -10M965 1113l18 5M874 1030l18 -9M893 1030l12 -4M986 958l9 9M916 1146l30 3M976 1110l13 10M795 1041l15 -14M994 1146l22 4M770 1118l3 -13M735 969l29 -0M947 1029l16 6M819 920l26 -10M911 1128l14 0M812 1167l11 -19M1019 894l9 22M922 1063l14 1M825 1109l12 -10M832 983l23 -13M1001 1141l21 7M994 1091l21 17M849 909l22 -8M926 1170l26 1M780 1011l19 -10M796 975l21 -7M810 1102l11 -14M753 1132l2 -15M851 1010l24 -7M773 1028l16 -11M746 1088l4 -12M776 1058l16 -13M876 927l13 -5M971 1135l12 4M830 981l21 -15M819 1117l15 -14M837 1185l15 -13M750 945l18 5M870 925l23 -10M757 987l22 -6M743 977l24 3M970 976l17 10M996 1037l11 16M938 905l14 -0M788 955l17 2M921 1063l12 2M894 1056l29 -4M911 996l17 -4M834 942l26 -12M818 1144l18 -19M861 967l20 -11M748 1078l11 -22M1018 999l8 23M743 972l25 -0M841 1036l12 -10M780 1081l13 -19M931 1029l16 1M896 1055l17 -5M807 1110l21 -19M748 918l19 5M882 1153l16 -1M831 979l23 -16M927 1144l19 3M761 960l30 0M750 1081l8 -11M839 1005l11 -8M971 1126l22 16M949 913l23 -2M936 916l29 2M944 961l28 5M758 1073l8 -13M1007 1103l15 11M781 1103l9 -12M849 1044l22 -15M887 946l15 -9M836 1163l18 -10M842 1066l26 -7M1004 1055l9 13M817 973l12 -8M961 1049l17 10M962 1047l13 8M885 1134l16 -2M812 1152l14 -20M874 1139l22 -4M818 909l27 -7M826 1084l14 -16M839 1045l18 -10M854 985l26 -9M971 1118l18 6M796 916l22 -4M875 1150l16 -5M767 1032l10 -8M928 929l15 -2M866 967l22 -11M977 1122l19 6M865 941l21 -20M844 932l13 -4M973 956l16 8M860 1029l14 -9M910 1152l23 2M912 968l23 -4M814 1163l8 -17M857 1089l21 -8M873 1004l15 -8M802 1077l16 -16M942 1084l22 11M870 1048l27 -6M765 1168l-6 -13M1018 1086l6 13M798 1148l8 -17M841 922l26 -10M797 1139l12 -22M847 910l18 -9M987 1143l25 8M967 976l14 10M892 1153l23 -5" stroke="#4a4a4a" stroke-width="1.9" stroke-linecap="round" fill="none" opacity="0.55"/><path d="M884 1083l20 -1M971 968l16 9M959 1081l19 10M806 1184l9 -13M818 1147l11 -14M832 1074l25 -14M796 1001l18 -10M948 1061l23 16M1015 1057l6 15M755 1050l19 -18M859 1067l24 -8M878 939l25 -14M854 979l12 -6M916 1042l18 -2M884 1006l12 -4M939 1037l21 4M909 1129l28 6M885 992l25 -10M909 969l16 -7M877 1145l20 -4M795 967l13 -5M833 1046l15 -9M978 929l21 15M940 1047l20 4M764 914l18 1M959 1046l16 10M954 1021l13 3M761 1048l14 -14M783 996l22 -8M1013 954l8 26M924 1026l18 1M1014 1013l4 12M835 991l16 -7M869 1094l20 -7M972 1058l23 15M811 1119l12 -18M773 928l18 5M771 1185l-1 -25M867 1051l24 -8M818 911l20 -3M985 1053l16 12M902 1103l13 1M847 1139l17 -12M924 1165l19 4M766 1131l0 -25M794 964l16 0M865 972l18 -12M988 947l13 13M871 978l17 -6M966 925l15 5M803 1093l20 -20M986 1038l17 21M990 981l14 19M814 1054l13 -12M818 1157l13 -12M796 962l17 0M933 909l27 -2M767 988l19 -3M872 1085l22 -2M755 1061l8 -14M956 929l25 4M857 1151l28 -5M840 1152l17 -8M799 931l25 -9M741 956l19 2M826 1025l14 -6M966 951l15 7M801 1045l9 -8M966 1100l17 10M806 1085l16 -23M859 922l22 -12M816 1098l9 -10M818 1046l24 -10M995 1141l22 1M847 1047l16 -8M833 1184l20 -18M903 1164l16 -0M855 937l21 -12M991 922l17 15M890 919l15 -8M927 969l17 -1M816 1112l18 -22M894 1152l18 -2M885 976l13 -6M780 981l20 -3M837 945l19 -8M848 986l14 -8M1017 1007l4 14M913 1137l25 4M981 1106l12 8M970 977l16 10M897 1014l26 -4M859 1120l20 -5M952 935l17 1M919 951l21 -4M842 1097l18 -8M1011 959l5 28M886 1070l26 -5M870 1157l20 -7M789 1152l6 -16M812 1140l9 -16M1010 976l9 15M913 988l26 -3M895 1092l20 -0M964 1100l23 13M930 1129l18 4M772 1070l11 -15M945 1069l23 12M888 1013l21 -6M797 1181l8 -24M888 1039l11 -5M913 936l15 -4M782 1053l14 -14M882 1180l21 -2M796 1146l6 -18M951 990l17 2M957 988l14 6M977 943l13 9M919 918l17 -3M1005 1094l12 9M994 983l13 27M847 1045l26 -13M824 1090l25 -16M847 1113l24 -10M931 918l24 -1M774 1027l26 -14M895 1073l26 2M784 1181l3 -28M944 1155l28 4M838 938l28 -11M837 1107l24 -14M765 992l20 -10M843 959l14 -9M750 1183l-6 -21M1003 1078l12 10M900 1064l19 1M755 1155l-1 -17M881 1090l23 1M959 1177l28 3M821 1130l16 -11M998 1167l22 7M882 970l25 -15M785 1042l22 -9M888 986l15 -7M1016 928l5 21M751 1139l-1 -27M853 1083l13 -6M870 1059l19 -5M882 1118l29 -2M969 997l17 12M788 1085l16 -23M984 970l17 17M899 1101l23 -2M927 993l18 2M877 946l18 -7M901 935l12 -3M885 947l15 -6M840 1080l15 -10M943 1005l29 7M931 990l23 2M936 944l26 -1M873 1140l20 0M745 1126l4 -21M952 1147l23 3M897 1127l25 -1M906 1146l15 2M822 1103l15 -15M932 1157l26 4M873 934l23 -14M960 1005l20 13M922 1163l28 1M963 986l19 16M862 930l23 -9M952 1171l25 6M853 1036l14 -5M996 1104l20 13M909 999l16 -3M973 1084l21 14M909 1140l17 1M963 899l24 12M855 998l11 -6M916 1056l29 5M916 976l22 -7M881 995l19 -12M910 1108l18 1M938 1067l22 5M1005 1171l13 0M801 1055l21 -19M848 1033l15 -8M832 1155l23 -14M1001 1049l12 27M907 938l18 -12M856 930l13 -8M813 960l20 -9M883 985l20 -9M768 1179l-1 -15M826 1175l11 -9M788 1186l4 -16M963 1126l12 7M899 1100l29 2M904 1043l24 -3M856 1147l15 -4M848 1163l25 -12M847 947l18 -8M901 1123l16 -3M877 1146l26 -1M907 964l11 -6M988 1000l14 14M805 1024l24 -16M919 1162l26 3M1006 946l4 12M777 1025l13 -5M978 1157l20 3M760 983l22 -4M850 1142l16 -7M867 1007l15 -8M914 1169l18 2M841 991l25 -14M997 983l12 23M865 955l13 -12M906 944l20 -11M772 917l12 2M792 965l12 -6M830 1106l19 -15M921 1122l19 3M820 1126l16 -22M942 1076l20 5M950 922l25 -0M843 1006l11 -9M875 1052l14 -10M822 1025l18 -9M825 980l22 -19M907 945l21 -8M982 1041l15 15M741 943l22 5M998 933l11 17M861 1030l19 -8M958 1157l28 6M932 1118l12 2M946 1007l24 3M955 1109l16 4M919 1111l18 1M1023 951l1 22M774 1089l13 -20M798 1012l16 -11M905 1127l26 8M971 992l13 6M911 1167l24 4M984 1094l21 10M753 1107l5 -14M1011 935l9 16M782 1145l7 -23M950 1130l13 2M881 1131l27 -3M959 1111l29 3M743 1015l15 -6M774 1173l4 -24M735 993l25 -2M914 1088l20 3M744 998l23 -0M984 1004l10 13M819 1155l10 -8M941 929l15 -1M1002 965l10 25M907 1014l15 -3M965 1089l14 9M874 944l25 -17M900 1083l29 7M823 956l21 -9M978 1054l17 16M813 1051l12 -8M825 911l23 -11M868 1167l29 -0M969 1046l21 12M804 1045l12 -11M740 903l29 7M771 958l25 0M888 979l11 -5M971 989l16 15M814 997l25 -14M756 1083l15 -24M852 1135l16 -6M839 1043l16 -14M1019 926l5 28M935 1055l22 3M958 1137l29 7M932 916l16 -2M921 911l13 -3M867 1058l18 -1M833 1119l17 -9M920 1131l26 4M852 1142l11 -6M869 955l10 -9M894 988l17 -11M891 1164l27 1M888 906l11 -4M784 936l13 -1M906 1037l29 -2M919 911l15 -2M798 1014l17 -8M865 926l12 -6M931 1053l16 -0M976 959l14 12M797 1018l20 -14M813 921l28 -11M921 1105l27 0M965 1062l19 11M804 961l27 -6M986 1068l11 9M806 999l24 -15M878 1148l23 -6M778 1183l-0 -27M823 1097l12 -9M842 1169l10 -12M797 1039l11 -9M832 1129l18 -14M928 928l23 -1M760 1095l4 -13M766 965l23 2M770 933l29 4M975 1139l19 4M769 1078l16 -24M785 954l25 -2M933 991l25 3M890 991l15 -6M1015 960l4 16M924 1042l22 3M802 987l12 -8M998 1061l13 12M871 1002l16 -10M748 1187l-3 -30M790 1141l13 -22M962 1158l16 2M886 945l25 -9M819 1183l11 -20M987 913l20 12M820 938l15 -6M918 1164l16 -1M744 1022l14 -6M874 935l19 -5M778 1186l2 -18M845 919l19 -15M895 915l19 -10M1016 1064l7 16M936 1164l22 3M762 1080l9 -14M997 1039l8 13M783 1087l8 -13M754 980l26 3M894 953l27 -12M961 1116l16 9M940 961l30 -2M783 904l19 -1M910 925l20 -7M781 1094l8 -10M824 922l23 -9M739 1031l20 -14M851 974l16 -13M967 1145l21 7M954 953l20 6M831 1104l16 -11M957 1150l11 5M858 942l14 -10M968 1060l14 13M962 989l22 6M876 976l18 -9M928 946l24 -1M848 955l16 -20M754 1068l8 -16M857 1118l27 -4M766 1086l8 -12M915 1035l12 0M867 1091l23 1M845 975l13 -8M1009 1088l11 7M961 1117l12 4M746 955l22 2M985 1171l21 7M838 955l15 -6M855 954l11 -8M986 1182l19 -4M821 1160l25 -14M897 1000l25 -8M814 1123l21 -16M1010 1091l13 14M763 1052l17 -13M1014 909l9 19M793 1096l5 -11M877 1124l20 -4M895 1083l13 -2M987 998l11 12M986 1169l15 1M828 1103l14 -11M1022 922l2 27M830 1100l18 -12M956 1175l20 4M898 1102l22 1M1005 939l11 22M797 992l14 -6M773 1039l13 -7M1002 908l19 18M943 1157l12 2M929 1108l20 6M782 1081l10 -13M946 989l21 3M937 928l29 -1M874 1030l18 -8M764 1134l3 -24M904 963l21 -11M749 902l14 8M1001 1145l24 9M982 1164l24 -1M904 1160l21 6M1009 973l9 17M872 1155l30 -1M857 947l21 -10M899 1152l25 2M844 917l12 -6M979 1134l22 3M925 989l20 -5M860 1050l22 -6M1006 1000l4 17M877 1126l17 -1M815 1092l17 -13M782 987l29 -5M771 1073l13 -16M802 1186l7 -16M973 996l16 18M800 1002l20 -5M827 1015l15 -11M976 1024l20 19M826 1077l22 -10M993 898l14 11M964 1006l11 9M812 1187l11 -16M807 1025l18 -7M885 942l15 -9M753 1144l-1 -30M782 1128l8 -26M844 1179l17 -10M799 1105l14 -26M797 1001l16 -4M929 955l20 -3M877 932l21 -17M884 930l12 -6M931 915l16 -2M869 949l12 -5M809 989l20 -12M979 1126l12 5M837 930l20 -5M828 1022l19 -16M999 993l6 16M817 1052l17 -15M861 979l18 -10M1005 1076l8 12M751 1029l16 -8M802 917l12 -3M763 1159l-7 -23M945 1043l12 5M940 1016l19 5M1002 1085l16 16M928 1043l14 2M825 1123l18 -16M842 1045l23 -13M838 1090l11 -7M920 1032l28 -4M822 1102l11 -7M977 1104l15 11M865 1048l23 -12M912 1054l28 3M756 1004l14 -4M878 1073l22 -1M1014 1149l18 4M925 1023l20 1M902 1132l27 2M999 1022l8 13M955 1103l15 3M994 1160l18 3M891 1121l21 4M1000 921l16 23M932 964l19 -0M993 909l14 15M874 936l13 -5M1003 1172l20 0M876 1019l13 -5M853 1109l12 -7M830 1170l13 -10M1017 981l2 20M896 1070l23 2M906 984l22 -6M988 931l13 15M971 1067l18 12M917 921l13 -3M821 1021l12 -6M913 928l25 -6M1008 1098l9 11M834 980l16 -9M745 1054l11 -12M779 1048l11 -10M793 1033l25 -13M883 945l15 -15M1006 1057l14 17M950 987l15 5M899 937l21 -9M897 1176l25 -1M979 936l18 16M956 1106l12 3M846 1178l12 -5M963 1147l21 7M964 922l20 8M779 1058l18 -14M989 996l17 21M774 1084l9 -12M824 1071l18 -9M750 1105l8 -28M917 1161l29 3M819 1154l11 -14M939 1136l26 11M810 1147l10 -16M983 940l14 17M853 1162l18 -12M924 912l16 -6M796 1144l8 -19M845 966l19 -11M773 1090l9 -10M1016 1002l4 11M818 931l13 -3M933 942l20 3M776 1083l10 -21M852 1085l13 -5M980 936l19 17M950 1098l27 11M872 1006l20 -13M1018 980l3 12M760 1176l-4 -20M803 1060l14 -12M763 985l17 -2M929 928l20 -1M1005 1125l26 13M772 1070l17 -14M862 1154l28 -10M855 971l16 -10M938 1064l28 4M899 923l17 -9M882 1039l12 -4M959 1041l21 13M994 1110l19 11M780 995l13 -4M984 1117l20 13M789 948l18 -2M983 1023l21 18M995 948l10 15M777 992l20 -10M908 1070l18 -1M792 1021l14 -7M899 1174l18 -1M750 977l27 2M880 1069l30 2M896 1069l20 -3M802 1180l6 -18M739 965l16 -1M844 1052l22 -14M782 1051l10 -8M884 1014l27 -6M747 1110l2 -21M1015 1006l7 21M930 1174l22 5M961 1033l21 11M755 1079l13 -24M889 1061l12 -6M951 997l22 10M1010 1134l21 10M803 1022l21 -8M1005 993l13 25M781 999l17 -7M822 1177l18 -14M900 1060l27 -3M819 1016l19 -13M1022 944l1 26M839 1137l16 -9M816 1116l19 -23M824 1069l19 -6M811 1069l22 -15M827 1014l20 -7M967 956l25 8M854 930l26 -10M783 988l12 -3M993 925l10 8M958 1033l13 4M873 977l13 -10M957 1178l19 -0M858 1163l28 -9M878 994l21 -11M864 934l19 -16M749 959l24 3M944 1143l26 7M907 919l23 -6M771 984l23 -7M887 1088l15 -3M871 1072l12 -6M767 1151l5 -16M930 967l26 -1M985 1036l14 20M852 1062l16 -13M997 1045l10 11M764 1055l23 -15M769 1185l-4 -27M758 1075l15 -20M1013 906l12 14M1022 1003l1 15M930 1095l22 2M749 1119l0 -25M761 912l24 7M759 944l12 2M970 909l13 3M769 945l22 1M878 1022l24 -7M804 1166l9 -24M815 1058l20 -16M777 1141l-1 -17M853 1082l13 -4M1008 1149l28 8M808 1074l22 -17M835 1024l14 -6M796 1112l10 -20M885 978l25 -8M782 976l25 -0M788 1164l-0 -12M890 916l24 -15M1010 1095l23 18M899 1136l26 2M992 1098l15 12M806 927l26 -9M873 984l17 -8M1007 1020l13 20M883 1120l16 -1M943 1160l29 8M927 958l28 2M888 1161l16 0M907 935l26 -14M759 1101l8 -22M889 971l20 -8M932 1122l24 -0M883 1094l21 1M925 1116l15 2M914 1128l15 3M810 918l26 -9M1019 1060l6 14M952 1175l17 5M837 1006l17 -9M893 1147l28 2M800 1089l20 -23M909 985l28 -10M960 1002l28 10M861 1015l11 -5M890 1014l24 -15M1016 965l7 28M981 974l21 18M748 961l21 -1M869 1136l18 -6M983 1176l24 1M805 1049l15 -12M980 1035l9 10M951 1079l14 7M778 1067l20 -20M904 958l20 -13M821 985l22 -10M811 1016l15 -15M887 947l10 -7M870 944l16 -7M887 950l25 -11M898 1030l14 -5M970 1150l27 9M915 1050l27 5M845 1185l24 -13M790 1123l7 -15M810 1167l12 -21M893 1087l29 -8M961 1002l17 6M832 917l14 -4M961 1003l23 10M772 941l25 -3M814 911l25 -5M800 1056l13 -10M1000 968l10 25M990 1073l13 13M1016 1138l13 6M904 1135l24 2M962 1068l20 12M902 921l15 -6M873 954l24 -15M825 1128l23 -18M967 1061l23 14M825 1046l19 -13M991 1133l20 6M860 986l16 -13M861 1032l12 -7M980 909l24 15M858 1022l18 -10M816 1030l17 -12M917 993l26 6M817 1170l13 -19M1013 963l10 27M912 944l18 -5M886 1115l23 -3M833 1167l17 -11M914 977l20 -3M882 1138l24 4M980 1006l20 16M1020 1000l5 14M748 1078l15 -18M985 1084l17 13M870 1139l14 -2M823 1140l10 -9M939 993l28 9M761 976l21 -2M860 951l14 -9M947 1016l12 1M949 1134l17 4M1004 1010l11 20M988 908l14 8M768 1064l18 -21M1005 1073l9 13M761 1163l-4 -12M848 974l25 -8M889 1158l17 -4M925 991l16 -5M795 1095l8 -11M781 1032l25 -14M847 985l23 -16M838 1082l15 -8M801 1045l12 -10M990 911l17 15M881 928l19 -14M887 915l16 -8M954 978l24 11M966 1088l19 9M827 1150l13 -14M878 1161l23 -2M950 947l23 4M1013 1061l7 11M902 995l14 -2M779 932l27 0M913 1036l17 -1M918 1175l22 5M880 1061l12 -6M1005 1133l25 11M950 1179l25 0M891 1020l13 -4M907 1135l13 3M831 1065l21 -13M912 950l19 -2M887 993l21 -9M836 965l19 -8M735 898l24 11M916 1096l14 4M1019 1012l4 16M967 924l22 13M801 938l18 -7M751 962l27 5M802 1133l8 -18M919 1052l16 1M800 1178l11 -17M941 1049l21 7M885 910l26 -11M898 1068l13 -2M929 1168l19 -1M786 1070l23 -17M934 1115l24 15M832 966l20 -11M919 976l12 -1M748 915l25 8M802 1168l16 -21M765 1160l-4 -21M927 999l14 -0M779 1070l22 -17M836 1013l18 -8M879 1139l15 1M921 1069l28 3M813 1075l20 -16M947 1002l16 6M821 992l26 -13M971 946l17 9M770 965l12 0M819 1050l18 -16M878 1130l18 3M828 916l22 -10M796 951l20 -2M808 1032l25 -10M865 1059l14 -4M994 1113l17 8M956 1136l26 9M775 1013l18 -12M976 920l14 10M925 1037l27 -1M834 1030l11 -6M814 1114l16 -19M777 1136l-1 -16M790 1062l15 -14M947 905l19 -0M798 943l20 -8M987 1078l14 10M804 1143l19 -21M849 1112l22 -7M879 935l20 -13M1019 1059l6 11M998 1060l9 10M765 1160l-2 -16M846 1138l26 -14M969 1174l26 5M824 997l11 -5M812 1176l8 -15M892 1020l20 -7M900 1030l15 -3M922 1007l25 1M1003 1017l12 26M910 936l24 -4M831 972l15 -7M749 913l16 7M858 1082l14 -4M793 1179l10 -23M983 971l17 9M993 905l16 10M895 1012l16 -5M904 1112l15 -2M902 936l24 -7M800 1087l18 -19M937 1165l21 3M977 1026l13 16M780 1062l14 -20M782 1030l10 -7M781 969l25 -4M862 1004l23 -10M951 1030l23 8M930 1079l17 3M752 1098l6 -23M949 1051l17 7M861 1005l19 -11M910 977l13 -7M928 1154l24 12M883 1032l18 -8M1014 1039l2 14M853 1118l18 -7M746 946l16 7M800 921l24 -12M873 1180l20 -6M1004 1086l10 7M814 1102l18 -11M807 1001l10 -7M839 1028l21 -12M780 1055l12 -12M930 1126l20 7M760 933l29 -1M893 1001l12 -9M837 1045l12 -4M959 909l25 6M774 945l29 1M970 953l24 16M903 1006l12 -5M780 1028l20 -15M1008 1074l14 17M915 1058l25 -1M993 905l15 15M771 1082l8 -10M994 1133l17 7M983 1104l20 8M812 1012l20 -14M805 1135l11 -13M853 1077l22 -13M879 1115l18 -3M920 915l19 -7M869 1094l19 -6M897 1148l13 -1M925 1051l25 3M766 1074l12 -21M752 1119l3 -15M777 1093l14 -26M851 1066l23 -10M890 998l22 -12M847 1120l25 -15M933 1141l28 6M863 1141l25 -11M804 1132l7 -13M741 952l28 8M923 908l16 -5M760 1095l18 -24M927 1111l15 4M840 997l22 -13M846 1007l14 -9M870 1035l18 -8M790 1032l20 -16M981 953l19 21M870 1072l22 -9M764 954l20 -0M907 1120l20 6M817 960l22 -6M777 1012l13 -6M962 1026l11 5M848 942l23 -12M955 958l11 5M853 1080l19 -6M856 1018l12 -10M880 1069l18 -6M773 974l13 -2M929 1065l19 2M955 1051l25 12M900 948l21 -9M873 1009l20 -14M975 910l24 14M756 1101l6 -15M748 1086l11 -21M763 932l29 3M975 1025l20 17M840 1169l26 -8M847 996l12 -6M991 1061l19 20M887 1138l15 -1M888 1108l23 -2M948 909l13 0M842 1024l10 -6M782 932l12 -0M990 1171l28 4M949 1003l19 8M852 949l21 -11M895 1140l24 -1M754 1142l-4 -19M912 1001l24 -11M788 1155l11 -20M881 980l16 -8M825 1103l21 -11M882 995l16 -12M934 1079l13 2M812 977l16 -7M1014 1057l9 24M812 962l19 -10M990 1155l29 1M749 904l14 10M866 943l19 -8M998 1081l14 18M960 989l12 6M1018 993l3 13M892 1038l18 -6M845 1115l12 -8M884 1005l25 -16M751 1058l9 -11M840 1078l24 -9M910 944l25 -8M810 1168l11 -13M775 1171l-2 -19M750 941l21 7M750 1129l-1 -13M881 924l14 -8M733 935l27 4M795 1091l10 -16M994 976l15 15M953 944l23 4M879 1086l21 -4M916 1159l22 -1M959 1047l14 6M764 1075l7 -10M875 1031l24 -8M914 942l17 -4M893 1074l24 -1M811 999l21 -12M799 1131l10 -15M763 1158l5 -26M759 1079l7 -19M824 963l16 -9M788 1135l4 -14M854 925l11 -6M866 1099l29 -5M776 1152l3 -22M868 1178l26 -4M859 980l22 -13M795 1075l22 -14M888 972l27 -8M1004 1115l18 12M949 1002l18 4M880 1100l12 -5M801 930l25 -1M950 914l17 5M836 1171l15 -11M948 1062l19 7M959 936l14 2M863 1000l23 -13M903 908l12 -5M914 1051l27 0M834 1005l12 -5M896 1079l22 -1M757 1182l-3 -20M870 945l15 -6M802 1176l5 -23M894 1019l21 -6M885 1100l28 -4M852 962l24 -15M926 1061l13 1M880 952l24 -10M881 1069l28 -6M943 1029l13 3M878 1091l24 -6" stroke="#7c7c7c" stroke-width="1.4" stroke-linecap="round" fill="none" opacity="0.6"/>
</g><g filter="url(#soft2)">
<ellipse cx="796.5" cy="965" rx="4.6" ry="3.9" fill="#8a8a8a" stroke="#cdcdcd" stroke-width="2" opacity="1"/>
<ellipse cx="889" cy="956" rx="3.7" ry="3.1" fill="#8a8a8a" stroke="#cdcdcd" stroke-width="2" opacity="0.7"/>
<ellipse cx="942.5" cy="962.5" rx="4.5" ry="4.0" fill="#8a8a8a" stroke="#cdcdcd" stroke-width="2" opacity="1"/>
<ellipse cx="957.5" cy="956" rx="4.1" ry="3.5" fill="#8a8a8a" stroke="#cdcdcd" stroke-width="2" opacity="1"/>
<ellipse cx="765" cy="992.5" rx="3.7" ry="3.5" fill="#8a8a8a" stroke="#cdcdcd" stroke-width="2" opacity="1"/>
<ellipse cx="859" cy="1014" rx="3.8" ry="3.2" fill="#8a8a8a" stroke="#cdcdcd" stroke-width="2" opacity="1"/>
<ellipse cx="911.5" cy="1014" rx="3.9" ry="2.9" fill="#8a8a8a" stroke="#cdcdcd" stroke-width="2" opacity="1"/>
<ellipse cx="1014" cy="1012.5" rx="3.6" ry="3.1" fill="#8a8a8a" stroke="#cdcdcd" stroke-width="2" opacity="1"/>
<ellipse cx="1014" cy="1040" rx="4.0" ry="3.0" fill="#8a8a8a" stroke="#cdcdcd" stroke-width="2" opacity="1"/>
<ellipse cx="767.5" cy="1069" rx="3.7" ry="3.4" fill="#8a8a8a" stroke="#cdcdcd" stroke-width="2" opacity="1"/>
<ellipse cx="979" cy="1059" rx="3.6" ry="3.2" fill="#8a8a8a" stroke="#cdcdcd" stroke-width="2" opacity="1"/>
<ellipse cx="890" cy="1061.5" rx="4.0" ry="3.4" fill="#8a8a8a" stroke="#cdcdcd" stroke-width="2" opacity="0.6"/>
<ellipse cx="983.5" cy="1097.5" rx="4.3" ry="3.5" fill="#8a8a8a" stroke="#cdcdcd" stroke-width="2" opacity="1"/>
<ellipse cx="984" cy="1131" rx="4.3" ry="3.4" fill="#8a8a8a" stroke="#cdcdcd" stroke-width="2" opacity="1"/>
<ellipse cx="777.5" cy="1142.5" rx="4.1" ry="3.5" fill="#8a8a8a" stroke="#cdcdcd" stroke-width="2" opacity="1"/>
<ellipse cx="800" cy="1140" rx="4.0" ry="3.4" fill="#8a8a8a" stroke="#cdcdcd" stroke-width="2" opacity="1"/>
<ellipse cx="1017.5" cy="1136" rx="4.4" ry="3.8" fill="#8a8a8a" stroke="#cdcdcd" stroke-width="2" opacity="1"/>
</g></g>
<path d="M749.4 1178.2V906.4H1021.4" fill="none" stroke="#a9a9a9" stroke-width="2"/>
<rect x="747.4" y="904.4" width="275" height="274.8" fill="none" stroke="#000" stroke-width="2.1"/>
<text x="754.03" y="1172" font-size="22.62" font-weight="bold" fill="#f6f6f6" textLength="176.73" lengthAdjust="spacingAndGlyphs" >x4 magnification</text>
<rect x="1073.7" y="903.4" width="277.2" height="277.1" fill="#606060"/>
<g clip-path="url(#clip3)"><g filter="url(#soft)"><path d="M1242 901l9 12M1280 917l18 10M1162 1149l22 6M1208 924l14 10M1190 1105l21 1M1141 1160l27 11M1324 1173l16 -2M1271 953l17 10M1342 966l14 18M1273 945l11 6M1213 1160l15 8M1265 954l23 13M1216 1000l16 1M1121 979l26 5M1088 1000l13 2M1189 1062l21 -6M1227 972l18 6M1224 1092l27 -2M1108 1123l13 -2M1306 1104l17 1M1317 1173l15 -4M1164 919l23 13M1104 898l13 16M1260 959l20 11M1224 914l21 10M1286 1137l17 5M1333 1105l28 5M1160 1066l28 -2M1227 1050l19 -0M1199 1005l18 -2M1139 915l11 8M1272 901l11 12M1070 921l11 18M1258 899l10 12M1146 1064l17 -3M1304 944l11 9M1159 1076l29 -4M1076 969l15 6M1246 1015l24 2M1237 911l15 15M1292 1136l15 6M1340 907l11 6M1138 929l23 15M1081 1157l18 -5M1094 1004l20 2M1261 906l14 15M1152 949l25 5M1213 1051l18 -3M1127 942l14 3M1198 986l21 -0M1326 977l22 18M1098 939l14 9M1266 911l17 16M1093 923l12 15M1334 1162l21 -3M1140 909l14 14M1123 1089l30 -1M1157 907l18 12M1265 1044l23 12M1190 1090l23 -8M1274 1043l16 4M1133 1053l19 -3M1150 1087l16 -6M1105 1066l27 0M1088 1050l28 -8M1213 958l13 3M1110 1047l25 -7M1256 1174l19 3M1185 1016l17 -5M1230 1041l14 -0M1228 994l19 0M1118 1158l28 9M1251 1015l22 6M1192 1127l28 5M1083 1012l20 3M1148 907l14 15M1289 1112l25 8M1072 1138l14 -7M1270 956l24 14M1079 1084l26 -12M1284 952l13 16M1283 995l17 11M1267 980l21 11M1262 957l16 12M1198 1166l10 7M1211 1150l14 8M1119 939l11 5M1309 963l19 20M1082 897l14 25M1162 1033l19 -3M1266 1178l21 3M1085 1022l14 -4M1301 1021l10 8M1078 1144l29 1M1235 1075l25 7M1249 953l11 6M1304 1004l18 10M1195 983l13 -1M1251 944l23 17M1257 1023l20 6M1268 948l23 16M1296 977l17 13M1073 935l8 10M1184 995l26 4M1305 1018l22 19M1238 1104l13 3M1093 1094l21 -11M1212 1170l14 10M1068 1151l25 -10M1202 1168l23 10M1215 1101l23 3M1331 949l11 14M1097 1178l19 4M1222 931l17 9M1080 1003l29 1M1132 978l14 -1M1147 949l21 5M1105 1144l29 1M1261 1034l22 6M1109 1045l21 -11M1248 1160l14 6M1216 1050l21 -2M1201 1127l14 2M1210 1052l27 -1M1195 931l21 7M1176 940l26 5M1258 1173l13 3M1074 989l20 5M1291 913l13 16M1215 948l23 9M1192 914l11 10M1174 1061l12 -1M1126 1141l15 1M1153 1096l14 -2M1201 1053l13 -3M1166 970l14 -1M1315 1120l19 7M1159 1139l26 0M1206 1123l22 10M1078 1033l24 -8M1212 1146l17 4M1286 1069l23 7M1183 904l8 11M1184 1014l16 -5M1309 908l10 13M1227 1100l23 -0M1094 953l26 12M1078 1023l29 -5M1290 963l19 15M1101 937l27 12M1278 1043l15 7M1274 1006l25 13M1282 1056l24 11M1192 1163l18 16M1337 925l19 20M1193 1005l13 -1M1215 1145l25 10M1108 1022l24 -4M1268 1065l26 10M1278 1159l14 2M1237 1169l12 5M1114 1063l16 -5M1223 1106l21 1M1240 1145l13 7M1135 1160l19 16M1275 1155l29 6M1247 1136l19 2M1113 1107l18 -6M1096 1069l13 -2M1169 936l27 9M1128 1038l24 -7M1159 1096l23 -0M1298 1080l22 9M1254 1137l17 1M1201 1065l15 -2M1087 1155l17 3M1227 1099l15 2M1148 1144l11 5M1105 953l17 7M1243 1073l16 4M1280 933l12 9M1338 1095l18 4M1264 991l10 7M1281 1056l15 3M1175 1130l17 3M1131 1140l25 0M1205 1079l28 1M1228 920l18 14M1297 947l16 11M1201 1028l27 -5M1203 1009l24 -6M1143 997l24 0M1299 1078l23 10M1218 1044l17 2M1101 1086l22 -4M1095 956l15 12M1174 949l16 2M1152 905l19 17M1238 1170l20 14M1319 1111l19 3M1111 1061l22 -3M1307 1143l12 -2M1290 1173l22 7M1179 1071l13 -2M1278 948l17 21M1266 940l16 12M1217 945l25 8M1307 1096l26 4M1130 1130l25 -1M1199 1150l12 4M1250 1174l19 7M1158 907l20 17M1135 1059l17 -4M1300 902l14 16M1284 1040l24 16M1164 1087l23 -4M1161 920l13 6M1160 954l23 2M1247 1008l18 9M1341 1122l13 -2M1311 1167l25 0M1210 1137l23 8M1132 1020l15 -9M1316 1084l24 8M1252 1081l23 5M1209 928l21 12M1263 1064l26 10M1264 964l10 9M1181 920l26 15M1070 1111l15 -6M1298 978l10 11M1229 1039l17 3M1172 945l23 4M1331 985l19 20M1261 1153l19 7M1068 1016l21 -1M1078 954l24 12M1193 997l20 -3M1299 1079l19 5M1168 953l23 4M1204 1100l18 0M1115 1066l20 -6M1227 1026l21 -5M1206 1074l22 1M1103 1024l18 -1M1249 923l11 8M1293 997l20 15M1129 1043l24 -6M1185 1112l12 1M1307 991l21 20M1079 1125l24 -14M1069 1065l23 -4M1141 1043l23 -10M1341 1039l15 15M1097 965l27 6M1230 961l26 2M1268 1058l13 3M1258 909l20 21M1229 976l13 2M1174 1093l28 -5M1263 1061l14 3M1208 1033l20 2M1148 1136l20 8M1212 971l16 4M1279 1086l19 4M1267 1100l27 6M1321 953l19 21M1118 1086l23 -2M1104 1111l20 -5M1300 1173l29 -0M1121 968l20 2M1298 1069l16 10M1279 1034l17 8M1326 957l18 18M1148 1172l16 13M1152 1099l25 -7M1296 976l15 16M1278 999l18 6M1095 1018l19 -4M1314 919l17 24M1229 928l14 10M1282 1093l22 6M1096 920l10 8M1251 1001l24 10M1185 953l23 2M1298 1071l12 7M1089 1027l28 -3M1311 1002l17 14M1243 1074l21 2M1334 913l12 11M1303 1059l22 8M1116 1129l27 0M1299 1133l25 4M1171 970l23 3M1160 899l7 12M1249 1143l22 1M1331 1118l20 4M1197 933l15 7M1129 896l14 20M1119 1016l17 -1M1089 1130l28 -6M1129 1146l15 4M1171 1042l12 -5M1135 1161l16 2M1086 1107l17 -5M1250 965l15 9M1260 959l17 9M1216 1090l14 1M1236 956l21 9M1216 905l21 13M1216 949l23 6M1188 960l29 5M1119 1078l23 -5M1233 963l25 9M1256 912l23 17M1172 1032l13 -5M1203 972l25 6M1086 1165l13 0M1208 938l15 7M1202 914l18 12M1083 1008l23 3M1334 943l8 16M1142 1130l26 7M1304 1039l18 8M1109 1088l12 -2M1117 940l28 9M1122 891l15 25M1206 1152l26 13M1162 986l21 -1M1122 1112l19 -1M1197 899l11 19M1303 1048l13 7M1119 1092l13 -4M1158 1020l21 -10M1181 958l20 2M1063 1153l21 -5M1210 966l12 2M1329 1103l15 9M1275 989l21 17M1274 1127l23 3M1200 1036l23 -8M1288 899l17 21M1101 1143l27 -4M1158 1018l15 -7M1098 905l9 19M1281 1067l16 3M1239 903l19 22M1279 1030l24 12M1228 1151l20 9M1246 1157l17 12M1123 913l17 17M1155 1071l14 -3M1078 1068l20 -12M1089 999l25 0M1339 1116l14 1M1125 1049l29 -2M1147 1113l25 0M1224 1069l16 -1M1101 1091l19 -6M1259 1139l14 6M1155 1102l26 -5M1126 943l11 6M1277 963l22 10M1266 1092l14 3M1242 1137l13 4M1335 989l16 21M1229 1152l14 9M1095 914l8 13M1320 1157l17 2M1088 1134l17 -5M1311 914l15 18M1332 1058l23 7M1188 1034l27 -4M1283 1050l18 8M1205 1040l24 -4M1162 926l25 13M1096 1112l16 -8M1287 966l21 17M1121 986l30 -1M1085 1088l20 -4M1308 1123l16 4M1330 985l18 19M1065 1144l25 -8M1342 965l17 19M1115 1060l26 -13M1172 1105l28 1M1235 1081l26 5M1192 921l22 16M1094 986l28 -2M1288 1154l25 4M1151 1118l21 -0M1296 976l12 6M1284 1156l20 -2M1296 1174l16 1M1182 947l17 4M1077 1010l29 -1M1074 1149l28 -6M1069 1011l23 -2M1273 1111l25 9M1321 1058l16 9M1180 1040l23 -9M1314 904l16 18M1235 1028l24 4M1273 1097l26 10M1098 1060l20 -10M1182 935l13 4M1220 1041l22 -0M1207 1025l25 -2M1232 1120l25 10M1312 1035l13 15M1114 997l26 -4M1202 1094l12 -2M1161 1162l11 11M1206 930l15 7M1275 1127l18 -1M1325 975l17 18M1163 1115l20 -1M1159 1136l16 1M1291 925l14 20M1267 1035l23 10M1289 1137l26 5M1135 1121l15 2M1101 1133l14 1M1271 913l9 15M1293 1036l18 7M1216 1053l21 2M1067 1053l18 -2M1124 1138l17 -0M1247 1139l18 4M1193 1133l18 3M1117 1125l14 -1M1157 975l27 -1M1255 1037l18 4M1240 920l13 10M1144 1003l24 -6M1109 1162l24 7M1076 1103l17 -6M1333 996l17 12M1136 971l26 4M1109 1075l17 -3M1338 1068l14 5M1167 1073l12 -4M1145 895l18 23M1286 910l18 15M1243 938l19 14M1113 1117l22 -3M1341 974l13 16M1266 975l19 18M1094 969l24 5M1233 978l16 4M1319 1072l23 5M1212 975l20 6M1137 1015l21 -6M1282 1097l16 3M1244 1161l13 6M1112 1160l25 12M1338 1154l21 -4M1334 1049l22 13M1326 982l10 15M1149 1009l26 -9M1246 1054l18 3M1302 929l15 13M1181 928l13 6M1190 1138l15 8M1170 915l11 11M1159 1145l12 3M1093 1043l19 -3M1319 1053l18 13M1232 1133l20 5M1178 961l19 6M1222 1049l15 0M1173 1150l25 16M1258 924l14 14M1125 981l19 1M1187 926l20 12M1312 1022l19 16M1167 940l18 8M1250 978l17 5M1127 1008l16 -5M1325 1089l24 6M1339 1004l16 16M1114 982l28 -3M1286 1162l24 -1M1195 1044l17 -3M1184 1118l26 5M1093 1157l14 1M1114 1089l12 -4M1312 912l20 18M1170 930l15 5M1193 1059l26 -4M1255 954l20 6M1143 1164l23 9M1280 943l15 15M1193 971l18 3M1072 937l9 10M1332 1104l23 3M1099 1033l24 -5M1243 1052l28 5M1232 1067l27 0M1085 1087l25 -11M1119 1014l23 2M1191 1147l13 6M1105 1052l21 -9M1268 909l21 21M1154 990l16 -5M1252 1061l18 7M1256 1025l23 12M1079 932l7 11M1242 1098l25 8M1211 926l25 8M1154 1139l26 8M1165 1126l14 -0M1300 932l9 12M1131 1021l24 -3M1314 926l11 15M1335 915l15 17M1082 1045l14 -3M1186 1039l19 -3M1208 1132l29 2M1093 1107l13 -2M1170 946l25 6M1116 963l28 2M1127 931l13 6M1162 910l14 10M1226 1056l22 -5M1156 1171l19 19M1144 1138l19 5M1229 920l24 16M1088 1149l26 -2M1215 1069l26 -1M1067 982l16 0M1166 1088l22 -3M1300 895l11 18M1111 1005l16 -1M1197 1150l24 6M1211 1073l29 -3M1199 1032l21 -6M1131 1007l15 -5M1137 1084l16 -7M1256 1172l23 6M1154 1140l25 12M1247 984l12 4M1328 1026l19 14M1289 907l11 23M1190 961l13 2M1233 952l19 9M1083 1021l26 -10M1095 958l21 8M1084 1053l15 -2M1174 1050l19 -6M1147 1126l25 4M1321 990l20 21M1106 973l20 3M1175 978l24 0M1310 1155l28 2M1086 902l6 13M1111 943l17 5M1170 1013l25 -1M1224 910l7 10M1338 1099l17 6M1113 909l11 15M1238 1064l16 1M1124 1062l20 -5M1166 1017l28 -11M1295 1005l12 8M1249 931l22 15M1279 1011l23 12M1318 1158l23 -7M1196 1099l14 3M1323 1171l17 -1M1170 1132l14 4M1173 1148l17 7M1163 971l27 6M1244 1150l28 7M1149 966l15 0M1159 1143l18 17M1138 1048l16 -2M1319 953l19 17M1236 932l11 6M1203 1126l16 1M1250 1083l24 4M1112 1141l18 -3M1292 972l9 9M1177 986l15 -2M1262 949l12 13M1205 914l21 15M1273 1126l28 6M1262 1113l23 10M1087 1132l19 -5M1202 905l18 18M1279 925l15 11M1113 1004l29 -6M1098 1143l20 -1M1330 1102l13 5M1337 1142l16 -2M1187 1040l26 -5M1261 964l10 7M1205 1163l24 18M1111 1032l17 -4M1117 1165l25 7M1211 978l27 3M1295 976l18 11M1238 1065l28 7M1309 1097l16 3M1157 963l11 4M1262 1165l21 9M1218 1139l28 5M1206 1155l19 11M1214 1134l26 6M1245 1138l26 8M1106 954l13 2M1238 952l24 15M1136 934l20 9M1134 1153l22 11M1214 895l17 24M1148 1147l15 7M1253 1015l16 2M1079 924l10 7M1191 953l27 3M1286 1155l28 -2M1225 1141l29 6M1071 1135l22 -9M1156 913l24 14M1264 964l19 13M1329 1167l26 -9M1259 1121l19 6M1116 1143l23 6M1147 909l16 13M1262 908l11 10M1340 1077l12 5M1074 1044l25 -3M1314 968l19 17M1245 1119l20 1M1234 948l25 15M1299 905l18 22M1321 919l12 17M1133 987l28 3M1137 1069l25 -10M1171 907l9 8M1320 954l10 17M1107 941l18 12M1199 1091l14 -2M1098 934l13 14M1320 1074l27 9M1336 1130l28 4M1267 926l24 16M1156 904l13 12M1317 1017l18 16M1225 1113l17 0M1087 1160l12 -1M1262 957l17 13M1258 1140l30 1M1325 926l20 20M1263 1142l24 2M1187 1138l24 18M1163 1052l13 -2M1083 916l11 20M1167 1108l18 -2M1096 1150l14 -0M1243 1118l28 4M1215 1069l27 0M1186 1087l20 -3M1128 1090l21 -3M1297 1139l14 3M1188 916l16 16M1165 988l20 -3M1187 1137l20 5M1207 954l27 13M1222 1163l14 6M1284 1158l23 -0M1178 1110l16 2M1146 1112l17 1M1287 1012l10 7M1237 1127l13 4M1065 1015l25 -2M1226 1172l23 10M1337 1026l10 10M1250 968l25 15M1176 1096l13 -2M1286 1018l22 14M1145 1136l16 6M1264 943l10 8M1260 951l23 11M1216 1065l20 -2M1269 1146l23 -2M1254 1094l12 4M1318 934l15 14M1115 947l24 9M1130 928l21 13M1102 1025l19 -3M1215 989l24 1M1328 931l13 13M1184 1076l19 -6M1218 958l24 3M1272 905l8 11M1277 1068l25 8M1306 985l14 17M1342 914l15 12M1134 1173l13 7M1204 930l10 7M1279 932l19 20M1297 1008l14 12M1190 1105l26 7M1109 1109l12 -2M1340 941l21 20M1274 946l13 11M1103 1135l21 -3M1312 942l15 19M1262 1063l12 3M1133 1053l25 -9M1099 999l18 -2M1295 1043l11 8M1172 1034l26 -7M1146 1111l23 -3M1093 1114l29 -5M1097 969l19 3M1090 1149l17 -1M1248 1122l14 3M1260 1008l11 6M1069 1156l22 -9M1206 1168l18 12M1114 1017l26 -3M1098 1037l23 -6M1207 914l10 7M1281 1152l19 5M1337 1009l18 16M1261 1083l23 3M1334 1062l25 15M1144 1153l24 13M1268 1120l18 5M1320 1132l17 0M1250 1056l23 8M1145 1014l27 -5M1182 1085l27 -8M1330 1177l25 -6M1309 1149l23 1M1106 1084l16 -4M1243 1054l23 5M1272 1055l12 5M1205 1153l13 7M1075 1045l27 -5M1136 1005l25 -1M1160 976l17 -1M1292 904l17 20M1213 1116l16 2M1257 1012l12 1M1103 963l28 8M1265 1155l29 3M1190 988l12 -2M1215 1154l22 16M1098 1073l19 -1M1238 1146l15 3M1201 1132l22 8M1196 980l23 3M1105 975l26 3M1334 1058l12 10M1064 1124l26 -13M1179 957l14 5M1207 956l13 2M1227 1019l14 2M1129 997l21 -1M1139 1169l13 14M1072 1056l24 -2M1243 1172l13 6M1094 1059l20 -7M1077 1105l13 -7M1076 1013l19 -5M1199 965l28 9M1271 1117l17 5M1292 925l13 13M1254 960l16 9M1179 1161l16 9M1198 1089l25 -0M1103 1106l28 -6M1189 1043l14 -5M1227 1115l13 5M1236 1092l27 -0M1259 1162l24 5M1324 924l9 10M1107 1029l22 -8M1298 934l13 12M1247 971l13 4M1196 1060l13 -3M1249 1114l23 3M1082 1096l14 -4M1069 1137l28 -5M1100 1037l16 -4M1095 1154l18 -1M1273 925l20 15M1141 1165l16 13M1276 1134l21 6M1223 1133l19 6M1291 1042l19 7M1194 1072l23 -3M1138 911l15 13M1192 964l15 2M1112 1053l26 -13M1334 1052l26 9M1186 1093l19 2M1217 1019l13 -0M1234 962l15 4M1294 1052l18 9M1221 935l20 8M1325 952l9 13M1333 1042l12 10M1258 927l15 12M1307 929l14 15M1166 941l25 6M1312 1142l26 1M1123 935l18 9M1122 1125l29 2M1315 1175l13 -1M1341 980l17 18M1219 1080l18 -1M1127 1084l17 0M1082 1155l18 -2M1118 923l13 9M1077 1122l27 -10M1277 1023l23 9M1333 1059l13 2M1214 1132l13 2M1205 1039l23 -1M1292 1126l18 3M1143 1025l13 -2M1117 1021l26 -5M1205 1167l10 10M1099 1147l13 3M1083 935l18 17M1135 1119l21 -1M1066 1111l21 -10M1105 1139l22 0M1170 1123l19 4M1313 1138l13 0M1222 970l18 5M1231 963l19 12M1214 900l7 10M1224 1140l19 7M1283 914l17 11M1164 921l11 8M1168 1113l18 -2M1204 927l13 7M1087 931l20 18M1300 1138l15 -1M1159 977l15 -2M1311 1058l12 6M1121 1013l12 -3M1098 1170l14 7M1321 1031l23 12M1173 1165l11 8M1312 975l10 9M1166 1087l28 -1M1081 1158l25 -8M1176 1138l23 12M1288 1080l21 4M1312 901l8 13M1207 1043l22 -3M1293 1112l22 10M1256 909l23 18M1300 1171l27 -2M1315 1149l26 -4M1341 1065l18 6M1162 1005l13 -3M1077 949l15 6M1323 985l8 10M1168 1004l30 -1M1067 1061l18 -7M1158 1163l17 15M1317 895l17 19M1122 1068l24 -4M1269 998l17 10M1101 1035l29 -7M1144 1104l14 -2M1288 896l14 15M1153 1169l18 14M1174 1097l13 0M1327 924l11 10M1254 965l21 8M1172 1098l14 -2M1106 1112l23 -6M1214 1128l12 4M1262 1095l28 9M1203 976l23 -1M1236 904l13 14M1179 1126l14 0M1128 1015l21 1M1279 946l22 16M1108 1116l27 -2M1192 1113l15 3M1264 1087l27 3M1262 1031l24 6M1098 1032l29 -6M1143 1147l15 1M1337 911l14 18M1224 1132l19 5M1176 1053l28 -6M1124 990l23 -0M1335 1087l22 7M1077 1032l18 -4M1339 1112l13 1M1282 1074l24 9M1195 993l21 2M1212 951l15 4M1230 1035l20 4M1241 978l18 6M1072 1048l14 -2M1181 915l21 17M1311 968l10 12M1234 1096l13 3M1164 987l16 -4M1113 904l7 12M1338 918l17 18M1120 1112l15 -2M1225 936l18 12M1313 1045l16 14M1191 921l10 13M1195 970l12 1M1097 893l16 23M1302 1084l21 6M1264 967l15 5M1262 1037l19 5M1107 1094l12 -5M1192 982l29 4M1128 1125l21 1M1064 972l22 13M1106 1041l19 -3M1264 1109l23 5M1239 914l19 18M1297 1143l21 2M1224 1089l24 1M1217 1169l10 7M1169 1044l24 -14M1233 1046l25 1M1134 985l17 -3M1282 1130l17 2M1157 1129l13 -2M1285 957l11 8M1075 1163l28 -9M1123 1025l28 -8M1207 1076l22 -2M1128 1164l16 6M1289 1155l24 1M1245 1171l12 4M1272 957l19 11M1326 1051l17 18M1160 911l18 12M1113 1075l28 -1M1204 957l21 11M1232 954l13 4M1106 982l17 -0M1277 1067l19 7M1090 1083l28 -6M1102 1125l20 -4M1093 1110l30 -5M1180 1014l26 -3M1250 1053l17 7M1210 1173l19 13M1146 1030l26 -9M1177 1137l23 6M1107 1140l29 5M1113 912l23 15M1070 950l20 13M1154 1083l29 -4M1249 1043l20 5M1272 970l18 13M1185 1165l12 8M1104 1096l16 -7M1101 1050l21 -3M1141 1098l28 -4M1081 1130l17 -4M1224 943l13 8M1236 949l16 4M1158 1133l16 1M1292 1113l22 1M1106 1156l14 0M1195 1162l21 10M1092 1031l14 -1M1140 1058l28 -9M1173 918l10 7M1342 944l12 18M1130 942l13 6M1332 1029l15 9M1207 958l16 7M1210 903l14 9M1138 988l20 -5M1161 1056l18 -6M1167 988l13 -2M1186 1093l29 7M1112 946l28 9M1157 1007l23 -2M1198 1140l17 4M1227 1119l25 3M1303 1082l18 11M1318 1004l15 12M1315 1095l15 4M1250 1159l29 3M1200 1068l18 0M1327 934l9 10M1156 1149l15 4M1094 1140l17 2M1145 1115l24 -3" stroke="#4a4a4a" stroke-width="1.9" stroke-linecap="round" fill="none" opacity="0.55"/><path d="M1288 1156l16 1M1338 1029l14 13M1294 1137l24 4M1096 1042l12 -2M1164 1158l22 16M1136 1022l25 -11M1067 1033l14 -1M1097 1037l23 -6M1329 944l10 9M1319 893l20 21M1301 1001l19 13M1323 951l18 22M1325 1110l16 2M1266 943l9 10M1159 1080l26 -7M1247 970l22 14M1066 1156l23 -5M1277 1036l24 11M1230 1003l24 6M1212 1043l20 -0M1213 1090l16 3M1170 1104l14 2M1123 969l24 2M1301 998l14 14M1338 1113l26 -1M1251 1153l13 7M1073 901l11 19M1287 949l16 25M1153 1014l12 -6M1115 1031l24 -7M1246 960l12 5M1129 950l18 4M1105 974l25 6M1119 1042l17 -7M1220 927l13 4M1208 927l26 12M1101 1122l13 -3M1154 1125l15 4M1226 992l23 3M1079 1033l25 -7M1286 1156l18 -0M1243 1043l15 1M1215 950l21 6M1256 1130l19 9M1242 942l19 8M1321 1146l29 -2M1316 1009l24 17M1226 1131l26 5M1168 897l13 14M1227 1066l19 -3M1067 1154l24 -6M1110 1078l25 -8M1247 1165l19 6M1200 1082l14 -3M1316 1179l26 -5M1161 1140l14 4M1343 1049l15 7M1120 904l10 17M1106 1000l25 4M1201 1002l14 -1M1073 1084l16 -7M1224 928l15 7M1340 1141l19 -3M1105 1136l23 -1M1150 1165l14 6M1206 1055l23 -8M1294 1077l25 5M1306 1074l24 12M1324 1034l18 9M1261 937l13 9M1107 1113l17 -5M1148 945l20 7M1325 969l21 17M1175 1124l15 5M1196 1090l29 4M1133 1133l20 8M1300 971l26 14M1113 1171l13 7M1084 930l10 8M1156 1075l18 -2M1152 1084l21 -5M1109 1064l13 -3M1078 948l20 15M1210 1165l17 12M1280 948l15 14M1205 924l19 12M1245 1097l17 -0M1339 944l13 10M1264 1065l24 6M1213 902l12 12M1158 904l16 12M1213 1082l20 3M1097 935l17 15M1281 1032l15 4M1307 907l17 19M1320 1052l18 8M1331 1036l11 10M1197 1018l21 -2M1273 1109l20 7M1259 933l18 18M1072 1137l22 -8M1251 992l27 5M1319 1112l28 6M1239 907l12 11M1066 1018l28 7M1278 947l12 8M1227 1108l23 8M1163 953l23 4M1152 944l24 10M1208 973l15 -2M1072 933l12 11M1290 944l17 16M1204 948l23 9M1192 1019l21 -5M1299 1007l19 14M1195 976l19 1M1205 1022l22 -5M1152 907l15 11M1099 1123l27 -2M1166 1007l17 -5M1126 919l18 16M1109 1091l12 -4M1151 1061l13 -6M1254 1168l24 9M1150 1057l19 -0M1258 931l19 14M1276 1092l27 7M1317 1002l14 19M1335 976l6 14M1236 1064l17 3M1258 1009l20 7M1280 1165l20 4M1338 1185l18 -11M1069 1169l26 -4M1311 1023l11 6M1236 1034l22 3M1183 937l24 10M1081 913l19 19M1237 1136l25 8M1134 1088l16 -4M1274 1156l17 4M1114 1145l28 11M1214 1142l23 8M1309 1095l17 7M1150 1022l27 -6M1206 1023l18 -1M1091 1176l18 2M1110 1152l28 7M1145 1138l29 2M1171 1076l16 -3M1299 937l16 18M1135 968l28 1M1314 1054l14 11M1126 972l22 2M1237 979l22 7M1135 1001l28 -7M1326 1039l14 12M1294 914l19 16M1062 1033l28 -10M1264 921l12 10M1255 1105l23 9M1181 998l17 2M1333 1093l21 6M1176 952l23 5M1303 1000l16 8M1194 1083l21 0M1306 1140l14 0M1100 955l14 9M1138 1146l26 13M1233 918l22 13M1242 1089l22 -3M1195 1025l18 -4M1068 1000l16 6M1286 1065l12 5M1169 1139l19 9M1166 1135l28 10M1099 1035l17 -1M1327 1025l15 15M1140 1075l25 -6M1186 1036l12 -1M1139 1157l13 5M1258 1060l18 4M1155 925l15 8M1079 902l12 18M1125 1011l25 -10M1223 1093l25 1M1295 972l22 16M1166 1052l20 -8M1159 958l24 1M1126 915l22 16M1149 1142l26 8M1107 1105l29 1M1332 1034l12 7M1298 933l11 10M1082 1065l27 -4M1227 984l25 5M1187 933l15 9M1129 1145l27 6M1274 1121l14 6M1171 1086l21 -7M1272 1090l22 6M1210 1129l15 3M1186 1144l12 4M1202 1055l25 -5M1339 1177l20 -8M1194 1075l21 -3M1212 956l20 6M1065 938l17 18M1118 1161l25 8M1100 1146l26 0M1088 1098l16 -8M1277 1011l25 10M1311 1164l13 -1M1186 1097l15 -2M1205 1154l20 7M1222 934l11 7M1088 1080l21 -8M1099 1040l23 -8M1298 1002l10 10M1313 952l16 22M1154 925l17 9M1205 1139l26 11M1214 1009l22 -0M1299 993l11 7M1157 1165l12 5M1103 1029l12 -3M1126 1125l18 -1M1149 1148l24 12M1153 1031l24 -5M1128 929l20 12M1142 1132l28 10M1296 915l20 18M1256 1102l25 7M1078 934l20 21M1318 1127l24 1M1266 910l16 19M1199 1047l19 1M1262 1048l20 6M1096 1067l24 -10M1168 999l14 -2M1332 1091l19 3M1121 952l22 10M1105 936l14 10M1156 1050l15 -4M1152 1084l16 -8M1291 1103l24 10M1314 1166l16 -2M1261 979l15 8M1203 975l26 4M1076 1170l12 -4M1089 1002l28 4M1309 1101l14 5M1309 914l15 20M1161 910l11 8M1086 1120l24 -10M1111 1161l24 12M1276 1164l27 3M1130 917l8 9M1274 1013l27 12M1138 973l17 -0M1283 937l9 9M1327 1116l14 3M1089 1106l11 -6M1096 1145l21 1M1201 1058l13 0M1331 1110l14 1M1068 1088l17 -8M1227 1109l20 -1M1182 972l26 0M1232 1143l23 4M1311 1080l18 6M1167 920l21 10M1234 1162l28 7M1106 1099l26 -4M1119 1164l16 5M1091 967l15 6M1110 1135l19 -1M1192 1050l19 -5M1114 992l18 -1M1140 894l11 20M1279 994l26 13M1164 1045l15 -9M1260 1141l13 4M1113 1015l21 -6M1302 938l20 19M1172 1165l17 17M1280 1043l11 8M1259 1123l14 1M1132 973l20 1M1117 1153l25 13M1163 921l21 9M1272 1114l22 6M1277 904l19 23M1225 1113l24 -2M1193 977l28 6M1242 1073l23 4M1253 1024l13 3M1293 1172l19 4M1263 1120l19 7M1216 1138l18 9M1125 970l16 2M1154 1017l14 -5M1309 1119l16 5M1281 995l19 12M1205 1071l29 5M1152 899l12 11M1187 1075l19 -3M1308 1076l24 5M1206 989l14 -1M1112 896l15 21M1167 1049l13 -4M1229 1120l22 4M1288 1092l25 11M1083 1152l22 -6M1170 1150l15 10M1114 950l21 6M1153 1057l14 -7M1139 1126l28 -0M1096 929l24 13M1067 1006l18 0M1155 1054l18 -9M1115 1083l20 -7M1185 964l26 2M1161 965l13 -2M1127 1169l23 14M1207 909l13 9M1205 907l17 16M1217 1117l22 6M1065 1034l29 0M1248 1136l18 6M1146 995l24 -6M1128 1125l12 0M1116 1087l14 -5M1184 1112l12 1M1087 1067l20 -0M1265 1007l25 8M1293 1108l14 4M1219 1120l14 4M1210 1052l24 -5M1087 996l14 0M1116 1129l21 -2M1157 949l15 3M1256 1149l15 3M1119 1166l25 8M1110 1066l16 -8M1339 1150l12 -3M1077 1095l12 -3M1281 906l11 24M1268 1130l20 4M1132 906l7 10M1308 1073l12 4M1245 895l15 17M1318 1083l19 7M1275 1057l15 4M1084 1027l14 -2M1340 1020l13 14M1136 1071l13 -4M1090 1079l20 -6M1258 1057l15 5M1217 1091l14 2M1230 938l14 7M1144 1095l20 -6M1326 969l14 13M1231 1050l19 1M1167 903l22 18M1175 944l27 5M1298 1157l13 1M1164 1071l13 -5M1211 968l25 2M1112 1065l18 -5M1189 1099l18 2M1218 966l17 7M1178 961l19 6M1116 1139l19 -1M1132 1035l18 -7M1140 1006l26 -5M1133 938l20 5M1273 1122l25 8M1154 1060l20 -8M1170 1105l22 -1M1268 922l13 12M1148 974l24 1M1159 997l20 -4M1317 988l11 10M1300 969l19 20M1319 982l11 12M1149 1076l14 -8M1282 1121l15 5M1147 1074l21 -7M1238 1167l13 4M1084 947l15 4M1338 974l14 14M1185 1108l26 5M1284 1102l14 5M1233 898l17 16M1305 979l20 21M1124 1132l24 7M1248 1034l18 3M1219 909l24 17M1337 1136l22 -0M1073 1163l27 -5M1067 917l17 20M1303 973l24 17M1078 947l14 10M1123 936l13 12M1154 1163l23 11M1081 1031l22 -3M1096 1045l17 -1M1224 953l20 10M1199 965l13 1M1207 1017l16 -3M1199 929l13 6M1296 967l12 7M1212 1100l14 1M1212 943l14 6M1140 1076l13 -2M1162 940l12 3M1230 942l15 9M1342 933l16 16M1302 977l11 10M1070 1067l13 -3M1190 1080l26 -4M1187 979l13 1M1279 1150l27 6M1340 1106l15 1M1337 1180l20 -7M1283 1069l28 12M1081 1051l20 -1M1246 960l16 9M1206 1160l25 11M1314 994l10 14M1227 954l13 2M1265 974l12 6M1136 1066l14 -3M1082 914l18 22M1269 931l20 16M1149 1123l29 7M1173 1124l25 2M1242 959l23 18M1096 944l10 7M1088 947l18 13M1189 1076l12 -2M1153 965l13 -2M1101 980l22 5M1187 1165l14 15M1152 1118l22 5M1111 1013l12 -1M1104 902l6 17M1146 1168l15 8M1318 1064l20 12M1150 903l11 10M1091 1044l22 -3M1259 1141l22 9M1093 903l9 16M1223 1068l17 -4M1209 1021l22 -9M1083 1131l26 -7M1073 1045l23 -8M1226 1155l13 7M1209 1084l15 -6M1090 1010l16 -1M1189 1083l14 -1M1099 1159l23 5M1262 953l18 11M1167 941l16 6M1230 1164l26 10M1209 1162l17 8M1291 949l8 12M1109 1035l25 -7M1314 1119l17 1M1068 1059l24 -6M1309 902l10 13M1128 961l14 2M1092 1136l25 -4M1139 1039l22 -6M1248 1078l18 1M1253 1021l23 8M1265 1164l16 4M1301 1174l22 1M1221 955l19 9M1075 1162l20 -4M1186 1168l13 10M1151 1117l20 4M1257 1129l24 8M1289 1111l19 6M1290 934l18 19M1122 998l16 -0M1099 1163l25 2M1078 1161l28 -11M1252 1121l13 4M1178 937l26 5M1097 1057l19 -3M1211 1086l22 5M1118 1123l16 -0M1315 986l19 21M1230 1104l18 3M1077 995l18 4M1099 1061l13 -3M1214 1087l26 8M1254 959l25 7M1165 1029l25 -3M1226 962l27 5M1292 1023l22 12M1091 1045l27 -7M1102 934l14 15M1287 999l21 10M1334 943l10 7M1328 920l13 19M1138 1103l20 1M1306 1153l20 -3M1116 1013l24 -6M1090 901l18 19M1273 929l17 15M1077 974l21 2M1276 1037l23 12M1075 1167l23 3M1131 1082l12 -3M1114 1080l26 -7M1261 1019l13 3M1143 908l13 10M1199 925l18 14M1092 972l17 6M1157 1017l17 -1M1093 1145l21 -4M1088 1040l23 -7M1327 1145l26 0M1069 1151l23 -7M1293 1061l28 7M1133 1058l28 -10M1247 1135l19 4M1327 1111l14 3M1200 906l13 10M1249 962l16 7M1163 897l22 18M1221 1084l19 -1M1168 980l18 -0M1137 914l10 7M1142 1048l21 -4M1138 1125l23 -1M1183 1014l20 -4M1131 1044l23 -7M1106 1088l27 -7M1279 1109l14 4M1267 1164l16 5M1129 1126l19 -4M1125 1153l15 8M1188 1171l11 11M1286 1017l23 11M1330 898l11 18M1253 996l21 9M1266 992l11 6M1145 1022l22 -8M1298 1009l21 17M1071 978l25 10M1125 929l10 9M1076 938l11 8M1334 1122l17 2M1110 909l15 15M1210 910l15 10M1262 955l23 17M1256 1070l22 2M1329 911l20 22M1299 951l7 10M1079 947l16 10M1216 1164l19 16M1193 975l17 -0M1240 1099l15 1M1239 949l13 8M1110 955l16 4M1155 976l23 1M1082 1087l23 -9M1256 900l20 17M1302 1179l26 1M1153 934l14 6M1238 917l16 17M1289 1035l24 9M1147 1047l15 -4M1079 1113l14 -5M1303 997l11 11M1224 1069l14 0M1232 1072l21 2M1218 907l11 12M1207 982l22 2M1287 1146l24 2M1099 905l13 16M1163 965l30 -1M1188 987l28 -3M1175 1033l23 -7M1234 995l24 2M1269 1128l19 1M1242 944l14 11M1255 960l18 9M1220 1107l24 4M1313 963l9 12M1272 1056l25 10M1129 1158l20 4M1306 997l12 12M1322 914l21 15M1129 1095l13 1M1163 1074l27 0M1150 928l21 14M1297 1112l29 9M1229 920l11 10M1214 1085l26 1M1172 945l27 8M1276 1022l21 8M1178 1068l23 -1M1194 1065l26 -6M1089 1119l12 -1M1082 1148l26 -8M1217 974l16 2M1295 931l9 10M1232 973l26 11M1312 1002l19 21M1100 1015l13 -1M1301 1077l22 9M1171 1006l13 -3M1337 1016l24 16M1230 962l21 11M1163 976l28 -4M1255 902l14 19M1216 1071l13 -2M1335 946l15 18M1259 1079l15 3M1213 904l19 23M1270 949l11 8M1146 1170l20 10M1233 980l13 1M1230 926l15 9M1202 1131l18 3M1248 1160l12 5M1182 1069l26 -4M1197 957l14 4M1188 977l15 3M1112 988l20 2M1155 1122l19 -2M1316 1051l16 7M1137 1132l22 6M1156 1007l29 -5M1179 1100l17 3M1158 906l13 13M1290 1096l25 13M1213 1134l24 7M1126 948l28 4M1153 1138l12 6M1326 1085l24 10M1275 1087l17 5M1086 1103l25 -6M1101 993l29 -0M1274 960l17 10M1261 986l15 8M1201 1053l19 -3M1140 1092l21 -2M1190 1088l22 0M1253 905l9 13M1067 1128l29 -5M1151 982l12 0M1167 1127l24 5M1224 1039l16 2M1099 1021l15 -6M1102 923l10 10M1283 1106l14 7M1292 1024l24 18M1234 1162l26 9M1292 953l18 16M1124 1146l27 10M1183 1067l25 -6M1241 908l15 15M1131 1022l15 -3M1272 1041l28 8M1311 1105l28 3M1161 1063l30 -2M1083 954l20 13M1202 1086l21 -4M1305 909l18 14M1296 1083l22 9M1326 1043l13 7M1218 1073l24 4M1194 1070l26 -7M1191 914l27 12M1228 960l22 7M1140 981l16 -0M1150 996l28 -10M1161 1044l27 -12M1102 1045l22 -3M1250 1179l30 4M1095 1013l15 0M1251 912l13 21M1254 1154l22 4M1192 1042l15 -3M1219 1119l16 1M1222 923l11 6M1213 1116l29 7M1072 1060l30 -5M1211 1047l27 1M1298 1100l12 3M1266 1172l26 4M1216 1080l24 -3M1172 932l14 6M1338 1109l24 -0M1272 1070l12 3M1093 1064l23 -5M1337 1067l11 5M1078 1066l17 -6M1293 1097l23 7M1117 1065l16 -3M1201 1127l18 7M1126 957l20 2M1203 1153l17 8M1220 1056l20 -5M1319 955l14 15M1215 1065l20 1M1289 902l8 11M1274 1142l13 0M1075 894l10 25M1089 1007l26 -0M1339 932l16 18M1133 919l10 8M1198 982l18 1M1093 1049l25 -5M1066 1061l25 -9M1328 1030l10 7M1297 1118l13 0M1103 958l18 6M1112 978l19 3M1307 1000l15 14M1138 1123l19 -7M1230 1023l27 4M1298 923l14 19M1231 1079l27 4M1272 1096l25 4M1130 953l13 6M1222 899l7 11M1336 914l12 9M1289 965l17 19M1185 1048l28 -7M1106 950l24 15M1241 1164l15 5M1143 1055l13 -6M1338 1015l9 10M1338 940l9 26M1094 953l25 10M1248 957l13 5M1096 1074l15 -9M1167 1077l12 -3M1145 1137l29 5M1321 1172l14 -2M1118 1079l24 -7M1326 1091l23 7M1229 1169l23 13M1218 904l15 12M1226 901l9 11M1065 1061l20 -4M1316 1119l14 -1M1093 1110l24 -5M1149 1074l27 -7M1253 934l10 8M1339 1125l20 3M1216 1101l24 7M1122 1152l21 5M1344 1062l12 8M1281 960l14 7M1169 1033l23 -5M1240 1171l27 11M1217 1006l16 0M1294 1001l21 21M1341 899l9 10M1187 925l15 11M1318 1033l20 16M1124 999l25 -1M1303 957l12 8M1172 1136l17 10M1184 1158l21 19M1302 1038l19 14M1315 923l15 19M1282 1073l13 4M1255 953l16 7M1334 928l13 13M1338 903l16 16M1190 1148l15 8M1107 1155l26 11M1211 1020l12 -2M1136 1043l21 -10M1316 915l9 9M1209 1059l17 -1M1237 931l14 11M1159 1170l20 17M1204 1014l23 -1M1169 989l28 1M1116 1009l15 -1M1207 1150l27 10M1100 985l15 1M1224 1087l13 -1M1297 981l13 8M1075 958l17 7M1308 896l14 17M1117 1081l16 -7M1301 1152l17 -2M1183 910l14 14M1286 1098l22 3M1236 1167l15 9M1244 1030l23 6M1198 952l14 1M1064 1049l27 -5M1191 1067l27 -0M1136 1162l27 13M1081 1003l21 4M1188 978l29 4M1113 1124l23 -4M1221 1171l12 6M1292 903l15 22M1204 1050l27 -3M1093 1139l20 2M1074 981l13 1M1281 1042l21 6M1219 904l20 22M1076 1060l19 -4M1208 1137l14 7M1155 903l23 13M1266 981l13 6M1106 947l25 10M1159 1021l14 -5M1078 910l7 14M1095 1140l20 -7M1114 1086l27 -10M1161 1036l20 -10M1144 1038l27 -3M1152 1088l14 -7M1136 1082l13 -2M1252 1129l13 1M1112 1108l26 -7M1307 1103l18 7M1291 1092l20 6M1147 1075l23 -5M1072 966l22 5M1223 1168l13 6M1181 973l26 5M1191 1098l20 2M1110 1119l19 0M1072 940l19 16M1185 1070l19 1M1070 982l16 8M1131 1157l22 8M1273 992l15 9M1245 1159l23 10M1287 1102l18 1M1252 1094l26 2M1140 1014l21 -5M1264 945l26 13M1161 1045l12 -4M1106 962l28 8M1155 1144l23 16M1155 1127l28 4M1215 1135l14 7M1212 1085l14 -1M1189 1149l28 3M1200 976l19 2M1263 1033l20 3M1251 1016l24 5M1133 1009l25 -6M1250 1045l24 1M1290 1034l13 5M1180 1133l15 3M1115 954l13 4M1223 978l17 3M1221 1094l25 -2M1149 951l16 3M1339 1060l12 6M1289 995l16 11M1136 1096l25 -2M1305 1095l25 2M1076 1164l15 -2M1262 961l13 8M1179 1026l22 -3M1089 1017l18 -3M1247 973l17 4M1259 921l17 18M1228 1113l28 10M1270 976l15 9M1123 921l25 15M1282 1057l14 5M1295 924l15 20M1083 1037l17 -2M1077 1017l22 2M1292 948l16 16M1171 1106l29 -0M1221 1069l14 2M1233 1175l11 9M1321 917l9 11M1279 934l15 13M1278 999l12 6M1292 1141l21 0M1181 1099l24 -1M1124 1003l18 1M1314 1034l16 14M1233 907l10 10M1083 975l21 7M1117 1056l14 -4M1325 1133l22 -2M1306 943l15 17M1316 1004l16 19M1218 1148l12 8M1091 951l28 8M1134 933l17 8M1281 1065l19 8M1304 940l16 15M1244 971l15 3M1305 982l17 23M1123 944l12 5M1208 962l26 9M1145 1062l24 -12M1275 1143l16 4M1095 1175l13 1M1125 1017l19 -5M1111 1140l13 1M1174 909l9 10M1081 1093l24 -9M1245 960l24 12M1158 1083l15 -0M1264 952l13 8M1109 1130l28 2M1103 941l21 6M1309 1089l17 7M1210 919l20 13M1313 974l14 15M1273 979l12 11M1317 969l11 10M1153 1098l28 2M1208 1109l28 2M1263 1036l18 5M1154 1164l13 7M1227 1051l27 5M1218 990l19 -0M1221 1041l12 -3M1276 1083l24 15M1326 1019l22 20M1325 1085l17 5M1277 1012l11 5M1149 932l26 13M1176 1002l15 -1M1175 952l29 8M1148 1046l25 -10M1294 1145l22 1M1185 921l26 12M1297 925l17 14M1067 1138l27 -5M1064 986l27 7M1230 1114l15 3M1233 898l10 25M1128 1076l27 -9M1132 1063l20 -7M1305 987l13 14M1226 1112l28 5M1163 1152l26 9M1299 951l18 12M1250 1032l21 8M1074 953l20 16M1091 931l18 16M1188 1101l21 2M1082 953l13 8M1215 955l18 2M1122 906l19 15M1264 1049l16 5M1189 1100l19 -4M1170 1082l24 -0M1271 1093l24 8M1224 968l13 3M1216 1020l30 5M1157 1115l21 7M1098 1169l18 0M1282 1038l22 10M1316 1052l18 9M1102 1124l17 -2M1328 1149l25 -4M1110 1022l29 -1M1073 1177l21 1M1325 1131l21 -5M1111 1114l13 0M1200 1118l24 8M1113 1037l22 -5M1144 1131l15 3M1343 910l12 12M1314 1071l13 9M1130 1163l13 6M1280 907l18 19M1307 1180l19 -5M1320 898l19 17M1102 1115l19 -3M1208 903l13 13M1316 1173l18 -8M1202 1041l25 -5M1170 917l23 10M1251 1064l22 5M1231 1157l22 11M1204 1133l23 6M1090 1142l22 2M1102 1052l12 -3M1337 919l17 20M1134 969l18 2M1330 908l12 16" stroke="#7c7c7c" stroke-width="1.4" stroke-linecap="round" fill="none" opacity="0.6"/>
</g><g filter="url(#soft2)">
<ellipse cx="1160" cy="946" rx="3.6" ry="2.8" fill="#8a8a8a" stroke="#cdcdcd" stroke-width="2" opacity="1"/>
<ellipse cx="1180" cy="924" rx="4.4" ry="3.4" fill="#8a8a8a" stroke="#cdcdcd" stroke-width="2" opacity="0.6"/>
<ellipse cx="1287.5" cy="941.5" rx="4.0" ry="3.2" fill="#8a8a8a" stroke="#cdcdcd" stroke-width="2" opacity="1"/>
<ellipse cx="1092.5" cy="980" rx="4.0" ry="3.2" fill="#8a8a8a" stroke="#cdcdcd" stroke-width="2" opacity="1"/>
<ellipse cx="1091.5" cy="991.5" rx="4.0" ry="3.2" fill="#8a8a8a" stroke="#cdcdcd" stroke-width="2" opacity="1"/>
<ellipse cx="1244" cy="1014" rx="4.0" ry="3.5" fill="#8a8a8a" stroke="#cdcdcd" stroke-width="2" opacity="1"/>
<ellipse cx="1272.5" cy="1016.5" rx="4.1" ry="3.2" fill="#8a8a8a" stroke="#cdcdcd" stroke-width="2" opacity="1"/>
<ellipse cx="1084" cy="1039" rx="3.7" ry="2.8" fill="#8a8a8a" stroke="#cdcdcd" stroke-width="2" opacity="1"/>
<ellipse cx="1299" cy="1037.5" rx="4.3" ry="3.8" fill="#8a8a8a" stroke="#cdcdcd" stroke-width="2" opacity="1"/>
<ellipse cx="1191.5" cy="1082.5" rx="4.3" ry="3.8" fill="#8a8a8a" stroke="#cdcdcd" stroke-width="2" opacity="1"/>
<ellipse cx="1100" cy="1112.5" rx="4.1" ry="3.8" fill="#8a8a8a" stroke="#cdcdcd" stroke-width="2" opacity="0.6"/>
<ellipse cx="1245" cy="1116.5" rx="4.0" ry="3.1" fill="#8a8a8a" stroke="#cdcdcd" stroke-width="2" opacity="1"/>
<ellipse cx="1155" cy="1138.5" rx="4.4" ry="3.4" fill="#8a8a8a" stroke="#cdcdcd" stroke-width="2" opacity="1"/>
<ellipse cx="1260" cy="1146" rx="4.0" ry="3.3" fill="#8a8a8a" stroke="#cdcdcd" stroke-width="2" opacity="1"/>
<ellipse cx="1267.5" cy="1142.5" rx="3.8" ry="2.9" fill="#8a8a8a" stroke="#cdcdcd" stroke-width="2" opacity="1"/>
<ellipse cx="1195" cy="1139" rx="4.5" ry="3.8" fill="#8a8a8a" stroke="#cdcdcd" stroke-width="2" opacity="1"/>
</g></g>
<path d="M1076.7 1178.5V906.4H1348.9" fill="none" stroke="#a9a9a9" stroke-width="2"/>
<rect x="1074.7" y="904.4" width="275.2" height="275.1" fill="none" stroke="#000" stroke-width="2.1"/>
<text x="1077.33" y="1174.1" font-size="22.48" font-weight="bold" fill="#f6f6f6" textLength="176.33" lengthAdjust="spacingAndGlyphs" >x4 magnification</text>
<rect x="189.1" y="1510.1" width="45.3" height="29.2" fill="#69bd2f"/>
<rect x="189.1" y="1539.3" width="45.3" height="3.6" fill="#df0505"/>
<rect x="189.1" y="1542.9" width="45.3" height="255.7" fill="#0505f7"/>
<rect x="189.1" y="1539.6" width="45.3" height="2" fill="#8a4a1a"/>
<rect x="189.5" y="1510.5" width="44.5" height="288.5" fill="none" stroke="#000" stroke-opacity="0.18" stroke-width="0.8"/>
<rect x="255.7" y="1510.1" width="45.1" height="32.8" fill="#69bd2f"/>
<rect x="255.7" y="1542.9" width="45.1" height="4.6" fill="#df0505"/>
<rect x="255.7" y="1547.5" width="45.1" height="251.1" fill="#0505f7"/>
<rect x="256.1" y="1510.5" width="44.3" height="288.5" fill="none" stroke="#000" stroke-opacity="0.18" stroke-width="0.8"/>
<rect x="324.1" y="1510.1" width="44.7" height="76.1" fill="#69bd2f"/>
<rect x="324.1" y="1586.2" width="44.7" height="29.8" fill="#df0505"/>
<rect x="324.1" y="1616" width="44.7" height="182.6" fill="#0505f7"/>
<rect x="324.1" y="1585.2" width="44.7" height="2" fill="#7a3a10"/>
<rect x="324.1" y="1615" width="44.7" height="2" fill="#5a1a8a"/>
<rect x="324.5" y="1510.5" width="43.9" height="288.5" fill="none" stroke="#000" stroke-opacity="0.18" stroke-width="0.8"/>
<rect x="390.2" y="1510.1" width="45" height="90.8" fill="#69bd2f"/>
<rect x="390.2" y="1600.9" width="45" height="29.2" fill="#df0505"/>
<rect x="390.2" y="1630.1" width="45" height="168.5" fill="#0505f7"/>
<rect x="390.6" y="1510.5" width="44.2" height="288.5" fill="none" stroke="#000" stroke-opacity="0.18" stroke-width="0.8"/>
<line x1="166.2" y1="1361" x2="166.2" y2="1803.8" stroke="#000" stroke-width="4.5" stroke-linecap="butt"/>
<line x1="148.1" y1="1801.1" x2="460.3" y2="1801.1" stroke="#000" stroke-width="5.4" stroke-linecap="butt"/>
<line x1="148.1" y1="1654.7" x2="166.2" y2="1654.7" stroke="#000" stroke-width="4.4" stroke-linecap="butt"/>
<line x1="148.1" y1="1510.3" x2="166.2" y2="1510.3" stroke="#000" stroke-width="4.4" stroke-linecap="butt"/>
<line x1="148.1" y1="1363.6" x2="166.2" y2="1363.6" stroke="#000" stroke-width="5.0" stroke-linecap="butt"/>
<text x="87.25" y="1374.5" font-size="33.98" font-weight="bold" fill="#000" textLength="54.8" lengthAdjust="spacingAndGlyphs" >150</text>
<text x="87.25" y="1520.4" font-size="33.84" font-weight="bold" fill="#000" textLength="54.8" lengthAdjust="spacingAndGlyphs" >100</text>
<text x="105.02" y="1665.7" font-size="34.41" font-weight="bold" fill="#000" textLength="36.47" lengthAdjust="spacingAndGlyphs" >50</text>
<text x="123.29" y="1811.2" font-size="33.55" font-weight="bold" fill="#000" textLength="18.15" lengthAdjust="spacingAndGlyphs" >0</text>
<line x1="209.9" y1="1801.1" x2="209.9" y2="1817.8" stroke="#000" stroke-width="4.0" stroke-linecap="butt"/>
<text transform="translate(216.9,1859.5) rotate(-90)" x="-1.23" y="0" font-size="24.73" font-weight="bold" fill="#000" textLength="42.14" lengthAdjust="spacingAndGlyphs" >UNT</text>
<line x1="278" y1="1801.1" x2="278" y2="1817.8" stroke="#000" stroke-width="4.0" stroke-linecap="butt"/>
<text transform="translate(286.9,1846.2) rotate(-90)" x="-0.56" y="0" font-size="24" font-weight="bold" fill="#000" textLength="28.21" lengthAdjust="spacingAndGlyphs" >AT</text>
<line x1="344.2" y1="1801.1" x2="344.2" y2="1817.8" stroke="#000" stroke-width="4.0" stroke-linecap="butt"/>
<text transform="translate(351.2,1851.9) rotate(-90)" x="-1.57" y="0" font-size="24.73" font-weight="bold" fill="#000" textLength="36.19" lengthAdjust="spacingAndGlyphs" >BM</text>
<line x1="412.5" y1="1801.1" x2="412.5" y2="1817.8" stroke="#000" stroke-width="4.0" stroke-linecap="butt"/>
<text transform="translate(419.3,1851.9) rotate(-90)" x="-0" y="0" font-size="24.73" font-weight="bold" fill="#000" textLength="34.66" lengthAdjust="spacingAndGlyphs" >WJ</text>
<text x="168.36" y="1339.5" font-size="27.31" font-weight="bold" fill="#000" textLength="238.74" lengthAdjust="spacingAndGlyphs" >Dermal fibroblasts</text>
<text transform="translate(81.4,1754.5) rotate(-90)" x="-1.51" y="0" font-size="29.24" font-weight="normal" fill="#000" textLength="338.14" lengthAdjust="spacingAndGlyphs" stroke="#000" stroke-width="0.45">Cell cycle distribution (%)</text>
<rect x="493.5" y="1371.5" width="47.3" height="24" fill="#0505f7" stroke="#2a2a9a" stroke-width="0.9"/>
<rect x="493.5" y="1421.2" width="47.3" height="22.3" fill="#df0505" stroke="#8a1a10" stroke-width="0.9"/>
<rect x="493.5" y="1469.2" width="47.3" height="21.6" fill="#69bd2f" stroke="#4f7f2a" stroke-width="0.9"/>
<text x="566.1" y="1394.2" font-size="37.85" font-weight="normal" fill="#000" textLength="45.26" lengthAdjust="spacingAndGlyphs" >G1</text>
<text x="566.92" y="1442.2" font-size="35.84" font-weight="normal" fill="#000" textLength="23.45" lengthAdjust="spacingAndGlyphs" >S</text>
<text x="565.96" y="1490.8" font-size="35.45" font-weight="normal" fill="#000" textLength="90.08" lengthAdjust="spacingAndGlyphs" >G2/M</text>
<rect x="924.5" y="1512.3" width="43.4" height="45.6" fill="#69bd2f"/>
<rect x="924.5" y="1557.9" width="43.4" height="34.2" fill="#df0505"/>
<rect x="924.5" y="1592.1" width="43.4" height="208.4" fill="#0505f7"/>
<rect x="924.5" y="1556.9" width="43.4" height="2" fill="#7a4a10"/>
<rect x="924.9" y="1512.7" width="42.6" height="288.2" fill="none" stroke="#000" stroke-opacity="0.18" stroke-width="0.8"/>
<rect x="990.7" y="1512.3" width="45.1" height="41.3" fill="#69bd2f"/>
<rect x="990.7" y="1553.6" width="45.1" height="29" fill="#df0505"/>
<rect x="990.7" y="1582.6" width="45.1" height="217.9" fill="#0505f7"/>
<rect x="990.7" y="1552.6" width="45.1" height="2" fill="#7a4a10"/>
<rect x="990.7" y="1581.6" width="45.1" height="2" fill="#6a2aa0"/>
<rect x="991.1" y="1512.7" width="44.3" height="288.2" fill="none" stroke="#000" stroke-opacity="0.18" stroke-width="0.8"/>
<rect x="1059.1" y="1512.3" width="42.9" height="53.8" fill="#69bd2f"/>
<rect x="1059.1" y="1566.1" width="42.9" height="34.4" fill="#df0505"/>
<rect x="1059.1" y="1600.5" width="42.9" height="200" fill="#0505f7"/>
<rect x="1059.1" y="1565.1" width="42.9" height="2" fill="#7a3a10"/>
<rect x="1059.5" y="1512.7" width="42.1" height="288.2" fill="none" stroke="#000" stroke-opacity="0.18" stroke-width="0.8"/>
<rect x="1125.7" y="1512.3" width="44.7" height="62.3" fill="#69bd2f"/>
<rect x="1125.7" y="1574.6" width="44.7" height="32.8" fill="#df0505"/>
<rect x="1125.7" y="1607.4" width="44.7" height="193.1" fill="#0505f7"/>
<rect x="1125.7" y="1573.6" width="44.7" height="2" fill="#7a3a10"/>
<rect x="1125.7" y="1606.4" width="44.7" height="2" fill="#6a2aa0"/>
<rect x="1126.1" y="1512.7" width="43.9" height="288.2" fill="none" stroke="#000" stroke-opacity="0.18" stroke-width="0.8"/>
<line x1="901.3" y1="1363.8" x2="901.3" y2="1805.7" stroke="#000" stroke-width="4.5" stroke-linecap="butt"/>
<line x1="883.2" y1="1803" x2="1195.3" y2="1803" stroke="#000" stroke-width="5.4" stroke-linecap="butt"/>
<line x1="883.2" y1="1657" x2="901.3" y2="1657" stroke="#000" stroke-width="4.4" stroke-linecap="butt"/>
<line x1="883.2" y1="1511.8" x2="901.3" y2="1511.8" stroke="#000" stroke-width="4.4" stroke-linecap="butt"/>
<line x1="883.2" y1="1366.4" x2="901.3" y2="1366.4" stroke="#000" stroke-width="5.0" stroke-linecap="butt"/>
<text x="821.92" y="1376.9" font-size="34.41" font-weight="bold" fill="#000" textLength="55.55" lengthAdjust="spacingAndGlyphs" >150</text>
<text x="821.92" y="1522.3" font-size="35.27" font-weight="bold" fill="#000" textLength="55.44" lengthAdjust="spacingAndGlyphs" >100</text>
<text x="839.99" y="1668.2" font-size="34.98" font-weight="bold" fill="#000" textLength="37.33" lengthAdjust="spacingAndGlyphs" >50</text>
<text x="858.12" y="1813.6" font-size="33.12" font-weight="bold" fill="#000" textLength="19.2" lengthAdjust="spacingAndGlyphs" >0</text>
<line x1="944.8" y1="1803" x2="944.8" y2="1819.3" stroke="#000" stroke-width="4.0" stroke-linecap="butt"/>
<text transform="translate(951.2,1863.8) rotate(-90)" x="-1.2" y="0" font-size="22.84" font-weight="bold" fill="#000" textLength="41.21" lengthAdjust="spacingAndGlyphs" >UNT</text>
<line x1="1013.1" y1="1803" x2="1013.1" y2="1819.3" stroke="#000" stroke-width="4.0" stroke-linecap="butt"/>
<text transform="translate(1022.2,1849) rotate(-90)" x="-0.51" y="0" font-size="23.42" font-weight="bold" fill="#000" textLength="25.74" lengthAdjust="spacingAndGlyphs" >AT</text>
<line x1="1080" y1="1803" x2="1080" y2="1819.3" stroke="#000" stroke-width="4.0" stroke-linecap="butt"/>
<text transform="translate(1086.5,1853.4) rotate(-90)" x="-1.48" y="0" font-size="24.73" font-weight="bold" fill="#000" textLength="34.11" lengthAdjust="spacingAndGlyphs" >BM</text>
<line x1="1148" y1="1803" x2="1148" y2="1819.3" stroke="#000" stroke-width="4.0" stroke-linecap="butt"/>
<text transform="translate(1154.6,1853.4) rotate(-90)" x="-0" y="0" font-size="24.73" font-weight="bold" fill="#000" textLength="31.73" lengthAdjust="spacingAndGlyphs" >WJ</text>
<text x="899.3" y="1339.9" font-size="28.14" font-weight="bold" fill="#000" textLength="255.7" lengthAdjust="spacingAndGlyphs" >Gingival fibroblasts</text>
<text transform="translate(812.3,1732.1) rotate(-90)" x="-1.5" y="0" font-size="28.69" font-weight="normal" fill="#000" textLength="336.83" lengthAdjust="spacingAndGlyphs" stroke="#000" stroke-width="0.45">Cell cycle distribution (%)</text>
<rect x="1237.2" y="1350.5" width="47.3" height="22.6" fill="#0505f7" stroke="#2a2a9a" stroke-width="0.9"/>
<rect x="1237.2" y="1396.5" width="47.3" height="22.3" fill="#df0505" stroke="#8a1a10" stroke-width="0.9"/>
<rect x="1237.2" y="1443.8" width="47.3" height="24.3" fill="#69bd2f" stroke="#4f7f2a" stroke-width="0.9"/>
<text x="1310.56" y="1371.5" font-size="36.85" font-weight="normal" fill="#000" textLength="43.75" lengthAdjust="spacingAndGlyphs" >G1</text>
<text x="1311.03" y="1417.7" font-size="36.27" font-weight="normal" fill="#000" textLength="23.33" lengthAdjust="spacingAndGlyphs" >S</text>
<text x="1310.4" y="1466.4" font-size="34.9" font-weight="normal" fill="#000" textLength="88.07" lengthAdjust="spacingAndGlyphs" >G2/M</text>
</svg>
</body></html>
